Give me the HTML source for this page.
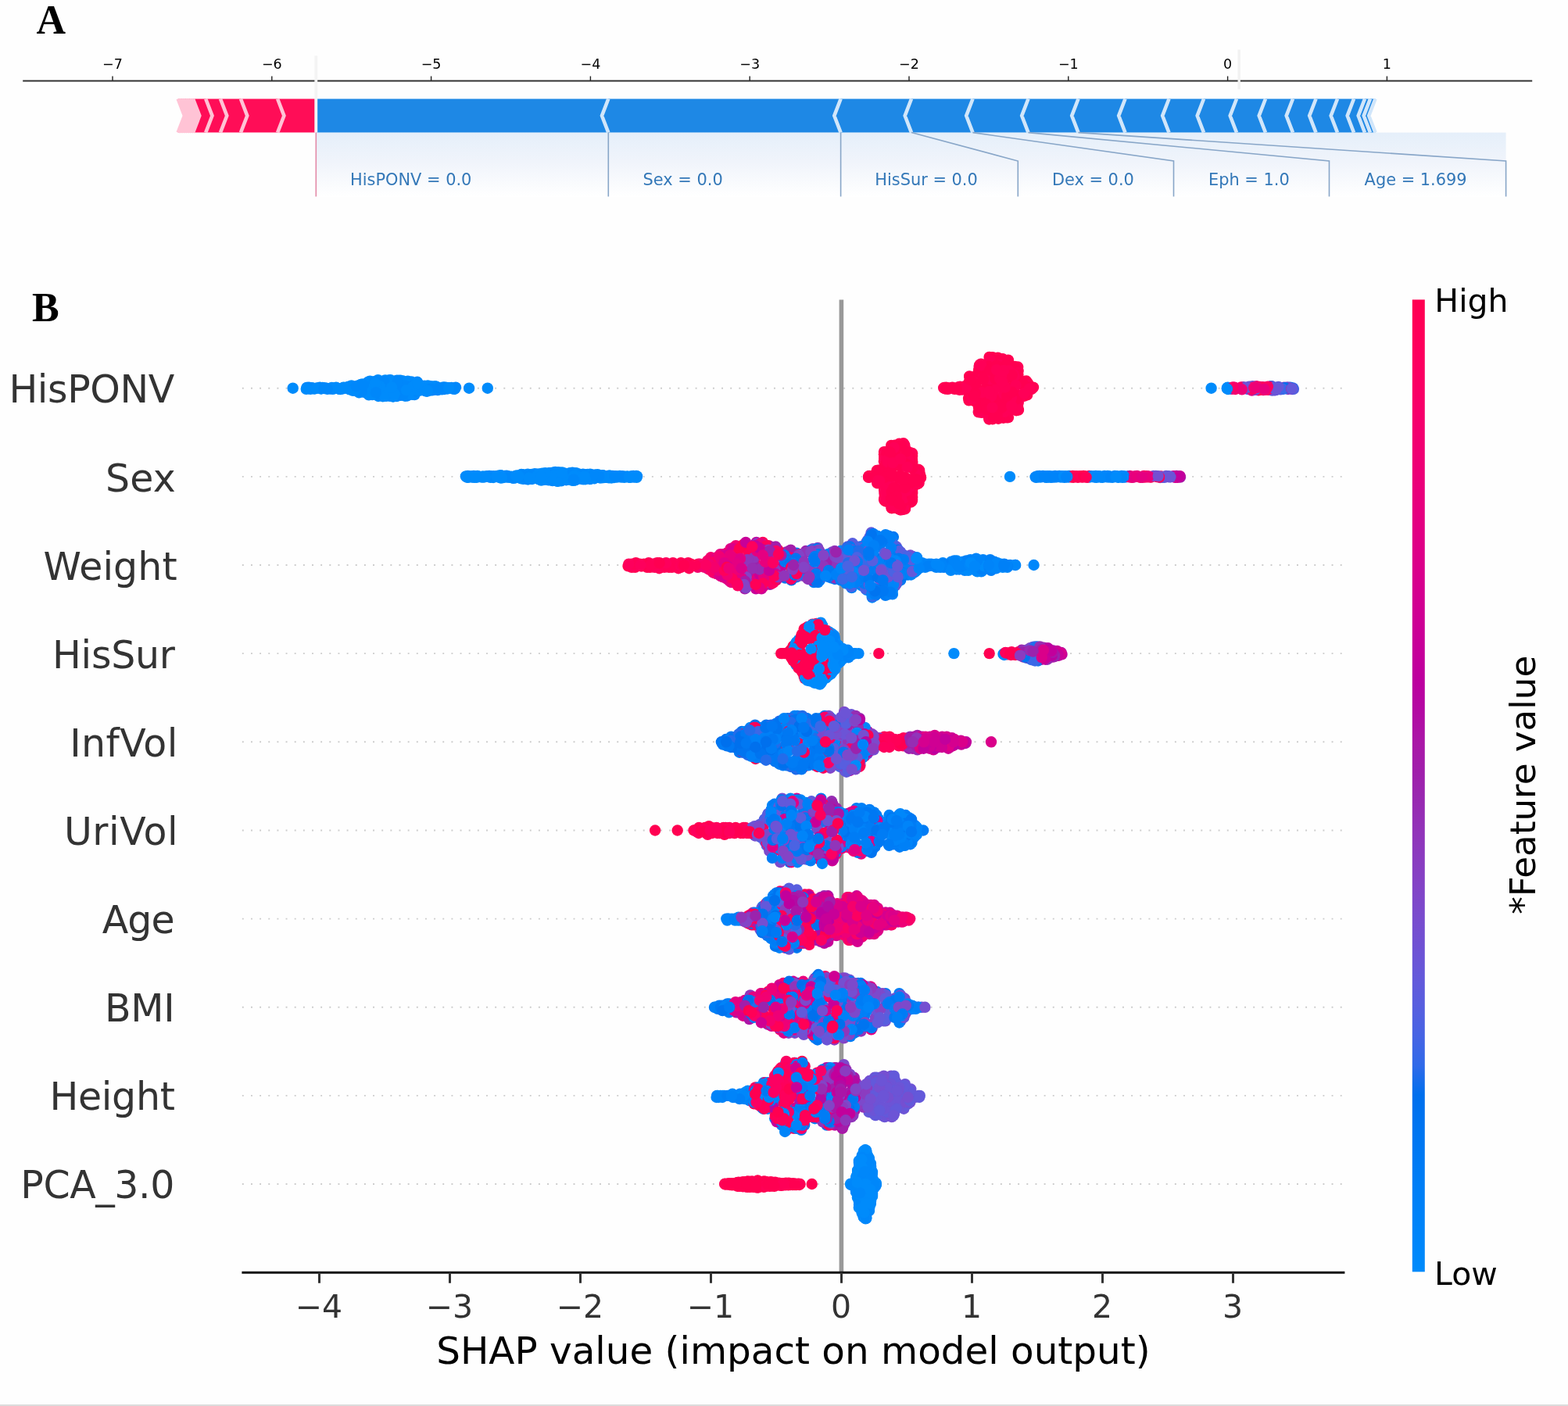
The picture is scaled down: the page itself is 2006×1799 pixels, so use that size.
<!DOCTYPE html><html><head><meta charset="utf-8"><title>SHAP</title><style>html,body{margin:0;padding:0;background:#fff}body{width:2006px;height:1799px;overflow:hidden}svg{display:block}.d path{fill:none;stroke-linecap:round;stroke-width:14.4}</style></head><body><svg width="2006" height="1799" viewBox="0 0 2006 1799"><rect width="2006" height="1799" fill="#fefefe"/><defs><linearGradient id="gshade" x1="0" y1="0" x2="0" y2="1"><stop offset="0" stop-color="#e5effa"/><stop offset="0.45" stop-color="#f0f4fb"/><stop offset="1" stop-color="#ffffff"/></linearGradient><linearGradient id="gcb" x1="0" y1="0" x2="0" y2="1"><stop offset="0.000" stop-color="#ff0051"/><stop offset="0.030" stop-color="#ff0058"/><stop offset="0.061" stop-color="#fd005f"/><stop offset="0.091" stop-color="#fa0065"/><stop offset="0.121" stop-color="#f6006c"/><stop offset="0.152" stop-color="#f10072"/><stop offset="0.182" stop-color="#ec0078"/><stop offset="0.212" stop-color="#e7007e"/><stop offset="0.242" stop-color="#e10084"/><stop offset="0.273" stop-color="#db008a"/><stop offset="0.303" stop-color="#d40090"/><stop offset="0.333" stop-color="#cd0095"/><stop offset="0.364" stop-color="#c5009a"/><stop offset="0.394" stop-color="#bc009f"/><stop offset="0.424" stop-color="#b30aa3"/><stop offset="0.455" stop-color="#aa17a7"/><stop offset="0.485" stop-color="#a01fab"/><stop offset="0.515" stop-color="#9829b1"/><stop offset="0.545" stop-color="#9233b9"/><stop offset="0.576" stop-color="#8a3cc0"/><stop offset="0.606" stop-color="#8244c7"/><stop offset="0.636" stop-color="#794cce"/><stop offset="0.667" stop-color="#6f52d4"/><stop offset="0.697" stop-color="#6459da"/><stop offset="0.727" stop-color="#575fdf"/><stop offset="0.758" stop-color="#4664e4"/><stop offset="0.788" stop-color="#306ae9"/><stop offset="0.818" stop-color="#006fed"/><stop offset="0.848" stop-color="#0074f0"/><stop offset="0.879" stop-color="#0079f3"/><stop offset="0.909" stop-color="#007ef6"/><stop offset="0.939" stop-color="#0082f8"/><stop offset="0.970" stop-color="#0086fa"/><stop offset="1.000" stop-color="#008bfb"/></linearGradient></defs><rect x="404.3" y="169.6" width="1522.3" height="82.4" fill="url(#gshade)"/><line x1="29.2" y1="103.6" x2="1960.2" y2="103.6" stroke="#333" stroke-width="2"/><path d="M144.0 97.6V103M347.8 97.6V103M551.6 97.6V103M755.4 97.6V103M959.2 97.6V103M1163.0 97.6V103M1366.8 97.6V103M1570.6 97.6V103M1774.4 97.6V103" stroke="#222" stroke-width="1.4" fill="none"/><g font-family="'DejaVu Sans','Liberation Sans',sans-serif" font-size="17.5" fill="#000"><text x="144.0" y="88" text-anchor="middle">−7</text><text x="347.8" y="88" text-anchor="middle">−6</text><text x="551.6" y="88" text-anchor="middle">−5</text><text x="755.4" y="88" text-anchor="middle">−4</text><text x="959.2" y="88" text-anchor="middle">−3</text><text x="1163.0" y="88" text-anchor="middle">−2</text><text x="1366.8" y="88" text-anchor="middle">−1</text><text x="1570.6" y="88" text-anchor="middle">0</text><text x="1774.4" y="88" text-anchor="middle">1</text></g><line x1="1585.2" y1="63.5" x2="1585.2" y2="114.3" stroke="#f2f2f2" stroke-width="3.3"/><path d="M778.3 169.6L404.3 169.6L404.3 126.5L778.3 126.5L770.0 148.1ZM778.3 169.6L1075.6 169.6L1068.1 148.1L1075.6 126.5L778.3 126.5L770.8 148.1ZM1075.6 169.6L1166.0 169.6L1158.5 148.1L1166.0 126.5L1075.6 126.5L1068.1 148.1ZM1166.0 169.6L1244.5 169.6L1237.0 148.1L1244.5 126.5L1166.0 126.5L1158.5 148.1ZM1244.5 169.6L1315.5 169.6L1308.0 148.1L1315.5 126.5L1244.5 126.5L1237.0 148.1ZM1315.5 169.6L1379.5 169.6L1372.0 148.1L1379.5 126.5L1315.5 126.5L1308.0 148.1ZM1379.5 169.6L1439.5 169.6L1432.0 148.1L1439.5 126.5L1379.5 126.5L1372.0 148.1ZM1439.5 169.6L1495.5 169.6L1488.0 148.1L1495.5 126.5L1439.5 126.5L1432.0 148.1ZM1495.5 169.6L1540.0 169.6L1532.5 148.1L1540.0 126.5L1495.5 126.5L1488.0 148.1ZM1540.0 169.6L1582.0 169.6L1574.5 148.1L1582.0 126.5L1540.0 126.5L1532.5 148.1ZM1582.0 169.6L1619.0 169.6L1611.5 148.1L1619.0 126.5L1582.0 126.5L1574.5 148.1ZM1619.0 169.6L1654.0 169.6L1646.5 148.1L1654.0 126.5L1619.0 126.5L1611.5 148.1ZM1654.0 169.6L1683.5 169.6L1676.0 148.1L1683.5 126.5L1654.0 126.5L1646.5 148.1ZM1683.5 169.6L1711.0 169.6L1703.5 148.1L1711.0 126.5L1683.5 126.5L1676.0 148.1ZM1711.0 169.6L1732.0 169.6L1724.5 148.1L1732.0 126.5L1711.0 126.5L1703.5 148.1ZM1732.0 169.6L1746.0 169.6L1738.5 148.1L1746.0 126.5L1732.0 126.5L1724.5 148.1ZM1746.0 169.6L1753.0 169.6L1745.5 148.1L1753.0 126.5L1746.0 126.5L1738.5 148.1ZM1753.0 169.6L1759.5 169.6L1752.0 148.1L1759.5 126.5L1753.0 126.5L1745.5 148.1Z" fill="#1e88e5"/><path d="M778.3 169.6L770.0 148.1L778.3 126.5M1075.6 169.6L1067.3 148.1L1075.6 126.5M1166.0 169.6L1157.7 148.1L1166.0 126.5M1244.5 169.6L1236.2 148.1L1244.5 126.5M1315.5 169.6L1307.2 148.1L1315.5 126.5M1379.5 169.6L1371.2 148.1L1379.5 126.5M1439.5 169.6L1431.2 148.1L1439.5 126.5M1495.5 169.6L1487.2 148.1L1495.5 126.5M1540.0 169.6L1531.7 148.1L1540.0 126.5M1582.0 169.6L1573.7 148.1L1582.0 126.5M1619.0 169.6L1610.7 148.1L1619.0 126.5M1654.0 169.6L1645.7 148.1L1654.0 126.5M1683.5 169.6L1675.2 148.1L1683.5 126.5M1711.0 169.6L1702.7 148.1L1711.0 126.5M1732.0 169.6L1723.7 148.1L1732.0 126.5M1746.0 169.6L1737.7 148.1L1746.0 126.5M1753.0 169.6L1744.7 148.1L1753.0 126.5M1759.5 169.6L1751.2 148.1L1759.5 126.5" fill="none" stroke="#d1e6fa" stroke-width="4.6"/><path d="M355.1 169.6L402.8 169.6L402.8 126.5L355.1 126.5L363.4 148.1ZM308.0 169.6L355.1 169.6L362.6 148.1L355.1 126.5L308.0 126.5L315.5 148.1ZM282.0 169.6L308.0 169.6L315.5 148.1L308.0 126.5L282.0 126.5L289.5 148.1ZM263.2 169.6L282.0 169.6L289.5 148.1L282.0 126.5L263.2 126.5L270.7 148.1ZM247.0 169.6L263.2 169.6L270.7 148.1L263.2 126.5L247.0 126.5L254.5 148.1ZM244.5 169.6L247.0 169.6L254.5 148.1L247.0 126.5L244.5 126.5L252.0 148.1ZM242.0 169.6L244.5 169.6L252.0 148.1L244.5 126.5L242.0 126.5L249.5 148.1ZM239.5 169.6L242.0 169.6L249.5 148.1L242.0 126.5L239.5 126.5L247.0 148.1ZM237.0 169.6L239.5 169.6L247.0 148.1L239.5 126.5L237.0 126.5L244.5 148.1ZM234.5 169.6L237.0 169.6L244.5 148.1L237.0 126.5L234.5 126.5L242.0 148.1ZM232.0 169.6L234.5 169.6L242.0 148.1L234.5 126.5L232.0 126.5L239.5 148.1ZM229.7 169.6L232.0 169.6L239.5 148.1L232.0 126.5L229.7 126.5L237.2 148.1ZM227.7 169.6L229.7 169.6L237.2 148.1L229.7 126.5L227.7 126.5L235.2 148.1Z" fill="#ff0d57"/><path d="M355.1 169.6L363.4 148.1L355.1 126.5M308.0 169.6L316.3 148.1L308.0 126.5M282.0 169.6L290.3 148.1L282.0 126.5M263.2 169.6L271.5 148.1L263.2 126.5M247.0 169.6L255.3 148.1L247.0 126.5M244.5 169.6L252.8 148.1L244.5 126.5M242.0 169.6L250.3 148.1L242.0 126.5M239.5 169.6L247.8 148.1L239.5 126.5M237.0 169.6L245.3 148.1L237.0 126.5M234.5 169.6L242.8 148.1L234.5 126.5M232.0 169.6L240.3 148.1L232.0 126.5M229.7 169.6L238.0 148.1L229.7 126.5M227.7 169.6L236.0 148.1L227.7 126.5" fill="none" stroke="#ffc3d5" stroke-width="4.6"/><line x1="404.3" y1="71.3" x2="404.3" y2="169.6" stroke="#f4f4f4" stroke-width="3.8"/><line x1="404.3" y1="169.6" x2="404.3" y2="251.5" stroke="#e38aa8" stroke-width="1.6"/><path d="M778.3 169.6V251.5M1075.6 169.6V251.5M1166.0 169.6L1302.3 206V251.5M1244.5 169.6L1501.5 206V251.5M1315.5 169.6L1700.5 206V251.5M1379.5 169.6L1926.6 206V251.5" fill="none" stroke="#88a6c8" stroke-width="1.6"/><g font-family="'DejaVu Sans','Liberation Sans',sans-serif" font-size="20.9" fill="#3478b8"><text x="448.0" y="236.8">HisPONV = 0.0</text><text x="822.6" y="236.8">Sex = 0.0</text><text x="1119.3" y="236.8">HisSur = 0.0</text><text x="1345.9" y="236.8">Dex = 0.0</text><text x="1546.0" y="236.8">Eph = 1.0</text><text x="1745.6" y="236.8">Age = 1.699</text></g><text x="46.6" y="42.6" font-family="'Liberation Serif','DejaVu Serif',serif" font-weight="bold" font-size="52" fill="#000">A</text><text x="41.1" y="410.6" font-family="'Liberation Serif','DejaVu Serif',serif" font-weight="bold" font-size="52" fill="#000">B</text><path d="M309.85 496.7H1720.4M309.85 609.9H1720.4M309.85 723.0H1720.4M309.85 836.1H1720.4M309.85 949.3H1720.4M309.85 1062.5H1720.4M309.85 1175.6H1720.4M309.85 1288.8H1720.4M309.85 1401.9H1720.4M309.85 1515.0H1720.4" stroke="#cccccc" stroke-width="1.9" stroke-dasharray="1.9 9.25" fill="none"/><line x1="1076.4" y1="383.4" x2="1076.4" y2="1628.2" stroke="#999999" stroke-width="5.6"/><g class="d"><path stroke="#0087fa" d="M1095.5 1505.0h0"/><path stroke="#ff0051" d="M956.9 1511.4h0M1009.1 1513.7h0"/><path stroke="#0087fa" d="M1098.9 1485.4h0"/><path stroke="#ff0051" d="M956.0 1518.7h0"/><path stroke="#0087fa" d="M1088.4 1516.0h0"/><path stroke="#ff0051" d="M999.6 1516.9h0M943.8 1517.8h0"/><path stroke="#ff0057" d="M986.4 1512.3h0"/><path stroke="#0087fa" d="M1116.0 1499.5h0"/><path stroke="#008bfb" d="M1095.0 1523.7h0M1108.2 1558.8h0M1098.8 1545.1h0M1115.9 1501.4h0"/><path stroke="#ff0051" d="M953.7 1518.2h0"/><path stroke="#0087fa" d="M1102.8 1478.6h0"/><path stroke="#ff0057" d="M932.5 1514.1h0"/><path stroke="#ff0051" d="M1008.7 1516.4h0"/><path stroke="#ff0057" d="M927.5 1514.6h0"/><path stroke="#008bfb" d="M1108.3 1473.1h0"/><path stroke="#ff0051" d="M1000.7 1514.1h0"/><path stroke="#ff0057" d="M1023.6 1515.0h0"/><path stroke="#0087fa" d="M1110.3 1479.0h0"/><path stroke="#ff0057" d="M1001.9 1516.4h0M997.6 1516.4h0"/><path stroke="#0087fa" d="M1088.7 1515.5h0"/><path stroke="#008bfb" d="M1098.9 1537.8h0"/><path stroke="#ff0057" d="M979.5 1511.9h0"/><path stroke="#008bfb" d="M1113.8 1540.6h0"/><path stroke="#ff0057" d="M969.4 1510.5h0M1011.5 1516.0h0M1003.2 1514.1h0"/><path stroke="#ff0051" d="M959.5 1518.7h0M956.6 1518.2h0M1013.9 1516.0h0"/><path stroke="#ff0057" d="M995.7 1516.4h0M940.0 1516.4h0"/><path stroke="#008bfb" d="M1102.7 1551.5h0"/><path stroke="#ff0051" d="M927.8 1515.5h0"/><path stroke="#008bfb" d="M1117.5 1521.0h0M1099.0 1541.5h0"/><path stroke="#0087fa" d="M1120.8 1516.0h0"/><path stroke="#008bfb" d="M1113.9 1488.6h0"/><path stroke="#ff0057" d="M935.9 1514.1h0"/><path stroke="#0087fa" d="M1106.9 1471.3h0"/><path stroke="#008bfb" d="M1098.9 1487.7h0"/><path stroke="#0087fa" d="M1104.7 1557.0h0M1112.0 1549.2h0M1108.2 1472.2h0"/><path stroke="#008bfb" d="M1099.3 1542.4h0"/><path stroke="#0087fa" d="M1113.9 1490.9h0"/><path stroke="#008bfb" d="M1103.2 1478.1h0M1095.5 1505.9h0"/><path stroke="#0087fa" d="M1115.4 1502.3h0"/><path stroke="#ff0051" d="M939.2 1514.1h0"/><path stroke="#008bfb" d="M1099.7 1544.7h0M1101.8 1547.0h0M1107.5 1471.7h0"/><path stroke="#ff0057" d="M1017.8 1514.6h0"/><path stroke="#0087fa" d="M1111.8 1547.0h0"/><path stroke="#ff0051" d="M968.7 1519.6h0"/><path stroke="#008bfb" d="M1113.7 1539.2h0"/><path stroke="#ff0051" d="M1022.7 1516.0h0M959.2 1518.2h0"/><path stroke="#ff0057" d="M927.2 1515.0h0"/><path stroke="#ff0051" d="M1022.4 1515.5h0M977.3 1518.7h0"/><path stroke="#ff0057" d="M1018.9 1516.0h0"/><path stroke="#0087fa" d="M1095.2 1525.5h0M1116.1 1530.1h0"/><path stroke="#ff0057" d="M1009.8 1514.6h0"/><path stroke="#0087fa" d="M1097.0 1532.4h0"/><path stroke="#ff0051" d="M984.8 1517.8h0"/><path stroke="#008bfb" d="M1105.0 1557.5h0"/><path stroke="#ff0057" d="M963.8 1518.7h0M930.2 1515.5h0"/><path stroke="#008bfb" d="M1112.2 1545.6h0"/><path stroke="#ff0057" d="M933.2 1514.6h0"/><path stroke="#ff0051" d="M991.6 1512.8h0"/><path stroke="#008bfb" d="M1114.1 1536.5h0"/><path stroke="#ff0057" d="M950.5 1518.2h0"/><path stroke="#0087fa" d="M1107.4 1559.3h0"/><path stroke="#ff0057" d="M964.1 1518.2h0"/><path stroke="#008bfb" d="M1097.3 1531.5h0"/><path stroke="#0087fa" d="M1108.8 1551.5h0"/><path stroke="#008bfb" d="M1102.9 1552.4h0"/><path stroke="#0087fa" d="M1099.9 1541.0h0M1099.4 1488.6h0"/><path stroke="#008bfb" d="M1116.1 1527.8h0"/><path stroke="#ff0051" d="M1021.8 1515.0h0M944.9 1512.8h0"/><path stroke="#0087fa" d="M1098.5 1532.8h0"/><path stroke="#ff0057" d="M990.1 1513.2h0"/><path stroke="#0087fa" d="M1115.2 1498.6h0M1108.3 1554.3h0"/><path stroke="#ff0051" d="M979.2 1517.8h0"/><path stroke="#0087fa" d="M1113.1 1489.1h0"/><path stroke="#ff0051" d="M1038.7 1515.0h0M955.4 1511.9h0M977.5 1511.4h0"/><path stroke="#0087fa" d="M1114.1 1495.4h0"/><path stroke="#008bfb" d="M1111.0 1546.1h0M1113.4 1490.4h0"/><path stroke="#ff0051" d="M946.5 1517.8h0M930.8 1514.6h0"/><path stroke="#008bfb" d="M1097.1 1497.3h0M1120.9 1515.0h0M1115.6 1525.5h0M1114.8 1502.7h0M1111.9 1481.8h0M1111.9 1486.8h0"/><path stroke="#ff0051" d="M962.0 1511.4h0M950.4 1512.3h0"/><path stroke="#ff0057" d="M996.6 1513.7h0"/><path stroke="#ff0051" d="M986.8 1513.2h0"/><path stroke="#008bfb" d="M1115.8 1531.0h0"/><path stroke="#ff0057" d="M996.9 1514.1h0M999.3 1516.4h0M980.0 1512.3h0"/><path stroke="#ff0051" d="M1005.4 1513.7h0M933.7 1516.0h0M1008.3 1515.5h0"/><path stroke="#0087fa" d="M1114.1 1492.7h0"/><path stroke="#ff0057" d="M955.9 1512.3h0"/><path stroke="#0087fa" d="M1105.1 1555.6h0M1115.3 1522.3h0"/><path stroke="#008bfb" d="M1115.7 1505.0h0"/><path stroke="#ff0057" d="M1006.4 1514.1h0"/><path stroke="#ff0051" d="M946.1 1513.2h0M974.5 1517.3h0"/><path stroke="#0087fa" d="M1097.4 1528.3h0"/><path stroke="#ff0051" d="M978.9 1512.8h0M954.0 1512.3h0"/><path stroke="#008bfb" d="M1112.8 1491.8h0"/><path stroke="#ff0051" d="M1001.5 1515.0h0"/><path stroke="#ff0057" d="M1021.2 1514.6h0M961.2 1517.8h0"/><path stroke="#ff0051" d="M981.7 1517.3h0"/><path stroke="#0087fa" d="M1113.0 1540.1h0"/><path stroke="#ff0051" d="M944.2 1516.9h0M995.2 1514.1h0M957.9 1513.2h0"/><path stroke="#008bfb" d="M1098.7 1534.7h0"/><path stroke="#ff0051" d="M970.5 1519.2h0M975.1 1514.6h0M987.9 1517.3h0M969.2 1510.9h0"/><path stroke="#008bfb" d="M1117.4 1510.0h0"/><path stroke="#ff0051" d="M956.6 1517.8h0M942.5 1515.5h0"/><path stroke="#ff0057" d="M1013.1 1515.5h0M961.4 1512.8h0"/><path stroke="#008bfb" d="M1107.1 1557.9h0"/><path stroke="#ff0051" d="M974.1 1516.9h0"/><path stroke="#008bfb" d="M1099.6 1485.0h0"/><path stroke="#ff0051" d="M970.8 1516.4h0M942.7 1515.0h0"/><path stroke="#0087fa" d="M1111.4 1490.4h0"/><path stroke="#ff0051" d="M966.6 1511.9h0"/><path stroke="#0087fa" d="M1097.1 1499.5h0M1112.9 1500.0h0"/><path stroke="#008bfb" d="M1100.5 1539.7h0M1105.8 1553.4h0M1107.8 1474.0h0"/><path stroke="#ff0051" d="M960.4 1513.2h0"/><path stroke="#ff0057" d="M993.7 1513.7h0"/><path stroke="#008bfb" d="M1113.5 1537.4h0M1109.1 1477.2h0"/><path stroke="#ff0057" d="M979.7 1516.9h0"/><path stroke="#008bfb" d="M1110.9 1492.7h0M1095.0 1508.2h0"/><path stroke="#ff0051" d="M936.2 1514.6h0"/><path stroke="#0087fa" d="M1105.8 1476.3h0"/><path stroke="#008bfb" d="M1098.9 1496.8h0M1105.1 1472.6h0"/><path stroke="#ff0051" d="M967.7 1515.0h0"/><path stroke="#ff0057" d="M982.5 1513.7h0"/><path stroke="#0087fa" d="M1117.7 1519.2h0M1099.9 1486.8h0"/><path stroke="#008bfb" d="M1113.9 1527.8h0"/><path stroke="#ff0057" d="M943.6 1513.2h0"/><path stroke="#008bfb" d="M1105.3 1477.2h0"/><path stroke="#ff0051" d="M942.3 1514.1h0"/><path stroke="#ff0057" d="M964.5 1512.3h0"/><path stroke="#ff0051" d="M957.4 1516.4h0M991.4 1514.1h0M982.0 1515.0h0"/><path stroke="#008bfb" d="M1112.2 1531.5h0"/><path stroke="#ff0051" d="M955.2 1513.7h0"/><path stroke="#0087fa" d="M1111.8 1487.7h0M1106.4 1480.9h0"/><path stroke="#008bfb" d="M1107.1 1481.3h0"/><path stroke="#ff0051" d="M936.5 1516.4h0"/><path stroke="#0087fa" d="M1113.9 1503.2h0"/><path stroke="#008bfb" d="M1110.0 1490.4h0"/><path stroke="#0087fa" d="M1108.3 1558.4h0"/><path stroke="#008bfb" d="M1115.0 1506.8h0"/><path stroke="#ff0051" d="M988.6 1514.1h0M959.7 1517.3h0M984.7 1512.8h0M987.4 1515.0h0"/><path stroke="#0087fa" d="M1120.0 1517.8h0"/><path stroke="#008bfb" d="M1113.4 1526.0h0"/><path stroke="#ff0051" d="M1014.4 1514.1h0"/><path stroke="#008bfb" d="M1096.5 1504.6h0"/><path stroke="#ff0057" d="M1001.2 1515.5h0"/><path stroke="#0087fa" d="M1114.5 1506.4h0"/><path stroke="#008bfb" d="M1101.0 1543.8h0"/><path stroke="#ff0051" d="M948.3 1515.5h0M983.8 1516.9h0"/><path stroke="#008bfb" d="M1098.5 1498.6h0"/><path stroke="#ff0057" d="M1004.8 1516.4h0"/><path stroke="#ff0051" d="M943.0 1513.2h0"/><path stroke="#0087fa" d="M1103.7 1506.4h0"/><path stroke="#008bfb" d="M1120.7 1513.7h0"/><path stroke="#0087fa" d="M1112.6 1525.5h0M1102.7 1480.9h0M1099.3 1536.0h0"/><path stroke="#008bfb" d="M1112.6 1509.6h0M1109.5 1498.2h0"/><path stroke="#0087fa" d="M1120.1 1516.4h0M1103.8 1495.0h0"/><path stroke="#008bfb" d="M1099.5 1527.8h0"/><path stroke="#0087fa" d="M1107.2 1506.8h0"/><path stroke="#008bfb" d="M1104.8 1530.1h0"/><path stroke="#0087fa" d="M1110.1 1546.5h0M1108.5 1492.7h0M1095.3 1525.1h0M1106.1 1489.1h0M1111.7 1483.1h0"/><path stroke="#ff0051" d="M957.2 1515.5h0"/><path stroke="#008bfb" d="M1088.2 1514.6h0M1112.9 1539.7h0"/><path stroke="#ff0051" d="M1016.9 1516.0h0"/><path stroke="#008bfb" d="M1102.2 1483.6h0M1100.2 1487.2h0"/><path stroke="#0087fa" d="M1090.6 1516.0h0"/><path stroke="#ff0051" d="M955.3 1514.1h0M990.6 1517.8h0"/><path stroke="#0087fa" d="M1114.2 1503.7h0"/><path stroke="#ff0051" d="M967.0 1516.0h0"/><path stroke="#0087fa" d="M1105.6 1552.4h0M1109.1 1501.4h0M1099.3 1490.9h0"/><path stroke="#008bfb" d="M1100.3 1489.5h0M1102.8 1493.6h0M1103.2 1521.4h0"/><path stroke="#0087fa" d="M1111.5 1504.1h0"/><path stroke="#008bfb" d="M1107.3 1515.0h0"/><path stroke="#0087fa" d="M1106.3 1499.1h0"/><path stroke="#008bfb" d="M1105.4 1551.5h0M1112.4 1529.6h0"/><path stroke="#0087fa" d="M1100.1 1526.4h0"/><path stroke="#ff0051" d="M966.8 1517.8h0"/><path stroke="#008bfb" d="M1096.6 1512.8h0M1113.5 1522.3h0M1102.4 1546.5h0M1108.0 1539.7h0"/><path stroke="#9b23ad" d="M1067.6 1366.3h0"/><path stroke="#b30aa3" d="M1057.2 1366.3h0"/><path stroke="#6c54d6" d="M1161.7 1412.4h0"/><path stroke="#6359da" d="M1120.1 1427.1h0"/><path stroke="#ab15a7" d="M1093.3 1420.8h0"/><path stroke="#f90067" d="M971.3 1414.5h0"/><path stroke="#ff0057" d="M1029.7 1364.2h0"/><path stroke="#0080f7" d="M1024.9 1445.9h0"/><path stroke="#0078f3" d="M1035.3 1374.7h0"/><path stroke="#0080f7" d="M958.8 1408.2h0"/><path stroke="#fe005c" d="M1015.6 1443.8h0"/><path stroke="#0080f7" d="M991.3 1431.2h0"/><path stroke="#6c54d6" d="M1118.9 1378.8h0"/><path stroke="#7d49cb" d="M1080.6 1437.5h0"/><path stroke="#007cf5" d="M1019.4 1443.8h0"/><path stroke="#0078f3" d="M1057.5 1439.6h0"/><path stroke="#8b3cc0" d="M1091.4 1427.1h0"/><path stroke="#0080f7" d="M917.1 1401.9h0"/><path stroke="#fc0062" d="M1006.4 1445.9h0"/><path stroke="#754fd1" d="M1125.8 1378.8h0"/><path stroke="#a31daa" d="M1092.8 1378.8h0"/><path stroke="#754fd1" d="M1140.0 1376.7h0"/><path stroke="#fc0062" d="M974.2 1416.6h0"/><path stroke="#6c54d6" d="M1131.8 1429.1h0"/><path stroke="#0084f9" d="M946.7 1399.8h0"/><path stroke="#007cf5" d="M1052.6 1368.4h0"/><path stroke="#0084f9" d="M1017.1 1441.7h0"/><path stroke="#6c54d6" d="M1175.0 1401.9h0"/><path stroke="#0084f9" d="M977.0 1385.1h0"/><path stroke="#6c54d6" d="M1146.7 1385.1h0"/><path stroke="#0084f9" d="M982.3 1418.7h0"/><path stroke="#6c54d6" d="M1170.8 1404.0h0"/><path stroke="#754fd1" d="M1112.4 1383.0h0"/><path stroke="#fe005c" d="M992.0 1429.1h0"/><path stroke="#0084f9" d="M948.3 1401.9h0M926.5 1401.9h0"/><path stroke="#0087fa" d="M937.0 1399.8h0"/><path stroke="#ff0057" d="M991.9 1427.1h0"/><path stroke="#0084f9" d="M921.9 1401.9h0"/><path stroke="#fe005c" d="M966.3 1391.4h0"/><path stroke="#fc0062" d="M1027.9 1366.3h0"/><path stroke="#a31daa" d="M1069.6 1366.3h0"/><path stroke="#0080f7" d="M1000.0 1439.6h0"/><path stroke="#6c54d6" d="M1116.2 1383.0h0"/><path stroke="#ff0051" d="M993.2 1425.0h0"/><path stroke="#bb00a0" d="M1081.1 1435.4h0"/><path stroke="#6c54d6" d="M1156.3 1418.7h0"/><path stroke="#6359da" d="M1112.9 1385.1h0"/><path stroke="#0084f9" d="M1016.9 1360.0h0"/><path stroke="#fc0062" d="M978.7 1385.1h0"/><path stroke="#6359da" d="M1121.3 1378.8h0"/><path stroke="#ab15a7" d="M1056.9 1437.5h0M1077.7 1443.8h0"/><path stroke="#007cf5" d="M1005.1 1360.0h0"/><path stroke="#754fd1" d="M1120.9 1383.0h0"/><path stroke="#007cf5" d="M1029.2 1439.6h0"/><path stroke="#0087fa" d="M918.4 1401.9h0"/><path stroke="#9135ba" d="M1090.3 1425.0h0"/><path stroke="#fe005c" d="M1015.8 1360.0h0"/><path stroke="#c2009c" d="M1093.5 1418.7h0"/><path stroke="#754fd1" d="M1123.5 1383.0h0"/><path stroke="#0084f9" d="M969.5 1391.4h0"/><path stroke="#6c54d6" d="M1157.9 1387.2h0"/><path stroke="#0080f7" d="M960.1 1408.2h0"/><path stroke="#6c54d6" d="M1144.5 1380.9h0"/><path stroke="#fe005c" d="M964.8 1412.4h0"/><path stroke="#6c54d6" d="M1128.1 1427.1h0"/><path stroke="#7d49cb" d="M1079.6 1362.1h0"/><path stroke="#ff0051" d="M1026.1 1357.9h0"/><path stroke="#0084f9" d="M952.5 1406.1h0M932.2 1401.9h0"/><path stroke="#c2009c" d="M1094.9 1385.1h0"/><path stroke="#0087fa" d="M953.4 1397.7h0M982.2 1385.1h0"/><path stroke="#0080f7" d="M1005.6 1443.8h0"/><path stroke="#6c54d6" d="M1130.2 1427.1h0"/><path stroke="#0084f9" d="M1019.0 1362.1h0"/><path stroke="#007cf5" d="M1042.6 1431.2h0"/><path stroke="#6359da" d="M1124.2 1425.0h0"/><path stroke="#0087fa" d="M924.6 1401.9h0"/><path stroke="#008bfb" d="M956.7 1395.6h0"/><path stroke="#f90067" d="M1027.8 1437.5h0"/><path stroke="#ff0057" d="M999.2 1366.3h0"/><path stroke="#007cf5" d="M976.3 1418.7h0"/><path stroke="#0087fa" d="M919.2 1404.0h0"/><path stroke="#6359da" d="M1111.6 1422.9h0"/><path stroke="#0087fa" d="M937.4 1404.0h0"/><path stroke="#6359da" d="M1158.3 1414.5h0"/><path stroke="#c2009c" d="M993.7 1435.4h0"/><path stroke="#962db3" d="M1091.6 1420.8h0"/><path stroke="#754fd1" d="M1113.9 1418.7h0"/><path stroke="#a31daa" d="M1059.9 1366.3h0"/><path stroke="#0080f7" d="M940.5 1401.9h0"/><path stroke="#c2009c" d="M1068.0 1439.6h0"/><path stroke="#fc0062" d="M1034.7 1429.1h0M986.3 1385.1h0"/><path stroke="#a31daa" d="M1049.1 1431.2h0"/><path stroke="#9135ba" d="M1052.4 1435.4h0"/><path stroke="#6c54d6" d="M1112.7 1387.2h0"/><path stroke="#a31daa" d="M1069.6 1437.5h0"/><path stroke="#007cf5" d="M1014.5 1441.7h0"/><path stroke="#fe005c" d="M1009.1 1416.6h0"/><path stroke="#fc0062" d="M1005.9 1357.9h0"/><path stroke="#d5008f" d="M1019.3 1364.2h0"/><path stroke="#0084f9" d="M916.6 1404.0h0"/><path stroke="#f90067" d="M1008.3 1366.3h0"/><path stroke="#0084f9" d="M941.6 1401.9h0"/><path stroke="#ff0057" d="M985.7 1416.6h0M967.1 1393.5h0"/><path stroke="#fc0062" d="M997.9 1368.4h0"/><path stroke="#6359da" d="M1144.9 1385.1h0"/><path stroke="#0084f9" d="M956.0 1399.8h0"/><path stroke="#6359da" d="M1143.8 1376.7h0"/><path stroke="#9135ba" d="M1104.5 1416.6h0"/><path stroke="#0078f3" d="M997.9 1370.5h0"/><path stroke="#0084f9" d="M976.4 1387.2h0"/><path stroke="#6359da" d="M1120.0 1425.0h0"/><path stroke="#f90067" d="M965.1 1393.5h0"/><path stroke="#008bfb" d="M945.2 1404.0h0"/><path stroke="#962db3" d="M1082.3 1368.4h0"/><path stroke="#fc0062" d="M1045.4 1372.6h0"/><path stroke="#f90067" d="M960.1 1401.9h0"/><path stroke="#fc0062" d="M1040.6 1429.1h0"/><path stroke="#ff0057" d="M1060.8 1439.6h0"/><path stroke="#0078f3" d="M966.4 1395.6h0"/><path stroke="#fe005c" d="M1043.6 1429.1h0"/><path stroke="#f90067" d="M1025.5 1443.8h0"/><path stroke="#0078f3" d="M1026.2 1439.6h0"/><path stroke="#6359da" d="M1140.9 1378.8h0"/><path stroke="#ff0057" d="M1005.5 1437.5h0"/><path stroke="#6359da" d="M1117.4 1425.0h0"/><path stroke="#0084f9" d="M939.2 1404.0h0"/><path stroke="#6359da" d="M1138.7 1385.1h0"/><path stroke="#6c54d6" d="M1165.3 1393.5h0"/><path stroke="#6359da" d="M1164.7 1397.7h0"/><path stroke="#008bfb" d="M949.9 1401.9h0"/><path stroke="#754fd1" d="M1140.9 1429.1h0"/><path stroke="#0084f9" d="M957.3 1404.0h0"/><path stroke="#6359da" d="M1163.1 1395.6h0"/><path stroke="#0080f7" d="M964.8 1410.3h0"/><path stroke="#0084f9" d="M1062.4 1366.3h0"/><path stroke="#a31daa" d="M1091.6 1380.9h0"/><path stroke="#8b3cc0" d="M1100.9 1412.4h0"/><path stroke="#754fd1" d="M1144.0 1425.0h0"/><path stroke="#6c54d6" d="M1129.3 1422.9h0"/><path stroke="#007cf5" d="M1017.2 1418.7h0"/><path stroke="#7d49cb" d="M1095.2 1410.3h0"/><path stroke="#6359da" d="M1156.0 1397.7h0M1149.2 1404.0h0"/><path stroke="#fc0062" d="M1036.6 1422.9h0"/><path stroke="#ff0051" d="M1008.3 1435.4h0"/><path stroke="#0084f9" d="M1043.6 1374.7h0"/><path stroke="#cf0093" d="M1019.4 1416.6h0"/><path stroke="#007cf5" d="M1013.5 1422.9h0"/><path stroke="#754fd1" d="M1130.7 1376.7h0"/><path stroke="#0078f3" d="M1049.2 1422.9h0"/><path stroke="#c2009c" d="M1081.3 1404.0h0"/><path stroke="#754fd1" d="M1164.4 1410.3h0"/><path stroke="#9135ba" d="M1063.9 1437.5h0"/><path stroke="#6359da" d="M1130.8 1420.8h0"/><path stroke="#6c54d6" d="M1127.3 1380.9h0"/><path stroke="#0080f7" d="M999.5 1435.4h0M954.9 1401.9h0"/><path stroke="#0084f9" d="M924.1 1404.0h0"/><path stroke="#0080f7" d="M1044.6 1376.7h0M1043.4 1422.9h0"/><path stroke="#ff0057" d="M1024.2 1414.5h0"/><path stroke="#ff0051" d="M1062.6 1420.8h0"/><path stroke="#ff0057" d="M1009.5 1429.1h0"/><path stroke="#6c54d6" d="M1152.0 1391.4h0"/><path stroke="#007cf5" d="M995.8 1408.2h0"/><path stroke="#6c54d6" d="M1149.8 1416.6h0"/><path stroke="#0084f9" d="M966.9 1408.2h0"/><path stroke="#b30aa3" d="M989.1 1416.6h0"/><path stroke="#ff0051" d="M1004.0 1418.7h0"/><path stroke="#0087fa" d="M951.5 1401.9h0"/><path stroke="#ff0057" d="M994.7 1431.2h0"/><path stroke="#6c54d6" d="M1148.4 1408.2h0"/><path stroke="#fc0062" d="M1028.6 1368.4h0"/><path stroke="#6c54d6" d="M1139.8 1387.2h0M1162.7 1410.3h0"/><path stroke="#a31daa" d="M1087.2 1397.7h0"/><path stroke="#6c54d6" d="M1142.3 1416.6h0"/><path stroke="#fe005c" d="M992.8 1374.7h0"/><path stroke="#c80098" d="M1068.6 1429.1h0"/><path stroke="#8b3cc0" d="M1109.3 1414.5h0"/><path stroke="#754fd1" d="M1159.2 1410.3h0"/><path stroke="#007cf5" d="M1026.7 1360.0h0"/><path stroke="#6359da" d="M1118.7 1387.2h0"/><path stroke="#bb00a0" d="M1077.3 1387.2h0"/><path stroke="#f90067" d="M991.1 1376.7h0"/><path stroke="#0080f7" d="M1015.6 1366.3h0"/><path stroke="#6359da" d="M1164.0 1408.2h0"/><path stroke="#0078f3" d="M986.0 1408.2h0"/><path stroke="#ab15a7" d="M1072.1 1437.5h0"/><path stroke="#6c54d6" d="M1121.0 1393.5h0"/><path stroke="#b30aa3" d="M1079.2 1368.4h0"/><path stroke="#0080f7" d="M1032.2 1387.2h0"/><path stroke="#0084f9" d="M1020.1 1427.1h0"/><path stroke="#7d49cb" d="M1104.7 1408.2h0"/><path stroke="#007cf5" d="M1023.8 1416.6h0"/><path stroke="#ff0057" d="M1032.1 1420.8h0"/><path stroke="#8b3cc0" d="M1096.0 1387.2h0"/><path stroke="#6c54d6" d="M1140.2 1420.8h0"/><path stroke="#007cf5" d="M1030.8 1418.7h0"/><path stroke="#962db3" d="M1057.8 1370.5h0"/><path stroke="#6359da" d="M1135.1 1422.9h0"/><path stroke="#fe005c" d="M977.7 1418.7h0"/><path stroke="#8443c6" d="M1087.4 1374.7h0"/><path stroke="#0084f9" d="M1004.2 1448.0h0"/><path stroke="#962db3" d="M1088.3 1410.3h0"/><path stroke="#007cf5" d="M1026.6 1433.3h0"/><path stroke="#754fd1" d="M1161.6 1404.0h0"/><path stroke="#b30aa3" d="M1075.4 1366.3h0"/><path stroke="#0080f7" d="M1052.6 1372.6h0M930.4 1401.9h0"/><path stroke="#c80098" d="M1094.1 1404.0h0"/><path stroke="#ff0057" d="M1009.8 1406.1h0"/><path stroke="#8443c6" d="M1063.3 1385.1h0"/><path stroke="#007cf5" d="M1044.9 1418.7h0"/><path stroke="#0080f7" d="M1023.2 1370.5h0"/><path stroke="#8b3cc0" d="M1109.0 1391.4h0"/><path stroke="#0078f3" d="M1061.4 1370.5h0"/><path stroke="#fc0062" d="M1004.8 1427.1h0"/><path stroke="#c80098" d="M1073.8 1410.3h0"/><path stroke="#754fd1" d="M1100.0 1391.4h0"/><path stroke="#b30aa3" d="M1092.6 1383.0h0"/><path stroke="#6359da" d="M1146.9 1418.7h0"/><path stroke="#0078f3" d="M1029.3 1406.1h0"/><path stroke="#fe005c" d="M1003.4 1389.3h0M1029.4 1433.3h0"/><path stroke="#0078f3" d="M1056.4 1404.0h0"/><path stroke="#6359da" d="M1176.1 1404.0h0"/><path stroke="#c2009c" d="M1033.2 1406.1h0"/><path stroke="#ff0057" d="M998.8 1399.8h0"/><path stroke="#9b23ad" d="M1050.6 1399.8h0"/><path stroke="#9135ba" d="M1089.3 1429.1h0"/><path stroke="#6359da" d="M1156.7 1389.3h0"/><path stroke="#6c54d6" d="M1115.6 1401.9h0"/><path stroke="#8443c6" d="M1063.6 1374.7h0"/><path stroke="#b30aa3" d="M1090.1 1399.8h0"/><path stroke="#007cf5" d="M1092.8 1416.6h0"/><path stroke="#0078f3" d="M1051.1 1416.6h0"/><path stroke="#9135ba" d="M1088.3 1425.0h0"/><path stroke="#8b3cc0" d="M1107.0 1399.8h0"/><path stroke="#ff0057" d="M993.9 1391.4h0"/><path stroke="#fe005c" d="M1000.9 1433.3h0"/><path stroke="#0084f9" d="M1044.0 1412.4h0"/><path stroke="#a31daa" d="M1065.2 1393.5h0"/><path stroke="#8b3cc0" d="M1093.7 1391.4h0"/><path stroke="#6c54d6" d="M1136.9 1389.3h0M1121.3 1399.8h0"/><path stroke="#6359da" d="M1176.8 1401.9h0"/><path stroke="#a31daa" d="M1090.0 1387.2h0"/><path stroke="#0074f0" d="M1086.2 1418.7h0"/><path stroke="#6359da" d="M1119.2 1401.9h0"/><path stroke="#0078f3" d="M1091.3 1406.1h0"/><path stroke="#6c54d6" d="M1150.3 1391.4h0"/><path stroke="#7d49cb" d="M1081.9 1414.5h0"/><path stroke="#0080f7" d="M978.0 1387.2h0"/><path stroke="#6c54d6" d="M1122.4 1410.3h0"/><path stroke="#0084f9" d="M991.0 1404.0h0"/><path stroke="#b30aa3" d="M1090.8 1387.2h0"/><path stroke="#fc0062" d="M1047.3 1383.0h0"/><path stroke="#754fd1" d="M1108.1 1387.2h0"/><path stroke="#0078f3" d="M1037.0 1416.6h0"/><path stroke="#ff0057" d="M1034.5 1374.7h0"/><path stroke="#0084f9" d="M1053.8 1410.3h0"/><path stroke="#c80098" d="M1031.8 1399.8h0"/><path stroke="#8b3cc0" d="M1059.6 1380.9h0"/><path stroke="#6c54d6" d="M1131.5 1418.7h0"/><path stroke="#0087fa" d="M973.0 1401.9h0"/><path stroke="#6359da" d="M1121.1 1385.1h0"/><path stroke="#754fd1" d="M1134.0 1389.3h0"/><path stroke="#6c54d6" d="M1127.8 1416.6h0"/><path stroke="#fc0062" d="M1005.8 1378.8h0"/><path stroke="#a31daa" d="M1078.4 1441.7h0"/><path stroke="#fe005c" d="M1046.8 1393.5h0"/><path stroke="#ff0057" d="M970.2 1393.5h0"/><path stroke="#fe005c" d="M1002.8 1412.4h0"/><path stroke="#f90067" d="M1008.8 1422.9h0"/><path stroke="#b30aa3" d="M1072.2 1435.4h0"/><path stroke="#6359da" d="M1145.0 1395.6h0"/><path stroke="#ff0057" d="M972.6 1414.5h0"/><path stroke="#0078f3" d="M1022.5 1401.9h0"/><path stroke="#fe005c" d="M1003.5 1401.9h0"/><path stroke="#0080f7" d="M1063.6 1435.4h0M1014.8 1397.7h0"/><path stroke="#fe005c" d="M995.2 1370.5h0M1005.2 1366.3h0"/><path stroke="#0080f7" d="M1057.8 1410.3h0"/><path stroke="#9135ba" d="M1095.0 1395.6h0"/><path stroke="#6c54d6" d="M1117.9 1420.8h0"/><path stroke="#a31daa" d="M1067.5 1374.7h0"/><path stroke="#fe005c" d="M1011.7 1397.7h0"/><path stroke="#f90067" d="M1009.9 1368.4h0"/><path stroke="#0080f7" d="M1021.3 1380.9h0"/><path stroke="#b30aa3" d="M1056.1 1391.4h0"/><path stroke="#8b3cc0" d="M1064.8 1416.6h0"/><path stroke="#f90067" d="M1050.3 1370.5h0"/><path stroke="#007cf5" d="M998.4 1422.9h0"/><path stroke="#fe005c" d="M1010.2 1383.0h0"/><path stroke="#fc0062" d="M967.6 1410.3h0"/><path stroke="#ab15a7" d="M1022.4 1406.1h0"/><path stroke="#f90067" d="M1014.3 1378.8h0"/><path stroke="#754fd1" d="M1148.8 1395.6h0M1110.5 1416.6h0"/><path stroke="#ff0057" d="M982.7 1408.2h0"/><path stroke="#8443c6" d="M1051.5 1389.3h0"/><path stroke="#ff0057" d="M1026.5 1406.1h0"/><path stroke="#0080f7" d="M946.2 1406.1h0"/><path stroke="#b30aa3" d="M1049.9 1406.1h0"/><path stroke="#9b23ad" d="M1085.1 1376.7h0"/><path stroke="#c80098" d="M1069.2 1433.3h0"/><path stroke="#9b23ad" d="M1070.0 1370.5h0"/><path stroke="#0084f9" d="M1019.0 1439.6h0"/><path stroke="#0080f7" d="M1036.6 1383.0h0"/><path stroke="#6c54d6" d="M1138.2 1408.2h0"/><path stroke="#962db3" d="M1051.1 1393.5h0"/><path stroke="#6c54d6" d="M1134.6 1391.4h0"/><path stroke="#fc0062" d="M987.4 1387.2h0"/><path stroke="#a31daa" d="M1069.8 1431.2h0"/><path stroke="#0084f9" d="M983.9 1404.0h0"/><path stroke="#754fd1" d="M1125.1 1391.4h0"/><path stroke="#cf0093" d="M1018.1 1366.3h0"/><path stroke="#c2009c" d="M1070.1 1376.7h0"/><path stroke="#6359da" d="M1125.3 1420.8h0"/><path stroke="#8b3cc0" d="M1074.1 1401.9h0"/><path stroke="#0084f9" d="M1003.0 1425.0h0"/><path stroke="#754fd1" d="M1113.5 1406.1h0"/><path stroke="#fe005c" d="M1012.0 1401.9h0"/><path stroke="#6c54d6" d="M1143.2 1427.1h0"/><path stroke="#c2009c" d="M1073.7 1368.4h0"/><path stroke="#8b3cc0" d="M1077.7 1416.6h0"/><path stroke="#ff0057" d="M1004.0 1374.7h0"/><path stroke="#6c54d6" d="M1147.7 1395.6h0"/><path stroke="#0078f3" d="M980.6 1395.6h0"/><path stroke="#ff0051" d="M966.2 1399.8h0"/><path stroke="#ab15a7" d="M1068.7 1416.6h0"/><path stroke="#ff0051" d="M1009.7 1393.5h0"/><path stroke="#0074f0" d="M1060.5 1435.4h0"/><path stroke="#0084f9" d="M935.9 1401.9h0"/><path stroke="#6c54d6" d="M1127.8 1383.0h0"/><path stroke="#c2009c" d="M1087.2 1425.0h0"/><path stroke="#c80098" d="M1084.4 1380.9h0"/><path stroke="#754fd1" d="M1136.2 1404.0h0"/><path stroke="#8b3cc0" d="M1081.3 1370.5h0"/><path stroke="#fc0062" d="M1045.6 1414.5h0"/><path stroke="#9b23ad" d="M1057.8 1431.2h0"/><path stroke="#0084f9" d="M1065.0 1404.0h0"/><path stroke="#ff0057" d="M1024.6 1372.6h0"/><path stroke="#c2009c" d="M1070.8 1397.7h0"/><path stroke="#fc0062" d="M993.1 1391.4h0"/><path stroke="#0078f3" d="M1055.2 1431.2h0"/><path stroke="#ff0057" d="M1030.0 1427.1h0"/><path stroke="#0080f7" d="M1039.6 1391.4h0"/><path stroke="#f90067" d="M1042.8 1380.9h0"/><path stroke="#fc0062" d="M989.7 1397.7h0"/><path stroke="#c2009c" d="M1076.8 1422.9h0"/><path stroke="#ff0057" d="M1002.7 1431.2h0"/><path stroke="#ff0051" d="M995.4 1422.9h0"/><path stroke="#0084f9" d="M995.9 1372.6h0"/><path stroke="#007cf5" d="M1055.1 1427.1h0"/><path stroke="#0080f7" d="M1037.9 1380.9h0"/><path stroke="#007cf5" d="M1036.4 1401.9h0"/><path stroke="#bb00a0" d="M1075.4 1383.0h0"/><path stroke="#ab15a7" d="M1071.8 1408.2h0"/><path stroke="#ff0057" d="M1027.4 1372.6h0"/><path stroke="#0080f7" d="M1018.9 1378.8h0"/><path stroke="#c2009c" d="M1073.7 1385.1h0"/><path stroke="#b30aa3" d="M1075.3 1389.3h0"/><path stroke="#6c54d6" d="M1130.0 1404.0h0"/><path stroke="#ff0057" d="M1041.4 1418.7h0"/><path stroke="#007cf5" d="M1026.4 1391.4h0"/><path stroke="#6c54d6" d="M1130.4 1401.9h0"/><path stroke="#9135ba" d="M1081.9 1433.3h0"/><path stroke="#a31daa" d="M1075.3 1393.5h0"/><path stroke="#fc0062" d="M994.6 1380.9h0"/><path stroke="#ab15a7" d="M1075.5 1397.7h0"/><path stroke="#8443c6" d="M1094.8 1393.5h0"/><path stroke="#c80098" d="M1019.0 1391.4h0"/><path stroke="#8443c6" d="M1060.7 1414.5h0"/><path stroke="#ff0057" d="M1033.2 1376.7h0"/><path stroke="#0078f3" d="M1133.0 1271.2h0"/><path stroke="#0074f0" d="M1093.0 1321.7h0"/><path stroke="#e00086" d="M941.7 1295.3h0"/><path stroke="#fc0062" d="M1055.7 1249.2h0"/><path stroke="#007cf5" d="M920.1 1286.6h0"/><path stroke="#8b3cc0" d="M1067.4 1330.5h0"/><path stroke="#0078f3" d="M930.4 1284.4h0"/><path stroke="#8443c6" d="M1016.9 1321.7h0"/><path stroke="#f20072" d="M974.5 1271.2h0"/><path stroke="#0070ed" d="M1021.0 1258.0h0"/><path stroke="#e00086" d="M1113.8 1262.4h0"/><path stroke="#0078f3" d="M918.2 1290.9h0"/><path stroke="#4b63e3" d="M1057.7 1251.4h0"/><path stroke="#0078f3" d="M1121.8 1269.0h0"/><path stroke="#754fd1" d="M1152.2 1306.3h0"/><path stroke="#0078f3" d="M923.1 1286.6h0"/><path stroke="#f5006c" d="M997.7 1317.3h0"/><path stroke="#0080f7" d="M1150.4 1271.2h0"/><path stroke="#007cf5" d="M1097.8 1258.0h0"/><path stroke="#6c54d6" d="M1086.9 1253.6h0"/><path stroke="#0078f3" d="M1015.9 1319.5h0"/><path stroke="#007cf5" d="M1043.0 1328.3h0"/><path stroke="#8443c6" d="M1079.6 1328.3h0"/><path stroke="#0080f7" d="M1150.5 1308.5h0"/><path stroke="#8443c6" d="M1019.1 1319.5h0"/><path stroke="#0074f0" d="M1046.9 1247.0h0"/><path stroke="#8443c6" d="M1157.5 1277.8h0"/><path stroke="#ff0057" d="M982.5 1269.0h0"/><path stroke="#0084f9" d="M920.2 1288.8h0"/><path stroke="#0078f3" d="M1041.0 1326.1h0"/><path stroke="#a31daa" d="M943.8 1295.3h0"/><path stroke="#8b3cc0" d="M1080.2 1326.1h0"/><path stroke="#962db3" d="M982.1 1310.7h0"/><path stroke="#ff0057" d="M981.4 1308.5h0"/><path stroke="#0080f7" d="M1167.1 1286.6h0"/><path stroke="#0084f9" d="M1119.1 1269.0h0"/><path stroke="#8b3cc0" d="M1042.8 1251.4h0"/><path stroke="#0070ed" d="M1045.3 1249.2h0"/><path stroke="#da008a" d="M952.7 1280.0h0"/><path stroke="#9135ba" d="M959.8 1273.4h0"/><path stroke="#6c54d6" d="M1081.2 1251.4h0"/><path stroke="#0080f7" d="M1171.0 1288.8h0M1161.1 1293.1h0"/><path stroke="#0070ed" d="M982.9 1271.2h0"/><path stroke="#0080f7" d="M926.6 1286.6h0"/><path stroke="#da008a" d="M947.9 1282.2h0"/><path stroke="#962db3" d="M996.4 1315.1h0"/><path stroke="#0078f3" d="M1101.2 1258.0h0M1116.8 1266.8h0"/><path stroke="#8443c6" d="M1078.6 1251.4h0"/><path stroke="#6359da" d="M1122.5 1271.2h0"/><path stroke="#0080f7" d="M932.8 1284.4h0"/><path stroke="#0078f3" d="M1087.7 1255.8h0"/><path stroke="#8443c6" d="M1009.0 1321.7h0"/><path stroke="#007cf5" d="M914.0 1288.8h0"/><path stroke="#cf0093" d="M1015.0 1255.8h0"/><path stroke="#e50081" d="M963.9 1275.6h0"/><path stroke="#6359da" d="M1070.5 1251.4h0"/><path stroke="#8b3cc0" d="M1016.2 1258.0h0M1079.1 1255.8h0"/><path stroke="#754fd1" d="M1089.3 1258.0h0"/><path stroke="#0080f7" d="M915.3 1288.8h0"/><path stroke="#0078f3" d="M1154.1 1301.9h0"/><path stroke="#da008a" d="M950.5 1299.7h0"/><path stroke="#6c54d6" d="M1174.5 1288.8h0"/><path stroke="#007cf5" d="M1071.7 1253.6h0"/><path stroke="#754fd1" d="M1132.8 1306.3h0"/><path stroke="#7d49cb" d="M1093.1 1258.0h0"/><path stroke="#6c54d6" d="M1156.3 1301.9h0"/><path stroke="#8b3cc0" d="M1115.8 1315.1h0"/><path stroke="#e50081" d="M1016.2 1317.3h0"/><path stroke="#6c54d6" d="M1154.1 1275.6h0"/><path stroke="#fe005c" d="M939.4 1284.4h0"/><path stroke="#007cf5" d="M1087.9 1326.1h0"/><path stroke="#d5008f" d="M985.9 1269.0h0M997.1 1260.2h0"/><path stroke="#0078f3" d="M921.9 1288.8h0"/><path stroke="#0084f9" d="M1167.1 1288.8h0"/><path stroke="#8443c6" d="M1128.7 1271.2h0"/><path stroke="#754fd1" d="M1109.0 1262.4h0M1028.3 1323.9h0"/><path stroke="#0080f7" d="M932.7 1295.3h0"/><path stroke="#e00086" d="M1002.8 1321.7h0"/><path stroke="#f20072" d="M1002.0 1258.0h0"/><path stroke="#e50081" d="M950.2 1288.8h0"/><path stroke="#0074f0" d="M1070.8 1258.0h0"/><path stroke="#ee0077" d="M946.5 1286.6h0"/><path stroke="#0078f3" d="M1045.9 1330.5h0"/><path stroke="#7d49cb" d="M1119.6 1282.2h0"/><path stroke="#e00086" d="M966.3 1280.0h0"/><path stroke="#6359da" d="M1133.4 1273.4h0"/><path stroke="#0078f3" d="M1097.8 1319.5h0"/><path stroke="#007cf5" d="M933.8 1293.1h0"/><path stroke="#d5008f" d="M1115.5 1264.6h0"/><path stroke="#cf0093" d="M950.1 1284.4h0"/><path stroke="#6c54d6" d="M1085.8 1258.0h0"/><path stroke="#0084f9" d="M1171.7 1290.9h0"/><path stroke="#6c54d6" d="M1082.5 1255.8h0"/><path stroke="#585edf" d="M1144.4 1277.8h0"/><path stroke="#9b23ad" d="M935.8 1290.9h0"/><path stroke="#007cf5" d="M1133.8 1284.4h0"/><path stroke="#da008a" d="M939.6 1293.1h0"/><path stroke="#0070ed" d="M1009.5 1255.8h0"/><path stroke="#e50081" d="M943.5 1284.4h0"/><path stroke="#fe005c" d="M1039.9 1323.9h0"/><path stroke="#6c54d6" d="M1001.8 1315.1h0"/><path stroke="#9135ba" d="M1084.5 1275.6h0"/><path stroke="#6c54d6" d="M1135.9 1280.0h0M1078.4 1273.4h0"/><path stroke="#0084f9" d="M926.7 1288.8h0"/><path stroke="#8443c6" d="M1058.9 1251.4h0"/><path stroke="#7d49cb" d="M1126.2 1273.4h0"/><path stroke="#ff0057" d="M1067.5 1328.3h0"/><path stroke="#7d49cb" d="M1145.7 1277.8h0"/><path stroke="#6c54d6" d="M1092.5 1286.6h0"/><path stroke="#f90067" d="M1066.9 1258.0h0"/><path stroke="#754fd1" d="M1100.7 1282.2h0"/><path stroke="#ab15a7" d="M958.7 1304.1h0"/><path stroke="#c2009c" d="M1036.3 1319.5h0"/><path stroke="#6c54d6" d="M1156.5 1280.0h0"/><path stroke="#7d49cb" d="M1086.8 1288.8h0"/><path stroke="#ff0057" d="M1023.8 1286.6h0"/><path stroke="#6c54d6" d="M1011.0 1284.4h0"/><path stroke="#f20072" d="M1016.5 1312.9h0"/><path stroke="#7d49cb" d="M1062.0 1255.8h0"/><path stroke="#6359da" d="M1056.4 1255.8h0"/><path stroke="#e00086" d="M972.8 1273.4h0"/><path stroke="#6c54d6" d="M1179.1 1288.8h0"/><path stroke="#0080f7" d="M1052.4 1286.6h0"/><path stroke="#6359da" d="M1051.6 1299.7h0"/><path stroke="#6c54d6" d="M1023.4 1306.3h0"/><path stroke="#c80098" d="M1103.7 1260.2h0"/><path stroke="#0078f3" d="M1076.7 1277.8h0"/><path stroke="#754fd1" d="M1030.6 1317.3h0"/><path stroke="#0080f7" d="M964.8 1301.9h0"/><path stroke="#0074f0" d="M959.3 1280.0h0"/><path stroke="#d5008f" d="M1063.6 1326.1h0"/><path stroke="#fc0062" d="M1061.9 1323.9h0"/><path stroke="#0078f3" d="M1100.7 1260.2h0"/><path stroke="#e50081" d="M973.2 1271.2h0"/><path stroke="#e9007c" d="M1010.9 1266.8h0"/><path stroke="#0074f0" d="M1055.7 1275.6h0"/><path stroke="#f20072" d="M1024.2 1295.3h0"/><path stroke="#8443c6" d="M1113.1 1310.7h0"/><path stroke="#ff0057" d="M1028.7 1308.5h0"/><path stroke="#8443c6" d="M1119.9 1301.9h0"/><path stroke="#8b3cc0" d="M1051.9 1251.4h0"/><path stroke="#754fd1" d="M1079.3 1258.0h0"/><path stroke="#e00086" d="M1003.5 1271.2h0"/><path stroke="#007cf5" d="M1046.9 1326.1h0"/><path stroke="#e9007c" d="M1027.6 1255.8h0"/><path stroke="#0070ed" d="M961.1 1297.5h0"/><path stroke="#754fd1" d="M1152.1 1273.4h0"/><path stroke="#007cf5" d="M1105.9 1299.7h0"/><path stroke="#e00086" d="M1024.9 1282.2h0"/><path stroke="#6c54d6" d="M1019.5 1260.2h0"/><path stroke="#0084f9" d="M1153.4 1299.7h0"/><path stroke="#007cf5" d="M1046.7 1308.5h0"/><path stroke="#0080f7" d="M1074.5 1282.2h0"/><path stroke="#7d49cb" d="M1091.1 1315.1h0M1158.1 1297.5h0"/><path stroke="#9135ba" d="M1101.6 1319.5h0"/><path stroke="#e9007c" d="M1027.7 1319.5h0"/><path stroke="#754fd1" d="M1026.2 1321.7h0"/><path stroke="#0080f7" d="M1014.6 1295.3h0"/><path stroke="#e00086" d="M1017.3 1299.7h0"/><path stroke="#ee0077" d="M943.0 1286.6h0"/><path stroke="#d5008f" d="M987.0 1312.9h0"/><path stroke="#6359da" d="M1130.3 1306.3h0"/><path stroke="#8443c6" d="M1086.5 1323.9h0"/><path stroke="#fe005c" d="M1068.7 1295.3h0"/><path stroke="#0084f9" d="M1167.6 1290.9h0"/><path stroke="#007cf5" d="M1027.9 1277.8h0M1109.0 1293.1h0"/><path stroke="#9135ba" d="M1017.1 1262.4h0"/><path stroke="#e50081" d="M1114.6 1317.3h0"/><path stroke="#7d49cb" d="M1076.7 1269.0h0"/><path stroke="#8443c6" d="M1041.2 1253.6h0"/><path stroke="#0080f7" d="M1047.7 1295.3h0"/><path stroke="#8443c6" d="M1098.5 1286.6h0"/><path stroke="#e50081" d="M941.0 1282.2h0"/><path stroke="#0080f7" d="M1102.1 1262.4h0M1046.7 1251.4h0"/><path stroke="#f5006c" d="M969.5 1293.1h0"/><path stroke="#e50081" d="M1034.7 1308.5h0"/><path stroke="#6c54d6" d="M1058.0 1330.5h0"/><path stroke="#0084f9" d="M1047.8 1249.2h0"/><path stroke="#0078f3" d="M1097.1 1304.1h0"/><path stroke="#6359da" d="M1137.5 1295.3h0"/><path stroke="#0070ed" d="M1034.3 1260.2h0"/><path stroke="#0080f7" d="M1057.3 1295.3h0"/><path stroke="#0074f0" d="M1094.0 1266.8h0"/><path stroke="#0070ed" d="M1006.2 1275.6h0"/><path stroke="#e50081" d="M1021.4 1312.9h0"/><path stroke="#ff0057" d="M1027.9 1269.0h0"/><path stroke="#0080f7" d="M1091.4 1266.8h0"/><path stroke="#6c54d6" d="M1010.9 1293.1h0"/><path stroke="#e50081" d="M1023.3 1297.5h0"/><path stroke="#4b63e3" d="M1059.3 1258.0h0"/><path stroke="#e9007c" d="M1016.3 1273.4h0"/><path stroke="#6359da" d="M1132.4 1277.8h0"/><path stroke="#7d49cb" d="M1087.5 1306.3h0"/><path stroke="#0080f7" d="M929.2 1290.9h0"/><path stroke="#0070ed" d="M1010.2 1299.7h0"/><path stroke="#007cf5" d="M1008.4 1319.5h0"/><path stroke="#6c54d6" d="M1153.7 1282.2h0"/><path stroke="#585edf" d="M1041.1 1258.0h0"/><path stroke="#0080f7" d="M1090.5 1273.4h0"/><path stroke="#0070ed" d="M1026.2 1260.2h0"/><path stroke="#ff0057" d="M980.1 1273.4h0"/><path stroke="#c2009c" d="M1039.6 1277.8h0"/><path stroke="#fe005c" d="M976.5 1297.5h0"/><path stroke="#0080f7" d="M1049.4 1277.8h0"/><path stroke="#e9007c" d="M993.2 1271.2h0"/><path stroke="#754fd1" d="M1102.7 1312.9h0"/><path stroke="#9135ba" d="M1094.7 1271.2h0"/><path stroke="#0080f7" d="M1175.2 1288.8h0"/><path stroke="#ff0051" d="M989.5 1290.9h0"/><path stroke="#8b3cc0" d="M1053.8 1308.5h0"/><path stroke="#0084f9" d="M1161.6 1284.4h0"/><path stroke="#754fd1" d="M1078.5 1326.1h0"/><path stroke="#8b3cc0" d="M1087.3 1260.2h0"/><path stroke="#0080f7" d="M1138.1 1282.2h0"/><path stroke="#6359da" d="M1135.7 1286.6h0"/><path stroke="#236cea" d="M965.3 1282.2h0"/><path stroke="#cf0093" d="M1067.4 1249.2h0"/><path stroke="#fe005c" d="M990.6 1297.5h0"/><path stroke="#6359da" d="M1053.9 1269.0h0"/><path stroke="#da008a" d="M1039.2 1284.4h0"/><path stroke="#8443c6" d="M1055.9 1266.8h0"/><path stroke="#0078f3" d="M1014.0 1275.6h0"/><path stroke="#f5006c" d="M1029.0 1282.2h0"/><path stroke="#fc0062" d="M1061.1 1275.6h0"/><path stroke="#fe005c" d="M1007.2 1306.3h0"/><path stroke="#cf0093" d="M1067.6 1306.3h0"/><path stroke="#e9007c" d="M1003.7 1306.3h0"/><path stroke="#d5008f" d="M998.5 1299.7h0"/><path stroke="#007cf5" d="M1036.1 1293.1h0"/><path stroke="#8b3cc0" d="M1034.5 1304.1h0"/><path stroke="#0078f3" d="M1161.9 1286.6h0"/><path stroke="#0080f7" d="M1103.3 1295.3h0"/><path stroke="#7d49cb" d="M1079.4 1321.7h0"/><path stroke="#754fd1" d="M1183.4 1288.8h0M1085.0 1308.5h0"/><path stroke="#bb00a0" d="M1031.8 1310.7h0"/><path stroke="#d5008f" d="M997.0 1301.9h0"/><path stroke="#8443c6" d="M1082.7 1293.1h0"/><path stroke="#0074f0" d="M1098.1 1317.3h0"/><path stroke="#585edf" d="M1070.6 1323.9h0"/><path stroke="#6359da" d="M1044.5 1315.1h0"/><path stroke="#0074f0" d="M1042.5 1299.7h0"/><path stroke="#585edf" d="M1133.3 1304.1h0M1069.4 1266.8h0"/><path stroke="#0078f3" d="M1144.4 1280.0h0"/><path stroke="#6c54d6" d="M1027.0 1315.1h0"/><path stroke="#0084f9" d="M1089.5 1317.3h0"/><path stroke="#0070ed" d="M985.8 1280.0h0"/><path stroke="#0074f0" d="M1050.0 1255.8h0"/><path stroke="#0070ed" d="M1045.8 1293.1h0"/><path stroke="#ff0057" d="M1062.4 1290.9h0"/><path stroke="#6c54d6" d="M1121.8 1293.1h0"/><path stroke="#0074f0" d="M1060.1 1306.3h0"/><path stroke="#0078f3" d="M1107.1 1271.2h0"/><path stroke="#0080f7" d="M1091.4 1299.7h0"/><path stroke="#754fd1" d="M1118.5 1273.4h0"/><path stroke="#da008a" d="M967.2 1297.5h0"/><path stroke="#007cf5" d="M1150.6 1275.6h0M1016.1 1315.1h0"/><path stroke="#ee0077" d="M997.6 1266.8h0"/><path stroke="#cf0093" d="M1029.2 1284.4h0"/><path stroke="#0074f0" d="M924.4 1293.1h0"/><path stroke="#8443c6" d="M1106.7 1308.5h0"/><path stroke="#ff0057" d="M1072.7 1297.5h0"/><path stroke="#0078f3" d="M1046.2 1260.2h0M1115.0 1315.1h0"/><path stroke="#ee0077" d="M992.7 1297.5h0"/><path stroke="#6359da" d="M1061.5 1319.5h0"/><path stroke="#585edf" d="M1058.6 1290.9h0"/><path stroke="#7d49cb" d="M1119.6 1271.2h0"/><path stroke="#e50081" d="M999.0 1273.4h0"/><path stroke="#754fd1" d="M1063.9 1269.0h0"/><path stroke="#8443c6" d="M1126.1 1290.9h0"/><path stroke="#0074f0" d="M1080.1 1288.8h0"/><path stroke="#8b3cc0" d="M1114.4 1264.6h0"/><path stroke="#754fd1" d="M1089.8 1269.0h0"/><path stroke="#0074f0" d="M1031.0 1266.8h0"/><path stroke="#f20072" d="M980.2 1275.6h0"/><path stroke="#da008a" d="M998.5 1282.2h0"/><path stroke="#6359da" d="M1025.8 1295.3h0"/><path stroke="#6c54d6" d="M1095.1 1288.8h0"/><path stroke="#ee0077" d="M1003.6 1312.9h0"/><path stroke="#ff0057" d="M985.7 1301.9h0"/><path stroke="#f20072" d="M972.0 1280.0h0"/><path stroke="#007cf5" d="M933.2 1288.8h0"/><path stroke="#0078f3" d="M1048.5 1282.2h0"/><path stroke="#9b23ad" d="M977.0 1288.8h0"/><path stroke="#0078f3" d="M1045.6 1286.6h0"/><path stroke="#0080f7" d="M1078.9 1299.7h0"/><path stroke="#8443c6" d="M986.6 1310.7h0"/><path stroke="#6359da" d="M1122.7 1308.5h0M1125.3 1301.9h0"/><path stroke="#f90067" d="M965.5 1299.7h0"/><path stroke="#cf0093" d="M998.3 1262.4h0"/><path stroke="#9135ba" d="M1079.9 1319.5h0"/><path stroke="#0070ed" d="M957.0 1280.0h0"/><path stroke="#c2009c" d="M1037.7 1262.4h0"/><path stroke="#0078f3" d="M1144.5 1301.9h0"/><path stroke="#a31daa" d="M953.0 1286.6h0"/><path stroke="#7d49cb" d="M1109.1 1269.0h0"/><path stroke="#ff0051" d="M957.7 1293.1h0"/><path stroke="#0080f7" d="M1118.5 1284.4h0"/><path stroke="#0078f3" d="M1009.3 1297.5h0"/><path stroke="#ff0057" d="M1028.5 1310.7h0"/><path stroke="#6359da" d="M1050.6 1321.7h0"/><path stroke="#0070ed" d="M1040.2 1299.7h0"/><path stroke="#d5008f" d="M1056.4 1293.1h0"/><path stroke="#007cf5" d="M997.4 1284.4h0"/><path stroke="#ff0057" d="M992.0 1312.9h0"/><path stroke="#007cf5" d="M1135.9 1284.4h0"/><path stroke="#ff0057" d="M995.5 1312.9h0M1002.6 1264.6h0"/><path stroke="#7d49cb" d="M1093.3 1295.3h0"/><path stroke="#0080f7" d="M1144.9 1290.9h0"/><path stroke="#8443c6" d="M1008.2 1286.6h0"/><path stroke="#0080f7" d="M1101.3 1284.4h0"/><path stroke="#7d49cb" d="M1149.7 1288.8h0"/><path stroke="#6c54d6" d="M1059.7 1269.0h0"/><path stroke="#007cf5" d="M1117.1 1284.4h0"/><path stroke="#0080f7" d="M1049.3 1262.4h0"/><path stroke="#007cf5" d="M1105.9 1266.8h0M1102.5 1280.0h0"/><path stroke="#8b3cc0" d="M1088.2 1288.8h0"/><path stroke="#ee0077" d="M1000.9 1290.9h0M1036.0 1269.0h0"/><path stroke="#fe005c" d="M1008.9 1280.0h0"/><path stroke="#da008a" d="M992.4 1288.8h0"/><path stroke="#4b63e3" d="M1061.1 1264.6h0"/><path stroke="#0070ed" d="M1074.1 1310.7h0"/><path stroke="#754fd1" d="M1071.5 1282.2h0"/><path stroke="#c80098" d="M1066.5 1284.4h0"/><path stroke="#ff0057" d="M961.5 1295.3h0"/><path stroke="#0078f3" d="M1051.5 1315.1h0"/><path stroke="#7d49cb" d="M1158.9 1286.6h0"/><path stroke="#007cf5" d="M1107.6 1312.9h0"/><path stroke="#754fd1" d="M1052.1 1293.1h0"/><path stroke="#7d49cb" d="M1090.6 1260.2h0M1030.5 1280.0h0"/><path stroke="#ee0077" d="M995.9 1299.7h0"/><path stroke="#0080f7" d="M1073.0 1323.9h0M1110.6 1280.0h0"/><path stroke="#0084f9" d="M1045.5 1271.2h0"/><path stroke="#0074f0" d="M1105.1 1310.7h0"/><path stroke="#ff0057" d="M1064.7 1315.1h0"/><path stroke="#007cf5" d="M1154.5 1297.5h0M1076.4 1275.6h0"/><path stroke="#0080f7" d="M1147.9 1301.9h0"/><path stroke="#0084f9" d="M1111.3 1288.8h0"/><path stroke="#ff0051" d="M1065.4 1312.9h0"/><path stroke="#7d49cb" d="M1047.7 1319.5h0"/><path stroke="#f5006c" d="M984.8 1306.3h0"/><path stroke="#0080f7" d="M1077.7 1271.2h0"/><path stroke="#fe005c" d="M1070.7 1293.1h0"/><path stroke="#cf0093" d="M973.9 1308.5h0"/><path stroke="#ee0077" d="M987.4 1264.6h0"/><path stroke="#e00086" d="M1031.8 1273.4h0"/><path stroke="#0084f9" d="M1068.9 1273.4h0"/><path stroke="#8b3cc0" d="M1012.2 1282.2h0"/><path stroke="#e50081" d="M1134.3 1183.4h0"/><path stroke="#d5008f" d="M1070.0 1197.1h0"/><path stroke="#da008a" d="M1061.2 1199.0h0"/><path stroke="#007cf5" d="M975.4 1160.0h0"/><path stroke="#ee0077" d="M1158.3 1173.6h0"/><path stroke="#c80098" d="M1138.4 1167.8h0"/><path stroke="#e50081" d="M1132.3 1183.4h0"/><path stroke="#c80098" d="M1059.2 1204.9h0"/><path stroke="#cf0093" d="M1122.7 1191.2h0M1068.5 1195.1h0"/><path stroke="#e00086" d="M1122.9 1161.9h0"/><path stroke="#8443c6" d="M948.2 1177.6h0"/><path stroke="#0084f9" d="M929.3 1175.6h0"/><path stroke="#fc0062" d="M979.9 1156.1h0"/><path stroke="#0084f9" d="M981.7 1154.1h0"/><path stroke="#f5006c" d="M1160.2 1173.6h0"/><path stroke="#6359da" d="M974.4 1161.9h0"/><path stroke="#0080f7" d="M989.1 1146.3h0"/><path stroke="#fc0062" d="M1034.8 1144.4h0"/><path stroke="#e50081" d="M1102.6 1199.0h0"/><path stroke="#fc0062" d="M1081.4 1197.1h0"/><path stroke="#b30aa3" d="M1059.3 1146.3h0"/><path stroke="#0080f7" d="M931.1 1175.6h0"/><path stroke="#f5006c" d="M1152.9 1179.5h0"/><path stroke="#cf0093" d="M1149.1 1179.5h0"/><path stroke="#ff0057" d="M1029.7 1144.4h0"/><path stroke="#007cf5" d="M1019.3 1212.7h0"/><path stroke="#0078f3" d="M981.6 1197.1h0"/><path stroke="#e9007c" d="M1164.2 1175.6h0"/><path stroke="#fc0062" d="M1085.7 1202.9h0"/><path stroke="#cf0093" d="M1140.6 1169.7h0"/><path stroke="#f20072" d="M1083.8 1148.3h0"/><path stroke="#ee0077" d="M1084.8 1201.0h0"/><path stroke="#fc0062" d="M997.9 1140.5h0"/><path stroke="#cf0093" d="M1139.5 1183.4h0"/><path stroke="#0084f9" d="M944.8 1173.6h0"/><path stroke="#fe005c" d="M1035.3 1208.8h0"/><path stroke="#ab15a7" d="M1004.1 1212.7h0"/><path stroke="#6c54d6" d="M974.2 1163.9h0"/><path stroke="#e50081" d="M1145.7 1179.5h0"/><path stroke="#e9007c" d="M1102.6 1152.2h0"/><path stroke="#e00086" d="M1123.5 1189.3h0"/><path stroke="#a31daa" d="M1044.0 1202.9h0"/><path stroke="#0084f9" d="M940.4 1177.6h0"/><path stroke="#da008a" d="M1147.6 1171.7h0"/><path stroke="#f5006c" d="M1155.2 1173.6h0"/><path stroke="#c80098" d="M1128.8 1183.4h0"/><path stroke="#ff0057" d="M1027.2 1206.8h0"/><path stroke="#9135ba" d="M963.3 1167.8h0"/><path stroke="#6359da" d="M980.5 1195.1h0M1009.5 1214.6h0"/><path stroke="#9b23ad" d="M1054.3 1146.3h0"/><path stroke="#0078f3" d="M993.4 1142.4h0"/><path stroke="#754fd1" d="M972.4 1189.3h0"/><path stroke="#ff0057" d="M957.0 1181.5h0"/><path stroke="#0080f7" d="M932.5 1175.6h0"/><path stroke="#cf0093" d="M1096.0 1146.3h0"/><path stroke="#0070ed" d="M1006.4 1212.7h0"/><path stroke="#ee0077" d="M1151.2 1173.6h0"/><path stroke="#ff0051" d="M964.2 1183.4h0"/><path stroke="#9b23ad" d="M1060.7 1197.1h0"/><path stroke="#f20072" d="M1162.6 1177.6h0"/><path stroke="#0070ed" d="M1019.2 1210.7h0"/><path stroke="#d5008f" d="M1078.1 1156.1h0"/><path stroke="#e00086" d="M1075.1 1158.0h0"/><path stroke="#fe005c" d="M1023.2 1206.8h0"/><path stroke="#f20072" d="M1084.7 1199.0h0"/><path stroke="#bb00a0" d="M1035.0 1146.3h0"/><path stroke="#f20072" d="M1071.1 1156.1h0"/><path stroke="#ff0057" d="M1026.8 1146.3h0"/><path stroke="#ee0077" d="M1111.6 1158.0h0"/><path stroke="#0084f9" d="M997.2 1212.7h0"/><path stroke="#fe005c" d="M957.5 1171.7h0"/><path stroke="#f90067" d="M1086.3 1148.3h0"/><path stroke="#6c54d6" d="M974.6 1163.9h0"/><path stroke="#8443c6" d="M999.1 1208.8h0"/><path stroke="#a31daa" d="M1056.9 1201.0h0"/><path stroke="#0084f9" d="M971.0 1167.8h0"/><path stroke="#c2009c" d="M1061.5 1152.2h0"/><path stroke="#0087fa" d="M944.5 1177.6h0"/><path stroke="#4b63e3" d="M1008.4 1212.7h0"/><path stroke="#f90067" d="M1140.9 1183.4h0"/><path stroke="#e00086" d="M1121.8 1163.9h0"/><path stroke="#f90067" d="M961.5 1183.4h0"/><path stroke="#fc0062" d="M1083.2 1156.1h0"/><path stroke="#c2009c" d="M1054.5 1206.8h0"/><path stroke="#0074f0" d="M961.2 1181.5h0"/><path stroke="#e00086" d="M1086.3 1150.2h0"/><path stroke="#f5006c" d="M1084.7 1152.2h0"/><path stroke="#da008a" d="M1118.5 1158.0h0"/><path stroke="#0080f7" d="M965.5 1167.8h0"/><path stroke="#0074f0" d="M991.9 1210.7h0"/><path stroke="#ff0057" d="M959.9 1179.5h0"/><path stroke="#fe005c" d="M1040.5 1150.2h0"/><path stroke="#0070ed" d="M974.9 1193.2h0"/><path stroke="#e00086" d="M1076.5 1195.1h0"/><path stroke="#007cf5" d="M991.2 1144.4h0"/><path stroke="#e00086" d="M1112.4 1195.1h0"/><path stroke="#007cf5" d="M986.4 1201.0h0"/><path stroke="#f90067" d="M1075.6 1195.1h0M1161.2 1175.6h0"/><path stroke="#d5008f" d="M1058.5 1148.3h0"/><path stroke="#0070ed" d="M976.8 1161.9h0"/><path stroke="#e9007c" d="M1070.9 1195.1h0"/><path stroke="#a31daa" d="M1046.2 1201.0h0"/><path stroke="#0078f3" d="M981.8 1195.1h0"/><path stroke="#e9007c" d="M1079.1 1193.2h0"/><path stroke="#0074f0" d="M976.8 1167.8h0"/><path stroke="#e00086" d="M1114.2 1158.0h0"/><path stroke="#0080f7" d="M991.9 1206.8h0"/><path stroke="#b30aa3" d="M1003.7 1140.5h0"/><path stroke="#236cea" d="M981.6 1193.2h0"/><path stroke="#585edf" d="M1019.4 1138.5h0"/><path stroke="#0074f0" d="M1027.5 1148.3h0"/><path stroke="#e50081" d="M1115.8 1160.0h0"/><path stroke="#fc0062" d="M1138.0 1169.7h0"/><path stroke="#da008a" d="M1143.9 1179.5h0"/><path stroke="#f90067" d="M1087.3 1202.9h0"/><path stroke="#e00086" d="M1104.5 1154.1h0"/><path stroke="#d5008f" d="M1139.4 1179.5h0"/><path stroke="#da008a" d="M1133.9 1181.5h0"/><path stroke="#e50081" d="M1097.5 1148.3h0"/><path stroke="#cf0093" d="M1146.1 1177.6h0"/><path stroke="#da008a" d="M1109.3 1158.0h0"/><path stroke="#b30aa3" d="M1044.7 1152.2h0"/><path stroke="#e9007c" d="M1092.5 1158.0h0"/><path stroke="#f90067" d="M1085.2 1154.1h0"/><path stroke="#0080f7" d="M1017.9 1146.3h0"/><path stroke="#fe005c" d="M957.7 1179.5h0"/><path stroke="#b30aa3" d="M1054.2 1204.9h0"/><path stroke="#f20072" d="M1104.0 1197.1h0M1086.8 1156.1h0"/><path stroke="#236cea" d="M989.8 1195.1h0"/><path stroke="#c80098" d="M1132.3 1167.8h0"/><path stroke="#ff0057" d="M1002.0 1208.8h0"/><path stroke="#f20072" d="M1131.6 1177.6h0"/><path stroke="#da008a" d="M1058.1 1150.2h0"/><path stroke="#0080f7" d="M989.4 1148.3h0"/><path stroke="#0074f0" d="M982.6 1167.8h0"/><path stroke="#cf0093" d="M1077.4 1191.2h0"/><path stroke="#e00086" d="M1148.0 1173.6h0M1090.4 1201.0h0"/><path stroke="#da008a" d="M1122.8 1187.3h0"/><path stroke="#9b23ad" d="M1022.2 1146.3h0"/><path stroke="#3b68e7" d="M1021.1 1173.6h0"/><path stroke="#4b63e3" d="M1008.3 1208.8h0"/><path stroke="#e50081" d="M1118.3 1195.1h0"/><path stroke="#d5008f" d="M1133.6 1167.8h0"/><path stroke="#e50081" d="M1127.9 1181.5h0"/><path stroke="#0087fa" d="M936.1 1175.6h0"/><path stroke="#e50081" d="M1103.9 1165.8h0"/><path stroke="#da008a" d="M1092.0 1195.1h0"/><path stroke="#fe005c" d="M961.2 1169.7h0"/><path stroke="#f90067" d="M1116.1 1161.9h0"/><path stroke="#bb00a0" d="M1040.4 1199.0h0"/><path stroke="#d5008f" d="M1097.0 1204.9h0"/><path stroke="#c80098" d="M1150.8 1177.6h0"/><path stroke="#f5006c" d="M1088.9 1156.1h0"/><path stroke="#ee0077" d="M1082.2 1193.2h0"/><path stroke="#f90067" d="M1096.0 1195.1h0"/><path stroke="#0087fa" d="M998.1 1167.8h0"/><path stroke="#ab15a7" d="M1049.7 1148.3h0"/><path stroke="#0080f7" d="M988.3 1161.9h0"/><path stroke="#0084f9" d="M930.4 1177.6h0"/><path stroke="#007cf5" d="M992.1 1202.9h0"/><path stroke="#f90067" d="M1001.0 1158.0h0"/><path stroke="#6359da" d="M1026.4 1204.9h0"/><path stroke="#b30aa3" d="M960.6 1171.7h0"/><path stroke="#cf0093" d="M1054.2 1148.3h0"/><path stroke="#585edf" d="M998.6 1154.1h0"/><path stroke="#e00086" d="M1090.0 1150.2h0"/><path stroke="#fc0062" d="M1078.4 1179.5h0"/><path stroke="#ab15a7" d="M1019.1 1206.8h0"/><path stroke="#ff0051" d="M996.7 1197.1h0"/><path stroke="#b30aa3" d="M1032.3 1165.8h0"/><path stroke="#585edf" d="M1009.4 1136.6h0"/><path stroke="#0074f0" d="M989.3 1150.2h0"/><path stroke="#f20072" d="M1071.5 1191.2h0"/><path stroke="#e00086" d="M1128.9 1173.6h0"/><path stroke="#c80098" d="M1046.1 1175.6h0"/><path stroke="#d5008f" d="M1072.7 1169.7h0"/><path stroke="#e50081" d="M1136.7 1175.6h0"/><path stroke="#ff0057" d="M1032.3 1197.1h0"/><path stroke="#b30aa3" d="M1047.9 1195.1h0"/><path stroke="#ff0057" d="M965.2 1169.7h0"/><path stroke="#f5006c" d="M1078.9 1187.3h0"/><path stroke="#a31daa" d="M1031.0 1206.8h0"/><path stroke="#6359da" d="M1011.5 1171.7h0"/><path stroke="#8b3cc0" d="M1004.5 1163.9h0"/><path stroke="#ab15a7" d="M1049.9 1204.9h0"/><path stroke="#c80098" d="M1140.9 1177.6h0"/><path stroke="#fc0062" d="M997.3 1193.2h0"/><path stroke="#ee0077" d="M1155.2 1179.5h0"/><path stroke="#f90067" d="M1072.5 1189.3h0"/><path stroke="#cf0093" d="M1118.9 1187.3h0M1056.8 1150.2h0"/><path stroke="#f90067" d="M1082.1 1161.9h0"/><path stroke="#cf0093" d="M1100.9 1193.2h0"/><path stroke="#ff0051" d="M1003.0 1183.4h0"/><path stroke="#7d49cb" d="M992.3 1189.3h0"/><path stroke="#cf0093" d="M1087.7 1161.9h0"/><path stroke="#0074f0" d="M985.3 1183.4h0"/><path stroke="#fc0062" d="M966.8 1181.5h0"/><path stroke="#ff0057" d="M1034.6 1206.8h0"/><path stroke="#d5008f" d="M1057.2 1154.1h0"/><path stroke="#c80098" d="M1041.3 1167.8h0"/><path stroke="#0074f0" d="M984.8 1191.2h0"/><path stroke="#d5008f" d="M1102.7 1179.5h0"/><path stroke="#a31daa" d="M1026.0 1160.0h0"/><path stroke="#0074f0" d="M996.5 1142.4h0"/><path stroke="#0078f3" d="M985.0 1158.0h0"/><path stroke="#ff0051" d="M1038.4 1197.1h0"/><path stroke="#0078f3" d="M993.2 1193.2h0"/><path stroke="#ff0057" d="M999.9 1171.7h0"/><path stroke="#0070ed" d="M973.3 1185.4h0"/><path stroke="#a31daa" d="M1042.9 1154.1h0"/><path stroke="#f90067" d="M1129.1 1169.7h0"/><path stroke="#ee0077" d="M1082.6 1185.4h0"/><path stroke="#a31daa" d="M1049.1 1165.8h0"/><path stroke="#e00086" d="M1126.8 1169.7h0"/><path stroke="#0070ed" d="M992.4 1171.7h0"/><path stroke="#0087fa" d="M999.4 1144.4h0"/><path stroke="#ee0077" d="M1094.8 1187.3h0"/><path stroke="#ab15a7" d="M1049.2 1160.0h0"/><path stroke="#a31daa" d="M967.5 1179.5h0"/><path stroke="#bb00a0" d="M1034.0 1161.9h0"/><path stroke="#ee0077" d="M1065.2 1179.5h0"/><path stroke="#ab15a7" d="M1057.2 1199.0h0"/><path stroke="#d5008f" d="M1077.8 1160.0h0"/><path stroke="#b30aa3" d="M1019.4 1156.1h0"/><path stroke="#a31daa" d="M1024.9 1148.3h0"/><path stroke="#7d49cb" d="M979.5 1158.0h0"/><path stroke="#fe005c" d="M1032.3 1183.4h0"/><path stroke="#585edf" d="M1009.5 1197.1h0"/><path stroke="#da008a" d="M1070.9 1158.0h0"/><path stroke="#f90067" d="M1085.0 1187.3h0"/><path stroke="#0074f0" d="M984.6 1179.5h0"/><path stroke="#d5008f" d="M1135.7 1171.7h0"/><path stroke="#fe005c" d="M1025.2 1202.9h0"/><path stroke="#0080f7" d="M988.5 1175.6h0"/><path stroke="#f90067" d="M1023.6 1193.2h0"/><path stroke="#ff0057" d="M1034.3 1191.2h0"/><path stroke="#e00086" d="M1139.4 1171.7h0"/><path stroke="#c2009c" d="M1059.9 1163.9h0"/><path stroke="#0084f9" d="M986.6 1152.2h0"/><path stroke="#bb00a0" d="M1059.9 1179.5h0"/><path stroke="#0070ed" d="M1044.8 1183.4h0"/><path stroke="#f90067" d="M1163.7 1175.6h0"/><path stroke="#da008a" d="M1143.0 1171.7h0"/><path stroke="#8b3cc0" d="M1009.4 1189.3h0"/><path stroke="#ee0077" d="M1077.0 1173.6h0"/><path stroke="#0080f7" d="M984.5 1154.1h0"/><path stroke="#ab15a7" d="M1015.1 1148.3h0"/><path stroke="#9b23ad" d="M1022.1 1189.3h0"/><path stroke="#da008a" d="M1099.7 1160.0h0"/><path stroke="#f5006c" d="M1063.7 1193.2h0"/><path stroke="#236cea" d="M979.5 1163.9h0"/><path stroke="#ff0057" d="M1033.3 1173.6h0"/><path stroke="#c80098" d="M1120.8 1169.7h0"/><path stroke="#0080f7" d="M1015.9 1206.8h0"/><path stroke="#4b63e3" d="M1018.7 1191.2h0"/><path stroke="#6359da" d="M980.1 1160.0h0"/><path stroke="#f20072" d="M1154.2 1173.6h0"/><path stroke="#236cea" d="M973.9 1183.4h0"/><path stroke="#e50081" d="M1144.1 1177.6h0"/><path stroke="#ff0057" d="M1038.5 1160.0h0"/><path stroke="#fe005c" d="M968.9 1175.6h0"/><path stroke="#f5006c" d="M1117.2 1181.5h0"/><path stroke="#cf0093" d="M1083.5 1173.6h0"/><path stroke="#ff0051" d="M1056.1 1195.1h0"/><path stroke="#a31daa" d="M1061.6 1154.1h0"/><path stroke="#f90067" d="M958.0 1177.6h0"/><path stroke="#ee0077" d="M1096.1 1185.4h0"/><path stroke="#585edf" d="M1015.9 1173.6h0"/><path stroke="#c80098" d="M1101.1 1171.7h0"/><path stroke="#0074f0" d="M992.4 1175.6h0"/><path stroke="#b30aa3" d="M1014.7 1152.2h0"/><path stroke="#ff0057" d="M1037.7 1154.1h0"/><path stroke="#0070ed" d="M991.0 1152.2h0"/><path stroke="#e50081" d="M1106.2 1169.7h0"/><path stroke="#0084f9" d="M1006.6 1177.6h0"/><path stroke="#f90067" d="M970.0 1171.7h0"/><path stroke="#fc0062" d="M999.6 1177.6h0"/><path stroke="#236cea" d="M1017.3 1183.4h0"/><path stroke="#bb00a0" d="M1009.7 1156.1h0M1050.7 1167.8h0"/><path stroke="#c2009c" d="M1054.9 1185.4h0"/><path stroke="#0074f0" d="M975.6 1169.7h0"/><path stroke="#c80098" d="M1057.1 1181.5h0"/><path stroke="#fc0062" d="M1013.0 1175.6h0"/><path stroke="#cf0093" d="M1107.4 1189.3h0"/><path stroke="#f20072" d="M1122.2 1165.8h0"/><path stroke="#ff0057" d="M1037.8 1160.0h0"/><path stroke="#c2009c" d="M1054.6 1181.5h0"/><path stroke="#e50081" d="M1117.6 1161.9h0"/><path stroke="#da008a" d="M1090.8 1179.5h0"/><path stroke="#b30aa3" d="M1059.5 1160.0h0"/><path stroke="#ab15a7" d="M1018.5 1165.8h0"/><path stroke="#c80098" d="M1111.7 1193.2h0M1066.9 1169.7h0"/><path stroke="#ee0077" d="M1070.5 1187.3h0"/><path stroke="#c80098" d="M1057.1 1175.6h0"/><path stroke="#8b3cc0" d="M959.1 1173.6h0"/><path stroke="#e50081" d="M1124.5 1183.4h0"/><path stroke="#ff0051" d="M1036.8 1175.6h0"/><path stroke="#754fd1" d="M975.4 1181.5h0"/><path stroke="#0080f7" d="M1006.3 1183.4h0"/><path stroke="#f90067" d="M1005.1 1142.4h0"/><path stroke="#0070ed" d="M1020.0 1177.6h0"/><path stroke="#fc0062" d="M1050.8 1202.9h0"/><path stroke="#0084f9" d="M991.3 1173.6h0"/><path stroke="#fc0062" d="M1096.5 1171.7h0"/><path stroke="#0080f7" d="M939.7 1175.6h0"/><path stroke="#8b3cc0" d="M953.0 1179.5h0"/><path stroke="#e9007c" d="M1092.5 1189.3h0"/><path stroke="#da008a" d="M1083.4 1169.7h0"/><path stroke="#e9007c" d="M1110.3 1177.6h0"/><path stroke="#8443c6" d="M955.0 1179.5h0"/><path stroke="#c80098" d="M1004.1 1177.6h0"/><path stroke="#c2009c" d="M1031.2 1173.6h0"/><path stroke="#fe005c" d="M1004.5 1210.7h0"/><path stroke="#9135ba" d="M948.5 1173.6h0"/><path stroke="#0074f0" d="M1000.3 1204.9h0"/><path stroke="#9135ba" d="M1027.1 1154.1h0"/><path stroke="#c2009c" d="M1005.2 1146.3h0"/><path stroke="#9b23ad" d="M966.5 1171.7h0"/><path stroke="#d5008f" d="M1061.2 1189.3h0"/><path stroke="#e00086" d="M1108.5 1171.7h0"/><path stroke="#d5008f" d="M1044.2 1154.1h0M1013.8 1199.0h0"/><path stroke="#f5006c" d="M1091.1 1160.0h0"/><path stroke="#0080f7" d="M975.3 1191.2h0"/><path stroke="#da008a" d="M1101.4 1160.0h0"/><path stroke="#0074f0" d="M1010.2 1103.2h0"/><path stroke="#754fd1" d="M966.1 1069.5h0"/><path stroke="#ff0051" d="M1048.3 1099.6h0"/><path stroke="#585edf" d="M1038.1 1025.3h0"/><path stroke="#e50081" d="M1101.8 1092.6h0"/><path stroke="#0084f9" d="M1163.4 1046.5h0"/><path stroke="#0078f3" d="M1143.2 1080.2h0"/><path stroke="#fe005c" d="M933.6 1066.0h0"/><path stroke="#0080f7" d="M1118.2 1039.4h0"/><path stroke="#ff0057" d="M894.2 1058.9h0"/><path stroke="#6359da" d="M1031.6 1099.6h0"/><path stroke="#ff0057" d="M910.3 1058.9h0"/><path stroke="#0087fa" d="M988.1 1030.6h0"/><path stroke="#cf0093" d="M1064.7 1101.4h0"/><path stroke="#007cf5" d="M1109.2 1089.0h0"/><path stroke="#585edf" d="M980.9 1081.9h0"/><path stroke="#0080f7" d="M1158.6 1043.0h0"/><path stroke="#e50081" d="M1102.1 1090.8h0"/><path stroke="#0078f3" d="M1083.6 1041.2h0"/><path stroke="#6c54d6" d="M964.4 1067.8h0"/><path stroke="#0080f7" d="M1121.4 1043.0h0"/><path stroke="#fc0062" d="M1069.9 1092.6h0"/><path stroke="#9b23ad" d="M1070.1 1034.1h0"/><path stroke="#0078f3" d="M1095.7 1034.1h0"/><path stroke="#ff0051" d="M887.5 1062.5h0"/><path stroke="#ff0057" d="M984.0 1083.7h0"/><path stroke="#d5008f" d="M1088.4 1039.4h0"/><path stroke="#754fd1" d="M1000.7 1021.7h0"/><path stroke="#ff0057" d="M893.8 1066.0h0"/><path stroke="#e9007c" d="M1088.2 1085.5h0"/><path stroke="#fe005c" d="M928.1 1058.9h0"/><path stroke="#962db3" d="M1064.0 1025.3h0"/><path stroke="#007cf5" d="M1112.4 1035.9h0"/><path stroke="#0078f3" d="M1169.6 1055.4h0M1120.8 1044.7h0"/><path stroke="#ff0051" d="M926.9 1067.8h0"/><path stroke="#0080f7" d="M1171.5 1057.1h0"/><path stroke="#ff0057" d="M951.2 1058.9h0"/><path stroke="#0080f7" d="M1112.3 1037.7h0"/><path stroke="#0078f3" d="M1050.4 1021.7h0"/><path stroke="#ff0051" d="M941.1 1058.9h0"/><path stroke="#007cf5" d="M1164.6 1080.2h0"/><path stroke="#0080f7" d="M1124.3 1048.3h0"/><path stroke="#e9007c" d="M1102.5 1089.0h0"/><path stroke="#ff0057" d="M911.1 1066.0h0"/><path stroke="#ff0051" d="M894.8 1060.7h0M1053.0 1101.4h0"/><path stroke="#007cf5" d="M999.8 1023.5h0"/><path stroke="#0080f7" d="M1031.1 1027.0h0"/><path stroke="#007cf5" d="M1069.1 1090.8h0"/><path stroke="#b30aa3" d="M1063.8 1097.9h0"/><path stroke="#ff0057" d="M953.4 1058.9h0"/><path stroke="#0080f7" d="M987.8 1034.1h0"/><path stroke="#4b63e3" d="M978.0 1048.3h0"/><path stroke="#0080f7" d="M1080.6 1043.0h0"/><path stroke="#ff0057" d="M937.2 1060.7h0"/><path stroke="#6359da" d="M971.2 1055.4h0"/><path stroke="#c2009c" d="M1066.1 1094.3h0"/><path stroke="#0084f9" d="M986.7 1035.9h0"/><path stroke="#007cf5" d="M1149.7 1043.0h0"/><path stroke="#ff0051" d="M906.9 1057.1h0M1053.0 1028.8h0"/><path stroke="#ff0057" d="M955.6 1066.0h0"/><path stroke="#d5008f" d="M1019.4 1021.7h0"/><path stroke="#0070ed" d="M1068.1 1037.7h0"/><path stroke="#0087fa" d="M1151.7 1041.2h0"/><path stroke="#9b23ad" d="M1065.3 1028.8h0"/><path stroke="#ff0057" d="M911.6 1060.7h0"/><path stroke="#fe005c" d="M920.6 1066.0h0"/><path stroke="#ff0057" d="M907.1 1060.7h0"/><path stroke="#f20072" d="M1012.7 1103.2h0"/><path stroke="#0084f9" d="M1137.5 1043.0h0"/><path stroke="#0074f0" d="M1114.8 1090.8h0"/><path stroke="#c2009c" d="M1066.0 1099.6h0"/><path stroke="#007cf5" d="M1037.0 1101.4h0"/><path stroke="#fe005c" d="M951.4 1060.7h0"/><path stroke="#007cf5" d="M1150.9 1083.7h0"/><path stroke="#6359da" d="M978.3 1076.6h0"/><path stroke="#a31daa" d="M1063.7 1032.3h0M1052.5 1094.3h0"/><path stroke="#c2009c" d="M1047.2 1094.3h0"/><path stroke="#ff0057" d="M931.7 1066.0h0"/><path stroke="#0084f9" d="M1166.4 1078.4h0"/><path stroke="#ee0077" d="M1082.0 1083.7h0"/><path stroke="#bb00a0" d="M1064.8 1035.9h0"/><path stroke="#9135ba" d="M1049.5 1090.8h0"/><path stroke="#585edf" d="M982.5 1041.2h0"/><path stroke="#007cf5" d="M1169.3 1071.3h0M1029.3 1097.9h0"/><path stroke="#585edf" d="M974.5 1053.6h0"/><path stroke="#0084f9" d="M999.0 1027.0h0"/><path stroke="#0080f7" d="M1011.3 1021.7h0"/><path stroke="#007cf5" d="M1181.2 1062.5h0"/><path stroke="#fe005c" d="M939.4 1066.0h0"/><path stroke="#0084f9" d="M1075.3 1039.4h0"/><path stroke="#fe005c" d="M956.5 1060.7h0M916.7 1058.9h0"/><path stroke="#0078f3" d="M1111.6 1087.2h0"/><path stroke="#0080f7" d="M1143.6 1078.4h0M1123.0 1078.4h0M1153.7 1080.2h0"/><path stroke="#ff0051" d="M958.3 1066.0h0"/><path stroke="#0078f3" d="M1078.8 1043.0h0"/><path stroke="#ff0051" d="M888.9 1062.5h0"/><path stroke="#ff0057" d="M940.2 1066.0h0"/><path stroke="#0078f3" d="M1078.0 1044.7h0"/><path stroke="#ff0057" d="M928.3 1066.0h0"/><path stroke="#0080f7" d="M1138.2 1044.7h0"/><path stroke="#fe005c" d="M950.7 1066.0h0M891.1 1064.2h0"/><path stroke="#d5008f" d="M1051.7 1103.2h0"/><path stroke="#ff0057" d="M933.0 1058.9h0M905.4 1067.8h0"/><path stroke="#007cf5" d="M990.8 1028.8h0"/><path stroke="#6359da" d="M962.2 1058.9h0"/><path stroke="#fe005c" d="M952.7 1062.5h0"/><path stroke="#007cf5" d="M1118.1 1041.2h0"/><path stroke="#ff0051" d="M901.9 1058.9h0"/><path stroke="#fe005c" d="M903.9 1066.0h0"/><path stroke="#ff0057" d="M911.2 1064.2h0"/><path stroke="#0084f9" d="M1036.1 1096.1h0"/><path stroke="#ff0051" d="M838.1 1062.5h0"/><path stroke="#6c54d6" d="M981.8 1051.8h0"/><path stroke="#007cf5" d="M1165.8 1076.6h0"/><path stroke="#7d49cb" d="M998.2 1103.2h0"/><path stroke="#ff0057" d="M946.8 1060.7h0"/><path stroke="#b30aa3" d="M1059.1 1089.0h0"/><path stroke="#ff0051" d="M947.5 1066.0h0"/><path stroke="#007cf5" d="M1137.5 1081.9h0"/><path stroke="#ff0051" d="M896.7 1062.5h0"/><path stroke="#962db3" d="M1052.0 1030.6h0"/><path stroke="#0080f7" d="M1102.2 1034.1h0"/><path stroke="#0084f9" d="M1110.8 1037.7h0"/><path stroke="#0087fa" d="M1024.4 1023.5h0"/><path stroke="#ff0057" d="M925.6 1058.9h0M947.1 1064.2h0"/><path stroke="#0087fa" d="M987.5 1037.7h0"/><path stroke="#585edf" d="M981.7 1043.0h0"/><path stroke="#fe005c" d="M900.3 1060.7h0"/><path stroke="#007cf5" d="M1020.3 1023.5h0"/><path stroke="#0078f3" d="M1088.5 1083.7h0"/><path stroke="#007cf5" d="M1158.4 1044.7h0"/><path stroke="#9b23ad" d="M1066.6 1037.7h0"/><path stroke="#fe005c" d="M924.9 1060.7h0"/><path stroke="#0078f3" d="M1097.5 1090.8h0"/><path stroke="#b30aa3" d="M1051.2 1087.2h0"/><path stroke="#007cf5" d="M1038.9 1090.8h0"/><path stroke="#0074f0" d="M1070.5 1039.4h0"/><path stroke="#6c54d6" d="M965.4 1057.1h0"/><path stroke="#754fd1" d="M964.4 1060.7h0"/><path stroke="#0078f3" d="M1114.3 1071.3h0"/><path stroke="#585edf" d="M973.2 1071.3h0"/><path stroke="#ee0077" d="M1077.2 1085.5h0"/><path stroke="#0074f0" d="M1007.9 1087.2h0"/><path stroke="#cf0093" d="M1062.9 1094.3h0"/><path stroke="#0078f3" d="M1078.4 1081.9h0"/><path stroke="#585edf" d="M1000.8 1099.6h0"/><path stroke="#0080f7" d="M1077.0 1046.5h0"/><path stroke="#0078f3" d="M1119.3 1083.7h0"/><path stroke="#754fd1" d="M963.9 1064.2h0"/><path stroke="#0078f3" d="M1116.7 1043.0h0"/><path stroke="#0080f7" d="M1134.2 1051.8h0M992.3 1034.1h0"/><path stroke="#0084f9" d="M1012.7 1023.5h0"/><path stroke="#7d49cb" d="M1057.6 1085.5h0"/><path stroke="#ff0057" d="M1052.1 1032.3h0"/><path stroke="#0084f9" d="M1072.2 1046.5h0"/><path stroke="#0080f7" d="M1086.3 1043.0h0"/><path stroke="#0078f3" d="M1108.9 1039.4h0"/><path stroke="#6359da" d="M1037.5 1027.0h0"/><path stroke="#0084f9" d="M1095.2 1035.9h0"/><path stroke="#fc0062" d="M980.7 1078.4h0"/><path stroke="#0080f7" d="M1086.2 1053.6h0"/><path stroke="#0084f9" d="M1020.3 1103.2h0"/><path stroke="#ff0057" d="M920.9 1060.7h0"/><path stroke="#0087fa" d="M1152.8 1044.7h0"/><path stroke="#007cf5" d="M1002.0 1039.4h0"/><path stroke="#0074f0" d="M1005.9 1046.5h0"/><path stroke="#0084f9" d="M985.7 1046.5h0"/><path stroke="#ee0077" d="M1092.0 1089.0h0"/><path stroke="#0087fa" d="M1159.6 1048.3h0"/><path stroke="#0078f3" d="M1030.8 1096.1h0"/><path stroke="#ff0057" d="M906.3 1066.0h0"/><path stroke="#6c54d6" d="M973.9 1069.5h0"/><path stroke="#0087fa" d="M1156.1 1081.9h0"/><path stroke="#0084f9" d="M1138.3 1046.5h0"/><path stroke="#6359da" d="M996.4 1032.3h0"/><path stroke="#0078f3" d="M1089.0 1048.3h0M1118.7 1081.9h0"/><path stroke="#007cf5" d="M1076.4 1083.7h0"/><path stroke="#0078f3" d="M1115.7 1044.7h0"/><path stroke="#0087fa" d="M1010.3 1044.7h0"/><path stroke="#0084f9" d="M1173.1 1058.9h0"/><path stroke="#007cf5" d="M1121.2 1048.3h0"/><path stroke="#0080f7" d="M1149.5 1078.4h0"/><path stroke="#7d49cb" d="M964.3 1066.0h0"/><path stroke="#0078f3" d="M1107.0 1051.8h0"/><path stroke="#9135ba" d="M1049.0 1030.6h0"/><path stroke="#7d49cb" d="M1074.0 1053.6h0"/><path stroke="#585edf" d="M1011.7 1101.4h0"/><path stroke="#0080f7" d="M998.9 1028.8h0"/><path stroke="#0084f9" d="M1116.2 1074.8h0"/><path stroke="#0074f0" d="M1075.1 1055.4h0"/><path stroke="#6c54d6" d="M982.0 1078.4h0"/><path stroke="#e00086" d="M1080.7 1076.6h0"/><path stroke="#fe005c" d="M948.3 1062.5h0"/><path stroke="#0078f3" d="M1025.8 1030.6h0"/><path stroke="#ee0077" d="M1090.9 1083.7h0"/><path stroke="#0074f0" d="M1120.6 1066.0h0"/><path stroke="#0080f7" d="M1001.2 1097.9h0"/><path stroke="#585edf" d="M1008.0 1032.3h0"/><path stroke="#0078f3" d="M1008.7 1027.0h0"/><path stroke="#ff0057" d="M941.8 1064.2h0"/><path stroke="#0078f3" d="M1140.4 1046.5h0"/><path stroke="#fe005c" d="M925.6 1066.0h0"/><path stroke="#ff0057" d="M945.3 1062.5h0"/><path stroke="#0080f7" d="M1106.1 1060.7h0"/><path stroke="#0084f9" d="M1084.2 1064.2h0"/><path stroke="#7d49cb" d="M980.6 1069.5h0"/><path stroke="#ff0057" d="M960.9 1066.0h0"/><path stroke="#0078f3" d="M1157.8 1053.6h0"/><path stroke="#0080f7" d="M1118.4 1051.8h0"/><path stroke="#0074f0" d="M1116.1 1087.2h0"/><path stroke="#0084f9" d="M1136.9 1062.5h0"/><path stroke="#0078f3" d="M1083.1 1069.5h0"/><path stroke="#7d49cb" d="M984.3 1089.0h0"/><path stroke="#ff0051" d="M959.3 1064.2h0"/><path stroke="#0080f7" d="M1170.9 1069.5h0"/><path stroke="#007cf5" d="M1090.1 1073.1h0"/><path stroke="#585edf" d="M1036.6 1048.3h0"/><path stroke="#e00086" d="M1092.3 1037.7h0"/><path stroke="#007cf5" d="M1145.8 1076.6h0"/><path stroke="#0078f3" d="M1166.0 1048.3h0"/><path stroke="#007cf5" d="M1091.4 1043.0h0"/><path stroke="#0074f0" d="M1026.4 1041.2h0"/><path stroke="#c2009c" d="M1060.3 1062.5h0"/><path stroke="#4b63e3" d="M984.5 1051.8h0"/><path stroke="#0084f9" d="M1160.7 1078.4h0M1149.9 1051.8h0M1172.8 1067.8h0"/><path stroke="#007cf5" d="M990.9 1039.4h0"/><path stroke="#fe005c" d="M976.1 1060.7h0"/><path stroke="#0074f0" d="M1081.9 1064.2h0"/><path stroke="#ff0051" d="M1047.0 1037.7h0"/><path stroke="#7d49cb" d="M1033.2 1094.3h0"/><path stroke="#007cf5" d="M1118.1 1080.2h0"/><path stroke="#0084f9" d="M1019.5 1099.6h0"/><path stroke="#cf0093" d="M1050.1 1023.5h0"/><path stroke="#0084f9" d="M1106.6 1044.7h0"/><path stroke="#754fd1" d="M1072.4 1083.7h0"/><path stroke="#f90067" d="M1014.1 1025.3h0"/><path stroke="#754fd1" d="M1006.1 1094.3h0"/><path stroke="#ab15a7" d="M1072.8 1041.2h0"/><path stroke="#0084f9" d="M1132.5 1066.0h0"/><path stroke="#0074f0" d="M1000.2 1030.6h0"/><path stroke="#0087fa" d="M1141.5 1073.1h0"/><path stroke="#bb00a0" d="M1047.4 1087.2h0"/><path stroke="#007cf5" d="M1148.3 1058.9h0M1158.4 1057.1h0"/><path stroke="#0080f7" d="M1153.4 1066.0h0"/><path stroke="#007cf5" d="M1092.0 1074.8h0"/><path stroke="#7d49cb" d="M1062.5 1064.2h0"/><path stroke="#0078f3" d="M1159.3 1069.5h0"/><path stroke="#6c54d6" d="M984.8 1081.9h0"/><path stroke="#0080f7" d="M1093.0 1048.3h0"/><path stroke="#0078f3" d="M1090.5 1046.5h0"/><path stroke="#fe005c" d="M1062.8 1050.1h0"/><path stroke="#6359da" d="M1017.4 1027.0h0"/><path stroke="#6c54d6" d="M1059.0 1076.6h0"/><path stroke="#0080f7" d="M1121.6 1074.8h0"/><path stroke="#f5006c" d="M995.0 1087.2h0"/><path stroke="#0080f7" d="M1156.9 1080.2h0"/><path stroke="#e50081" d="M1114.6 1076.6h0"/><path stroke="#0080f7" d="M1104.2 1067.8h0M1157.8 1081.9h0"/><path stroke="#0078f3" d="M1139.6 1051.8h0"/><path stroke="#007cf5" d="M1030.3 1039.4h0"/><path stroke="#0084f9" d="M1145.5 1074.8h0"/><path stroke="#0080f7" d="M1003.1 1067.8h0"/><path stroke="#6359da" d="M1021.9 1028.8h0"/><path stroke="#0087fa" d="M1015.2 1041.2h0"/><path stroke="#6c54d6" d="M974.8 1069.5h0"/><path stroke="#0074f0" d="M1056.7 1081.9h0"/><path stroke="#8443c6" d="M1029.9 1044.7h0"/><path stroke="#9b23ad" d="M1060.3 1037.7h0"/><path stroke="#f20072" d="M1100.6 1089.0h0"/><path stroke="#ff0051" d="M899.5 1064.2h0"/><path stroke="#0080f7" d="M1109.2 1087.2h0"/><path stroke="#6359da" d="M992.6 1043.0h0"/><path stroke="#ff0051" d="M944.2 1064.2h0"/><path stroke="#0074f0" d="M1032.5 1087.2h0"/><path stroke="#ff0057" d="M929.6 1064.2h0"/><path stroke="#6359da" d="M1025.0 1099.6h0"/><path stroke="#007cf5" d="M1099.3 1039.4h0"/><path stroke="#0084f9" d="M1152.7 1071.3h0"/><path stroke="#0078f3" d="M1030.3 1046.5h0"/><path stroke="#ff0051" d="M926.5 1064.2h0"/><path stroke="#0084f9" d="M1008.8 1050.1h0M1051.9 1105.0h0"/><path stroke="#236cea" d="M1051.8 1051.8h0"/><path stroke="#0078f3" d="M987.1 1050.1h0"/><path stroke="#0080f7" d="M1018.3 1064.2h0"/><path stroke="#007cf5" d="M1094.8 1078.4h0"/><path stroke="#9135ba" d="M1040.8 1039.4h0"/><path stroke="#0080f7" d="M1093.0 1060.7h0"/><path stroke="#8443c6" d="M1041.2 1037.7h0"/><path stroke="#fe005c" d="M908.5 1062.5h0"/><path stroke="#6359da" d="M1021.7 1094.3h0"/><path stroke="#007cf5" d="M1129.4 1064.2h0"/><path stroke="#d5008f" d="M1040.4 1087.2h0"/><path stroke="#cf0093" d="M1069.5 1087.2h0"/><path stroke="#fe005c" d="M1048.0 1078.4h0"/><path stroke="#da008a" d="M1122.2 1050.1h0"/><path stroke="#007cf5" d="M1034.7 1053.6h0"/><path stroke="#7d49cb" d="M1045.1 1060.7h0"/><path stroke="#007cf5" d="M1009.9 1066.0h0"/><path stroke="#c80098" d="M1046.6 1028.8h0"/><path stroke="#962db3" d="M1046.9 1092.6h0"/><path stroke="#0074f0" d="M1023.3 1057.1h0"/><path stroke="#da008a" d="M1003.7 1048.3h0"/><path stroke="#007cf5" d="M1165.4 1057.1h0"/><path stroke="#6359da" d="M1001.3 1025.3h0"/><path stroke="#0084f9" d="M1003.0 1087.2h0"/><path stroke="#0078f3" d="M1030.1 1050.1h0"/><path stroke="#0084f9" d="M1106.4 1064.2h0"/><path stroke="#754fd1" d="M972.7 1067.8h0M1013.2 1032.3h0"/><path stroke="#0078f3" d="M1012.0 1080.2h0"/><path stroke="#0084f9" d="M993.4 1050.1h0"/><path stroke="#585edf" d="M991.0 1064.2h0"/><path stroke="#0074f0" d="M1020.7 1053.6h0"/><path stroke="#007cf5" d="M1113.5 1058.9h0"/><path stroke="#6c54d6" d="M1059.2 1050.1h0"/><path stroke="#754fd1" d="M1070.0 1050.1h0"/><path stroke="#7d49cb" d="M1002.8 1074.8h0M981.9 1067.8h0"/><path stroke="#0084f9" d="M986.5 1039.4h0M997.0 1085.5h0"/><path stroke="#0080f7" d="M1150.1 1067.8h0"/><path stroke="#0078f3" d="M1025.7 1078.4h0"/><path stroke="#585edf" d="M1003.4 1057.1h0"/><path stroke="#0084f9" d="M1125.0 1058.9h0M1161.8 1057.1h0"/><path stroke="#ff0057" d="M1070.7 1074.8h0"/><path stroke="#e00086" d="M988.5 1083.7h0"/><path stroke="#0084f9" d="M1088.6 1080.2h0M1038.4 1076.6h0"/><path stroke="#c80098" d="M1043.4 1051.8h0"/><path stroke="#007cf5" d="M990.5 1060.7h0"/><path stroke="#754fd1" d="M968.9 1067.8h0"/><path stroke="#0078f3" d="M1010.1 1057.1h0"/><path stroke="#0080f7" d="M1145.3 1069.5h0"/><path stroke="#585edf" d="M1024.3 1046.5h0"/><path stroke="#7d49cb" d="M971.5 1057.1h0"/><path stroke="#ff0057" d="M971.0 1066.0h0"/><path stroke="#0084f9" d="M999.9 1057.1h0"/><path stroke="#ff0057" d="M1054.4 1066.0h0"/><path stroke="#0084f9" d="M1125.9 1066.0h0M1031.6 1057.1h0M1141.9 1048.3h0"/><path stroke="#0078f3" d="M1033.9 1067.8h0"/><path stroke="#007cf5" d="M1110.7 1083.7h0"/><path stroke="#6c54d6" d="M1011.6 1067.8h0"/><path stroke="#8443c6" d="M1001.8 1089.0h0"/><path stroke="#e00086" d="M1015.0 1027.0h0"/><path stroke="#fe005c" d="M1049.6 1043.0h0"/><path stroke="#007cf5" d="M1136.6 1080.2h0"/><path stroke="#fe005c" d="M933.2 1064.2h0"/><path stroke="#6c54d6" d="M1018.6 1071.3h0"/><path stroke="#0078f3" d="M990.4 1048.3h0"/><path stroke="#0084f9" d="M1164.5 1066.0h0"/><path stroke="#007cf5" d="M988.0 1097.9h0M1077.5 1062.5h0"/><path stroke="#0084f9" d="M1016.6 1083.7h0"/><path stroke="#fc0062" d="M1066.1 1062.5h0"/><path stroke="#0080f7" d="M1144.2 1067.8h0"/><path stroke="#0074f0" d="M988.8 1074.8h0"/><path stroke="#0078f3" d="M1166.0 1064.2h0"/><path stroke="#9b23ad" d="M1060.9 1034.1h0"/><path stroke="#6359da" d="M1011.2 1028.8h0"/><path stroke="#0080f7" d="M1033.5 1028.8h0"/><path stroke="#ff0057" d="M1045.5 1030.6h0"/><path stroke="#0084f9" d="M1103.2 1064.2h0"/><path stroke="#0074f0" d="M1121.4 1062.5h0"/><path stroke="#754fd1" d="M992.5 1057.1h0"/><path stroke="#a31daa" d="M1064.1 1064.2h0"/><path stroke="#7d49cb" d="M1026.2 1083.7h0"/><path stroke="#0074f0" d="M1027.8 1085.5h0"/><path stroke="#0078f3" d="M1019.6 1089.0h0"/><path stroke="#cf0093" d="M1047.6 1071.3h0"/><path stroke="#ff0051" d="M1072.0 1053.6h0"/><path stroke="#0078f3" d="M1131.2 1058.9h0"/><path stroke="#0080f7" d="M1006.3 1053.6h0"/><path stroke="#0084f9" d="M1026.6 1069.5h0"/><path stroke="#8443c6" d="M1008.1 1096.1h0"/><path stroke="#0078f3" d="M1124.8 1076.6h0"/><path stroke="#e00086" d="M1093.4 1087.2h0"/><path stroke="#007cf5" d="M1105.2 1066.0h0"/><path stroke="#0078f3" d="M1012.0 1037.7h0"/><path stroke="#007cf5" d="M1146.9 1050.1h0"/><path stroke="#0080f7" d="M1107.8 1078.4h0"/><path stroke="#585edf" d="M993.8 1073.1h0"/><path stroke="#0080f7" d="M1001.3 1073.1h0"/><path stroke="#fc0062" d="M1064.0 1092.6h0"/><path stroke="#ff0051" d="M866.7 1062.5h0"/><path stroke="#6c54d6" d="M994.0 1058.9h0"/><path stroke="#007cf5" d="M1092.6 1071.3h0M1128.8 1067.8h0"/><path stroke="#ff0057" d="M917.7 1066.0h0"/><path stroke="#4b63e3" d="M1016.4 1081.9h0"/><path stroke="#0078f3" d="M1046.7 1073.1h0"/><path stroke="#0084f9" d="M1012.5 1043.0h0"/><path stroke="#0087fa" d="M1035.0 1083.7h0"/><path stroke="#0078f3" d="M1117.9 1046.5h0"/><path stroke="#9135ba" d="M1068.5 1081.9h0"/><path stroke="#fe005c" d="M916.5 1060.7h0"/><path stroke="#0078f3" d="M1097.4 1051.8h0"/><path stroke="#e00086" d="M1221.2 946.0h0"/><path stroke="#8443c6" d="M1062.2 982.7h0"/><path stroke="#fe005c" d="M1151.4 946.0h0"/><path stroke="#ff0057" d="M1106.0 967.7h0"/><path stroke="#0084f9" d="M959.9 930.9h0"/><path stroke="#236cea" d="M1018.6 984.4h0"/><path stroke="#6c54d6" d="M1109.8 964.3h0"/><path stroke="#0078f3" d="M935.4 942.6h0"/><path stroke="#9b23ad" d="M1099.9 919.2h0"/><path stroke="#0070ed" d="M928.7 946.0h0"/><path stroke="#a31daa" d="M1173.7 940.9h0"/><path stroke="#0080f7" d="M932.3 946.0h0"/><path stroke="#ff0051" d="M1138.1 942.6h0"/><path stroke="#0070ed" d="M949.1 935.9h0"/><path stroke="#ff0057" d="M1100.4 979.4h0"/><path stroke="#cf0093" d="M1217.9 944.3h0"/><path stroke="#0070ed" d="M1007.5 919.2h0"/><path stroke="#0080f7" d="M1055.0 915.9h0"/><path stroke="#007cf5" d="M1006.1 979.4h0"/><path stroke="#4b63e3" d="M1074.4 981.0h0"/><path stroke="#e00086" d="M1218.9 954.3h0"/><path stroke="#6c54d6" d="M1080.8 986.1h0"/><path stroke="#8443c6" d="M1072.4 977.7h0"/><path stroke="#e00086" d="M1223.4 947.6h0"/><path stroke="#0078f3" d="M946.0 962.7h0"/><path stroke="#236cea" d="M950.0 962.7h0"/><path stroke="#7d49cb" d="M1080.0 910.9h0"/><path stroke="#d5008f" d="M1205.3 942.6h0"/><path stroke="#fe005c" d="M1138.2 944.3h0"/><path stroke="#0084f9" d="M1020.4 915.9h0"/><path stroke="#c80098" d="M1217.6 946.0h0"/><path stroke="#0070ed" d="M1017.2 982.7h0"/><path stroke="#ff0057" d="M948.2 961.0h0"/><path stroke="#6359da" d="M1082.9 987.7h0"/><path stroke="#cf0093" d="M1229.3 947.6h0"/><path stroke="#c2009c" d="M1215.3 956.0h0"/><path stroke="#9135ba" d="M1112.9 961.0h0"/><path stroke="#0084f9" d="M953.1 935.9h0"/><path stroke="#6c54d6" d="M1081.4 982.7h0"/><path stroke="#962db3" d="M1172.9 942.6h0"/><path stroke="#d5008f" d="M1194.2 959.3h0"/><path stroke="#ff0051" d="M966.5 971.0h0"/><path stroke="#0074f0" d="M980.2 927.6h0"/><path stroke="#236cea" d="M997.1 922.6h0"/><path stroke="#9135ba" d="M1164.4 942.6h0"/><path stroke="#0070ed" d="M1001.6 920.9h0"/><path stroke="#0074f0" d="M1032.4 919.2h0"/><path stroke="#6c54d6" d="M1089.1 914.2h0"/><path stroke="#bb00a0" d="M1200.3 956.0h0"/><path stroke="#cf0093" d="M1189.2 957.7h0"/><path stroke="#ab15a7" d="M1110.2 962.7h0"/><path stroke="#b30aa3" d="M1105.7 966.0h0"/><path stroke="#0080f7" d="M945.2 959.3h0"/><path stroke="#ab15a7" d="M1169.4 942.6h0"/><path stroke="#e00086" d="M1177.4 942.6h0"/><path stroke="#0074f0" d="M946.1 959.3h0"/><path stroke="#ab15a7" d="M1167.5 957.7h0"/><path stroke="#ff0057" d="M951.1 939.3h0"/><path stroke="#c2009c" d="M1205.5 944.3h0"/><path stroke="#0084f9" d="M1049.4 919.2h0"/><path stroke="#cf0093" d="M1213.2 957.7h0"/><path stroke="#754fd1" d="M1100.2 976.0h0"/><path stroke="#9b23ad" d="M1162.1 944.3h0"/><path stroke="#fe005c" d="M1155.9 944.3h0"/><path stroke="#0080f7" d="M992.4 925.9h0"/><path stroke="#236cea" d="M989.9 927.6h0"/><path stroke="#fc0062" d="M1144.8 946.0h0"/><path stroke="#c2009c" d="M1189.6 942.6h0"/><path stroke="#c80098" d="M1223.9 949.3h0"/><path stroke="#7d49cb" d="M1066.1 920.9h0"/><path stroke="#0078f3" d="M927.1 949.3h0"/><path stroke="#ff0057" d="M1026.8 982.7h0"/><path stroke="#e00086" d="M1218.5 947.6h0"/><path stroke="#0080f7" d="M960.9 967.7h0"/><path stroke="#236cea" d="M1018.5 982.7h0"/><path stroke="#8443c6" d="M1117.5 940.9h0"/><path stroke="#4b63e3" d="M1108.5 961.0h0"/><path stroke="#c80098" d="M1229.8 952.6h0"/><path stroke="#7d49cb" d="M1083.3 984.4h0"/><path stroke="#007cf5" d="M974.6 969.4h0"/><path stroke="#ff0051" d="M1152.7 946.0h0"/><path stroke="#0074f0" d="M938.0 944.3h0"/><path stroke="#d5008f" d="M1211.2 942.6h0"/><path stroke="#962db3" d="M1173.6 959.3h0"/><path stroke="#008bfb" d="M1103.7 969.4h0"/><path stroke="#236cea" d="M956.6 966.0h0"/><path stroke="#0080f7" d="M1016.5 915.9h0"/><path stroke="#c2009c" d="M1180.6 942.6h0"/><path stroke="#0080f7" d="M963.1 967.7h0"/><path stroke="#962db3" d="M1168.1 956.0h0"/><path stroke="#fc0062" d="M1141.6 946.0h0"/><path stroke="#fe005c" d="M1131.3 942.6h0"/><path stroke="#236cea" d="M945.1 939.3h0"/><path stroke="#007cf5" d="M924.8 952.6h0"/><path stroke="#b30aa3" d="M1110.2 935.9h0"/><path stroke="#0078f3" d="M997.2 977.7h0"/><path stroke="#007cf5" d="M968.1 969.4h0"/><path stroke="#0084f9" d="M1042.4 979.4h0"/><path stroke="#007cf5" d="M1001.8 979.4h0"/><path stroke="#0070ed" d="M938.7 956.0h0"/><path stroke="#8b3cc0" d="M1124.5 944.3h0"/><path stroke="#fc0062" d="M1155.5 954.3h0"/><path stroke="#0080f7" d="M1034.2 979.4h0"/><path stroke="#9b23ad" d="M1162.9 957.7h0"/><path stroke="#8b3cc0" d="M1078.1 979.4h0"/><path stroke="#0074f0" d="M1031.4 919.2h0M991.6 974.4h0"/><path stroke="#bb00a0" d="M1235.2 951.0h0"/><path stroke="#c80098" d="M1201.5 944.3h0"/><path stroke="#da008a" d="M1195.8 940.9h0"/><path stroke="#e50081" d="M1184.2 942.6h0"/><path stroke="#fc0062" d="M1158.5 946.0h0"/><path stroke="#0087fa" d="M1106.7 930.9h0"/><path stroke="#c2009c" d="M1216.0 947.6h0"/><path stroke="#962db3" d="M1094.7 915.9h0"/><path stroke="#0078f3" d="M1035.0 969.4h0"/><path stroke="#007cf5" d="M994.0 974.4h0"/><path stroke="#0078f3" d="M1059.0 929.2h0"/><path stroke="#cf0093" d="M1199.6 947.6h0"/><path stroke="#0087fa" d="M1109.5 959.3h0"/><path stroke="#d5008f" d="M1194.4 942.6h0"/><path stroke="#007cf5" d="M1029.6 920.9h0"/><path stroke="#fc0062" d="M1072.5 954.3h0"/><path stroke="#c2009c" d="M1235.9 949.3h0"/><path stroke="#bb00a0" d="M1196.1 957.7h0"/><path stroke="#8443c6" d="M1115.7 939.3h0"/><path stroke="#236cea" d="M945.8 944.3h0"/><path stroke="#b30aa3" d="M1086.8 986.1h0"/><path stroke="#0084f9" d="M1075.5 959.3h0"/><path stroke="#962db3" d="M1164.6 956.0h0"/><path stroke="#585edf" d="M1085.9 919.2h0"/><path stroke="#ff0057" d="M1045.7 981.0h0"/><path stroke="#fe005c" d="M1099.4 974.4h0"/><path stroke="#ff0057" d="M1150.1 947.6h0"/><path stroke="#007cf5" d="M1004.4 954.3h0"/><path stroke="#0080f7" d="M942.5 947.6h0"/><path stroke="#fe005c" d="M1139.5 947.6h0"/><path stroke="#0080f7" d="M955.4 937.6h0"/><path stroke="#0078f3" d="M1025.4 984.4h0"/><path stroke="#0087fa" d="M1099.9 925.9h0"/><path stroke="#0070ed" d="M999.1 961.0h0"/><path stroke="#d5008f" d="M1198.1 954.3h0"/><path stroke="#4b63e3" d="M1082.4 952.6h0"/><path stroke="#0074f0" d="M991.4 952.6h0"/><path stroke="#0078f3" d="M973.6 930.9h0"/><path stroke="#6359da" d="M1086.4 924.2h0"/><path stroke="#0070ed" d="M947.4 942.6h0"/><path stroke="#cf0093" d="M1195.4 944.3h0"/><path stroke="#7d49cb" d="M1084.8 935.9h0"/><path stroke="#0074f0" d="M1037.4 977.7h0"/><path stroke="#9b23ad" d="M1161.0 951.0h0"/><path stroke="#0084f9" d="M1067.7 949.3h0"/><path stroke="#0074f0" d="M1004.5 940.9h0M1061.9 917.6h0"/><path stroke="#ff0051" d="M1098.4 971.0h0"/><path stroke="#fe005c" d="M1126.6 946.0h0"/><path stroke="#da008a" d="M1268.0 949.3h0"/><path stroke="#236cea" d="M1011.5 981.0h0"/><path stroke="#3b68e7" d="M1009.4 954.3h0"/><path stroke="#0074f0" d="M1022.6 930.9h0"/><path stroke="#0070ed" d="M966.0 927.6h0"/><path stroke="#0074f0" d="M1055.5 962.7h0"/><path stroke="#bb00a0" d="M1221.8 952.6h0"/><path stroke="#007cf5" d="M1016.4 942.6h0M993.6 939.3h0"/><path stroke="#0070ed" d="M1038.4 976.0h0"/><path stroke="#236cea" d="M1019.5 971.0h0"/><path stroke="#ff0057" d="M964.6 930.9h0"/><path stroke="#007cf5" d="M973.0 966.0h0"/><path stroke="#ff0057" d="M1157.5 949.3h0"/><path stroke="#7d49cb" d="M1117.6 942.6h0"/><path stroke="#fe005c" d="M1053.2 982.7h0"/><path stroke="#007cf5" d="M998.0 976.0h0"/><path stroke="#0074f0" d="M929.9 954.3h0"/><path stroke="#007cf5" d="M987.2 961.0h0"/><path stroke="#cf0093" d="M1202.2 949.3h0"/><path stroke="#ff0057" d="M1149.9 954.3h0"/><path stroke="#236cea" d="M986.2 927.6h0"/><path stroke="#0080f7" d="M985.8 966.0h0"/><path stroke="#6359da" d="M1065.6 932.6h0"/><path stroke="#585edf" d="M1066.4 957.7h0"/><path stroke="#0074f0" d="M1027.3 917.6h0"/><path stroke="#cf0093" d="M1213.2 956.0h0"/><path stroke="#962db3" d="M1097.9 930.9h0"/><path stroke="#a31daa" d="M1085.0 927.6h0"/><path stroke="#754fd1" d="M1082.6 947.6h0"/><path stroke="#0070ed" d="M1002.4 977.7h0"/><path stroke="#236cea" d="M1011.0 919.2h0"/><path stroke="#0074f0" d="M1014.2 935.9h0"/><path stroke="#0078f3" d="M1018.3 930.9h0"/><path stroke="#9135ba" d="M1085.4 949.3h0"/><path stroke="#007cf5" d="M1064.3 966.0h0"/><path stroke="#0070ed" d="M922.9 949.3h0"/><path stroke="#0078f3" d="M1042.3 977.7h0"/><path stroke="#fe005c" d="M1147.9 952.6h0"/><path stroke="#e50081" d="M1214.4 949.3h0"/><path stroke="#0070ed" d="M1013.4 922.6h0"/><path stroke="#236cea" d="M1026.5 915.9h0"/><path stroke="#0078f3" d="M998.2 966.0h0M923.9 951.0h0"/><path stroke="#007cf5" d="M958.3 934.3h0"/><path stroke="#ff0057" d="M1154.4 952.6h0"/><path stroke="#236cea" d="M1044.1 942.6h0"/><path stroke="#ff0057" d="M1099.6 981.0h0"/><path stroke="#9b23ad" d="M1164.1 944.3h0"/><path stroke="#7d49cb" d="M1094.4 984.4h0"/><path stroke="#007cf5" d="M1049.7 966.0h0M928.1 952.6h0"/><path stroke="#0078f3" d="M1060.3 957.7h0"/><path stroke="#ff0057" d="M1023.9 951.0h0"/><path stroke="#bb00a0" d="M1106.0 939.3h0"/><path stroke="#7d49cb" d="M1076.9 930.9h0"/><path stroke="#754fd1" d="M1060.2 915.9h0"/><path stroke="#0074f0" d="M1017.9 920.9h0"/><path stroke="#0070ed" d="M1069.4 927.6h0"/><path stroke="#962db3" d="M1165.8 946.0h0"/><path stroke="#585edf" d="M1082.3 925.9h0"/><path stroke="#c2009c" d="M1178.4 946.0h0"/><path stroke="#0078f3" d="M1052.7 935.9h0"/><path stroke="#007cf5" d="M1061.6 937.6h0"/><path stroke="#ff0057" d="M1006.6 956.0h0"/><path stroke="#0078f3" d="M989.9 972.7h0"/><path stroke="#c2009c" d="M1191.0 956.0h0"/><path stroke="#3b68e7" d="M1027.7 957.7h0"/><path stroke="#0074f0" d="M995.1 925.9h0"/><path stroke="#0078f3" d="M1006.0 952.6h0"/><path stroke="#a31daa" d="M1166.2 944.3h0"/><path stroke="#6359da" d="M1074.7 940.9h0"/><path stroke="#c80098" d="M1190.1 956.0h0"/><path stroke="#da008a" d="M1231.2 949.3h0"/><path stroke="#0084f9" d="M1049.6 981.0h0"/><path stroke="#cf0093" d="M1189.6 954.3h0"/><path stroke="#6c54d6" d="M1090.2 951.0h0"/><path stroke="#a31daa" d="M1172.4 954.3h0"/><path stroke="#8443c6" d="M1091.4 951.0h0"/><path stroke="#8b3cc0" d="M1076.2 939.3h0"/><path stroke="#4b63e3" d="M1075.1 977.7h0"/><path stroke="#0078f3" d="M1016.8 947.6h0"/><path stroke="#0087fa" d="M1096.5 937.6h0"/><path stroke="#0080f7" d="M1044.5 930.9h0"/><path stroke="#f90067" d="M1055.0 917.6h0"/><path stroke="#e00086" d="M1214.0 954.3h0M1177.2 957.7h0"/><path stroke="#f90067" d="M1088.3 957.7h0"/><path stroke="#ff0051" d="M1151.4 951.0h0"/><path stroke="#6c54d6" d="M1082.6 962.7h0"/><path stroke="#0074f0" d="M949.3 961.0h0"/><path stroke="#0080f7" d="M1104.2 964.3h0"/><path stroke="#ff0051" d="M1004.8 920.9h0"/><path stroke="#6c54d6" d="M1076.2 917.6h0"/><path stroke="#0074f0" d="M955.1 962.7h0"/><path stroke="#236cea" d="M934.6 947.6h0"/><path stroke="#0084f9" d="M1034.0 949.3h0"/><path stroke="#236cea" d="M991.7 951.0h0"/><path stroke="#585edf" d="M1084.6 986.1h0M1067.4 967.7h0"/><path stroke="#0080f7" d="M1002.4 964.3h0"/><path stroke="#0078f3" d="M954.4 939.3h0"/><path stroke="#0070ed" d="M947.7 949.3h0"/><path stroke="#8443c6" d="M1079.6 959.3h0"/><path stroke="#ff0057" d="M1146.5 947.6h0"/><path stroke="#0078f3" d="M961.6 940.9h0"/><path stroke="#9135ba" d="M1115.6 956.0h0"/><path stroke="#e50081" d="M1175.2 952.6h0"/><path stroke="#6c54d6" d="M1081.7 912.5h0"/><path stroke="#0070ed" d="M935.0 956.0h0"/><path stroke="#cf0093" d="M1205.0 956.0h0"/><path stroke="#0074f0" d="M974.6 962.7h0"/><path stroke="#0070ed" d="M975.8 954.3h0"/><path stroke="#fc0062" d="M1058.6 961.0h0"/><path stroke="#0080f7" d="M982.3 934.3h0"/><path stroke="#a31daa" d="M1096.7 947.6h0"/><path stroke="#754fd1" d="M1117.8 959.3h0"/><path stroke="#8b3cc0" d="M1062.1 919.2h0"/><path stroke="#236cea" d="M1011.7 924.2h0"/><path stroke="#007cf5" d="M962.7 937.6h0M1020.6 972.7h0"/><path stroke="#ff0057" d="M966.2 930.9h0"/><path stroke="#ff0051" d="M1110.4 940.9h0"/><path stroke="#0078f3" d="M1022.2 976.0h0"/><path stroke="#d5008f" d="M1219.8 949.3h0"/><path stroke="#7d49cb" d="M1052.2 942.6h0M1093.3 922.6h0"/><path stroke="#bb00a0" d="M1099.9 920.9h0"/><path stroke="#007cf5" d="M1016.1 974.4h0"/><path stroke="#0080f7" d="M1002.8 932.6h0"/><path stroke="#fe005c" d="M1133.1 944.3h0"/><path stroke="#9135ba" d="M1172.8 944.3h0"/><path stroke="#c2009c" d="M1181.5 957.7h0"/><path stroke="#6359da" d="M1066.2 940.9h0"/><path stroke="#0070ed" d="M986.0 959.3h0"/><path stroke="#007cf5" d="M1029.7 971.0h0"/><path stroke="#0080f7" d="M967.3 954.3h0"/><path stroke="#0078f3" d="M1041.8 959.3h0"/><path stroke="#6c54d6" d="M1086.8 971.0h0"/><path stroke="#754fd1" d="M1050.5 930.9h0"/><path stroke="#6359da" d="M1096.5 969.4h0"/><path stroke="#0078f3" d="M1055.8 952.6h0"/><path stroke="#fe005c" d="M1137.9 956.0h0"/><path stroke="#754fd1" d="M1104.7 940.9h0"/><path stroke="#ff0051" d="M972.0 934.3h0"/><path stroke="#0084f9" d="M1035.4 934.3h0"/><path stroke="#0074f0" d="M951.2 959.3h0"/><path stroke="#c80098" d="M1189.8 949.3h0"/><path stroke="#f90067" d="M1061.9 944.3h0"/><path stroke="#236cea" d="M1042.5 947.6h0"/><path stroke="#0070ed" d="M1060.1 961.0h0"/><path stroke="#236cea" d="M1032.3 925.9h0"/><path stroke="#008bfb" d="M1094.7 979.4h0"/><path stroke="#ff0051" d="M1008.8 935.9h0"/><path stroke="#007cf5" d="M975.7 946.0h0"/><path stroke="#0080f7" d="M1029.1 939.3h0"/><path stroke="#0078f3" d="M932.5 954.3h0"/><path stroke="#3b68e7" d="M970.2 935.9h0"/><path stroke="#0080f7" d="M961.4 966.0h0"/><path stroke="#ff0051" d="M1129.2 954.3h0"/><path stroke="#6c54d6" d="M1080.6 939.3h0"/><path stroke="#0074f0" d="M994.3 932.6h0"/><path stroke="#0078f3" d="M1015.1 979.4h0"/><path stroke="#0080f7" d="M977.8 944.3h0"/><path stroke="#0074f0" d="M979.3 930.9h0"/><path stroke="#754fd1" d="M1062.3 981.0h0"/><path stroke="#0078f3" d="M1027.9 977.7h0"/><path stroke="#ff0057" d="M1028.7 962.7h0"/><path stroke="#0080f7" d="M1011.5 974.4h0"/><path stroke="#3b68e7" d="M1043.1 927.6h0"/><path stroke="#0070ed" d="M929.2 949.3h0"/><path stroke="#007cf5" d="M1013.8 976.0h0"/><path stroke="#0078f3" d="M1040.1 971.0h0"/><path stroke="#0074f0" d="M1045.6 952.6h0"/><path stroke="#7d49cb" d="M1118.7 951.0h0"/><path stroke="#0074f0" d="M972.9 964.3h0"/><path stroke="#d5008f" d="M1185.5 944.3h0"/><path stroke="#0070ed" d="M1022.5 929.2h0"/><path stroke="#0074f0" d="M955.3 954.3h0"/><path stroke="#b30aa3" d="M1107.7 949.3h0"/><path stroke="#007cf5" d="M1048.4 969.4h0"/><path stroke="#0084f9" d="M1003.0 919.2h0"/><path stroke="#236cea" d="M980.0 972.7h0"/><path stroke="#0080f7" d="M992.6 946.0h0"/><path stroke="#7d49cb" d="M1090.5 966.0h0"/><path stroke="#0080f7" d="M966.2 946.0h0"/><path stroke="#c2009c" d="M1209.2 946.0h0"/><path stroke="#236cea" d="M1025.2 959.3h0"/><path stroke="#754fd1" d="M1069.5 939.3h0"/><path stroke="#0078f3" d="M988.6 946.0h0M1016.1 946.0h0"/><path stroke="#0080f7" d="M1039.6 947.6h0"/><path stroke="#ff0057" d="M1061.0 922.6h0"/><path stroke="#8443c6" d="M1095.0 920.9h0"/><path stroke="#0070ed" d="M1032.0 935.9h0"/><path stroke="#585edf" d="M1080.6 977.7h0"/><path stroke="#0080f7" d="M1012.5 934.3h0"/><path stroke="#0078f3" d="M1008.0 937.6h0"/><path stroke="#0074f0" d="M1044.3 924.2h0"/><path stroke="#9b23ad" d="M1165.3 949.3h0"/><path stroke="#6359da" d="M1080.3 966.0h0"/><path stroke="#0084f9" d="M1009.2 961.0h0"/><path stroke="#fe005c" d="M1131.0 956.0h0"/><path stroke="#0070ed" d="M946.9 951.0h0"/><path stroke="#0078f3" d="M1049.6 974.4h0"/><path stroke="#236cea" d="M1019.9 961.0h0"/><path stroke="#8b3cc0" d="M1116.9 957.7h0"/><path stroke="#cf0093" d="M1195.1 949.3h0"/><path stroke="#0074f0" d="M1044.0 919.2h0"/><path stroke="#3b68e7" d="M1049.6 929.2h0"/><path stroke="#0078f3" d="M1079.2 962.7h0"/><path stroke="#9b23ad" d="M1095.2 957.7h0"/><path stroke="#fc0062" d="M1060.0 976.0h0"/><path stroke="#962db3" d="M1167.8 949.3h0"/><path stroke="#0078f3" d="M1049.2 957.7h0"/><path stroke="#0080f7" d="M1047.6 979.4h0"/><path stroke="#0078f3" d="M1006.1 947.6h0"/><path stroke="#754fd1" d="M1089.2 944.3h0"/><path stroke="#0078f3" d="M954.7 951.0h0"/><path stroke="#007cf5" d="M986.8 957.7h0"/><path stroke="#754fd1" d="M1089.8 984.4h0"/><path stroke="#7d49cb" d="M1068.7 930.9h0"/><path stroke="#007cf5" d="M979.6 947.6h0"/><path stroke="#0084f9" d="M1025.7 919.2h0"/><path stroke="#6c54d6" d="M1060.7 940.9h0"/><path stroke="#6359da" d="M1066.9 929.2h0"/><path stroke="#0070ed" d="M966.4 956.0h0"/><path stroke="#ff0057" d="M1056.0 949.3h0"/><path stroke="#0078f3" d="M1028.1 930.9h0"/><path stroke="#0084f9" d="M1104.0 952.6h0"/><path stroke="#6c54d6" d="M1069.9 971.0h0"/><path stroke="#236cea" d="M959.1 934.3h0"/><path stroke="#d5008f" d="M1181.8 949.3h0"/><path stroke="#7d49cb" d="M1084.2 966.0h0"/><path stroke="#0078f3" d="M987.8 929.2h0"/><path stroke="#0070ed" d="M980.1 949.3h0"/><path stroke="#236cea" d="M1001.5 971.0h0"/><path stroke="#6c54d6" d="M1321.2 828.0h0"/><path stroke="#0087fa" d="M1068.0 818.0h0"/><path stroke="#ff0051" d="M1012.2 841.2h0"/><path stroke="#0087fa" d="M1098.5 836.1h0"/><path stroke="#cf0093" d="M1332.7 843.7h0"/><path stroke="#008bfb" d="M1051.4 872.5h0"/><path stroke="#bb00a0" d="M1347.3 832.4h0"/><path stroke="#c2009c" d="M1335.3 828.6h0"/><path stroke="#0087fa" d="M1067.0 813.0h0"/><path stroke="#a31daa" d="M1307.0 831.8h0"/><path stroke="#236cea" d="M1313.5 841.8h0"/><path stroke="#008bfb" d="M1041.7 873.7h0"/><path stroke="#c80098" d="M1352.5 833.0h0"/><path stroke="#3b68e7" d="M1318.5 843.7h0"/><path stroke="#ff0051" d="M1000.9 836.1h0"/><path stroke="#0087fa" d="M1068.3 856.2h0"/><path stroke="#008bfb" d="M1021.8 818.6h0"/><path stroke="#0087fa" d="M1078.0 829.9h0"/><path stroke="#8443c6" d="M1317.7 829.3h0"/><path stroke="#ff0051" d="M1265.7 836.1h0"/><path stroke="#008bfb" d="M1056.9 867.5h0"/><path stroke="#ff0051" d="M1058.4 807.3h0"/><path stroke="#0084f9" d="M1067.0 813.6h0"/><path stroke="#8443c6" d="M1318.3 829.9h0"/><path stroke="#008bfb" d="M1052.1 800.4h0"/><path stroke="#bb00a0" d="M1354.6 838.7h0"/><path stroke="#008bfb" d="M1050.0 796.7h0"/><path stroke="#962db3" d="M1347.1 833.0h0"/><path stroke="#0084f9" d="M1072.3 825.5h0"/><path stroke="#ff0051" d="M999.2 836.1h0"/><path stroke="#008bfb" d="M1055.6 866.8h0"/><path stroke="#ff0057" d="M1293.4 838.0h0"/><path stroke="#ff0051" d="M1029.6 868.1h0"/><path stroke="#0087fa" d="M1074.7 846.8h0"/><path stroke="#008bfb" d="M1045.5 874.4h0"/><path stroke="#8b3cc0" d="M1313.5 831.8h0"/><path stroke="#c2009c" d="M1337.7 843.7h0"/><path stroke="#9135ba" d="M1308.0 832.4h0"/><path stroke="#ff0057" d="M1288.9 837.4h0"/><path stroke="#ff0051" d="M1039.5 798.6h0"/><path stroke="#a31daa" d="M1313.9 841.2h0"/><path stroke="#0074f0" d="M1318.6 843.0h0"/><path stroke="#962db3" d="M1336.4 829.3h0"/><path stroke="#008bfb" d="M1032.9 870.6h0M1065.4 859.3h0"/><path stroke="#ff0051" d="M1032.8 802.3h0"/><path stroke="#008bfb" d="M1041.0 872.5h0"/><path stroke="#b30aa3" d="M1357.6 834.9h0"/><path stroke="#8b3cc0" d="M1310.7 833.0h0"/><path stroke="#3b68e7" d="M1324.1 845.5h0"/><path stroke="#0087fa" d="M1071.6 849.3h0"/><path stroke="#008bfb" d="M1064.6 811.1h0"/><path stroke="#da008a" d="M1351.2 839.3h0"/><path stroke="#ff0051" d="M1044.9 797.9h0M1026.0 859.3h0"/><path stroke="#008bfb" d="M1039.8 799.2h0M1049.9 874.4h0"/><path stroke="#ff0051" d="M1003.8 836.1h0"/><path stroke="#b30aa3" d="M1347.9 840.5h0"/><path stroke="#0084f9" d="M1075.6 829.3h0"/><path stroke="#008bfb" d="M1065.1 858.7h0"/><path stroke="#0078f3" d="M1326.8 827.4h0"/><path stroke="#008bfb" d="M1063.3 810.5h0"/><path stroke="#6c54d6" d="M1320.3 828.6h0"/><path stroke="#ff0051" d="M1043.2 798.6h0"/><path stroke="#008bfb" d="M1063.1 862.5h0"/><path stroke="#ff0051" d="M1028.7 865.6h0M1124.3 836.1h0"/><path stroke="#ff0057" d="M1294.2 834.3h0"/><path stroke="#008bfb" d="M1019.0 821.7h0"/><path stroke="#ff0051" d="M1014.6 826.8h0"/><path stroke="#008bfb" d="M1047.5 797.9h0M1018.8 822.4h0M1018.1 823.0h0M1060.8 808.6h0"/><path stroke="#ff0051" d="M1027.1 860.6h0"/><path stroke="#0087fa" d="M1283.5 836.8h0"/><path stroke="#008bfb" d="M1032.3 870.0h0"/><path stroke="#754fd1" d="M1316.5 831.1h0"/><path stroke="#ff0051" d="M1014.7 845.5h0"/><path stroke="#008bfb" d="M1284.7 838.0h0M1018.4 850.6h0"/><path stroke="#9b23ad" d="M1308.7 840.5h0"/><path stroke="#008bfb" d="M1059.8 864.3h0"/><path stroke="#9b23ad" d="M1349.0 833.6h0"/><path stroke="#ff0051" d="M1008.1 834.9h0"/><path stroke="#c2009c" d="M1358.5 837.4h0"/><path stroke="#cf0093" d="M1351.3 833.6h0"/><path stroke="#a31daa" d="M1352.2 838.7h0"/><path stroke="#008bfb" d="M1220.4 836.1h0"/><path stroke="#ff0051" d="M1009.0 836.8h0"/><path stroke="#ff0057" d="M1302.9 834.3h0"/><path stroke="#c2009c" d="M1353.8 834.3h0"/><path stroke="#ff0051" d="M1016.4 846.2h0"/><path stroke="#0087fa" d="M1078.6 843.0h0"/><path stroke="#3b68e7" d="M1323.9 827.4h0"/><path stroke="#ff0057" d="M1290.9 835.5h0"/><path stroke="#ff0051" d="M1026.7 858.7h0"/><path stroke="#007cf5" d="M1328.1 845.5h0"/><path stroke="#3b68e7" d="M1320.6 844.3h0"/><path stroke="#ff0051" d="M1014.4 828.6h0M1299.0 838.0h0"/><path stroke="#0084f9" d="M1092.8 836.1h0"/><path stroke="#ff0051" d="M1028.7 804.8h0"/><path stroke="#962db3" d="M1306.9 833.6h0"/><path stroke="#008bfb" d="M1048.8 875.6h0"/><path stroke="#0087fa" d="M1075.3 845.5h0"/><path stroke="#ff0051" d="M1011.4 831.8h0"/><path stroke="#d5008f" d="M1357.2 835.5h0"/><path stroke="#0087fa" d="M1284.7 837.4h0"/><path stroke="#ff0051" d="M1021.7 854.9h0"/><path stroke="#008bfb" d="M1050.2 797.3h0M1052.2 801.1h0"/><path stroke="#a31daa" d="M1305.8 834.9h0"/><path stroke="#ff0051" d="M1297.4 837.4h0"/><path stroke="#da008a" d="M1354.2 836.1h0"/><path stroke="#008bfb" d="M1062.1 861.8h0"/><path stroke="#ff0057" d="M1286.7 835.5h0"/><path stroke="#ff0051" d="M1010.0 836.1h0"/><path stroke="#b30aa3" d="M1343.5 841.2h0"/><path stroke="#c80098" d="M1353.9 837.4h0"/><path stroke="#008bfb" d="M1049.4 875.0h0"/><path stroke="#6c54d6" d="M1328.2 844.3h0"/><path stroke="#b30aa3" d="M1350.5 838.0h0"/><path stroke="#008bfb" d="M1048.6 873.7h0M1017.8 824.2h0"/><path stroke="#ff0051" d="M1011.7 833.0h0"/><path stroke="#008bfb" d="M1018.5 824.9h0M1072.1 826.1h0"/><path stroke="#962db3" d="M1340.0 843.7h0"/><path stroke="#ff0051" d="M1018.2 848.7h0M1029.4 860.6h0"/><path stroke="#0080f7" d="M1323.5 829.3h0"/><path stroke="#008bfb" d="M1064.0 860.6h0"/><path stroke="#da008a" d="M1340.8 839.9h0"/><path stroke="#ff0051" d="M1025.6 854.3h0"/><path stroke="#cf0093" d="M1333.3 843.0h0"/><path stroke="#9135ba" d="M1304.9 835.5h0"/><path stroke="#008bfb" d="M1035.7 871.2h0M1035.4 867.5h0"/><path stroke="#0084f9" d="M1066.2 855.6h0"/><path stroke="#ff0051" d="M1024.9 849.3h0"/><path stroke="#236cea" d="M1322.4 829.9h0"/><path stroke="#008bfb" d="M1078.0 831.1h0M1038.8 867.5h0"/><path stroke="#c80098" d="M1351.6 836.8h0"/><path stroke="#ff0051" d="M1017.8 844.3h0"/><path stroke="#008bfb" d="M1074.8 843.7h0"/><path stroke="#ff0051" d="M1029.1 808.6h0"/><path stroke="#008bfb" d="M1061.4 861.2h0"/><path stroke="#a31daa" d="M1349.2 838.7h0"/><path stroke="#585edf" d="M1317.8 839.3h0"/><path stroke="#008bfb" d="M1042.7 870.0h0"/><path stroke="#0087fa" d="M1075.0 839.3h0"/><path stroke="#9b23ad" d="M1307.8 834.9h0"/><path stroke="#fe005c" d="M1300.2 835.5h0"/><path stroke="#ff0051" d="M1024.1 818.0h0"/><path stroke="#0084f9" d="M1076.0 838.7h0"/><path stroke="#008bfb" d="M1039.9 799.8h0"/><path stroke="#ff0051" d="M1042.7 865.0h0"/><path stroke="#008bfb" d="M1075.5 838.0h0"/><path stroke="#ff0057" d="M1298.0 836.8h0"/><path stroke="#0087fa" d="M1067.6 815.5h0"/><path stroke="#ff0051" d="M1021.4 826.1h0"/><path stroke="#0084f9" d="M1085.6 841.2h0"/><path stroke="#ff0051" d="M1040.2 857.5h0"/><path stroke="#008bfb" d="M1058.1 865.0h0"/><path stroke="#ff0051" d="M1056.0 863.1h0"/><path stroke="#a31daa" d="M1314.4 833.6h0"/><path stroke="#0087fa" d="M1089.4 838.0h0"/><path stroke="#008bfb" d="M1035.3 856.8h0"/><path stroke="#007cf5" d="M1328.5 843.7h0"/><path stroke="#008bfb" d="M1030.1 867.5h0M1044.1 799.2h0"/><path stroke="#9b23ad" d="M1348.5 839.9h0"/><path stroke="#ff0051" d="M1030.3 848.1h0"/><path stroke="#0087fa" d="M1068.7 848.7h0"/><path stroke="#008bfb" d="M1034.7 806.7h0"/><path stroke="#ff0051" d="M1027.0 856.8h0"/><path stroke="#ff0057" d="M1300.9 836.1h0"/><path stroke="#0087fa" d="M1084.6 831.8h0"/><path stroke="#008bfb" d="M1048.9 860.6h0"/><path stroke="#bb00a0" d="M1340.7 829.3h0"/><path stroke="#ff0051" d="M1026.5 843.0h0"/><path stroke="#008bfb" d="M1036.6 811.1h0"/><path stroke="#0087fa" d="M1093.9 836.1h0"/><path stroke="#962db3" d="M1330.5 827.4h0"/><path stroke="#008bfb" d="M1016.0 829.9h0"/><path stroke="#ff0051" d="M1024.0 819.9h0"/><path stroke="#008bfb" d="M1017.4 842.4h0"/><path stroke="#3b68e7" d="M1324.4 844.9h0"/><path stroke="#008bfb" d="M1066.5 819.2h0"/><path stroke="#bb00a0" d="M1345.7 838.7h0"/><path stroke="#0074f0" d="M1310.9 840.5h0"/><path stroke="#ff0051" d="M1025.3 813.6h0"/><path stroke="#0084f9" d="M1079.9 833.6h0"/><path stroke="#a31daa" d="M1332.4 831.1h0"/><path stroke="#ff0057" d="M1295.0 836.1h0"/><path stroke="#ab15a7" d="M1346.8 834.9h0"/><path stroke="#ff0051" d="M1030.6 843.0h0M1023.9 833.6h0"/><path stroke="#008bfb" d="M1063.4 838.0h0M1052.0 835.5h0M1049.8 866.2h0M1062.6 856.8h0M1046.6 825.5h0"/><path stroke="#ff0051" d="M1048.3 848.1h0"/><path stroke="#fe005c" d="M1286.3 834.9h0"/><path stroke="#ff0051" d="M1043.8 832.4h0"/><path stroke="#008bfb" d="M1046.1 811.1h0M1018.9 831.8h0"/><path stroke="#ff0051" d="M1035.1 839.9h0M1013.0 835.5h0"/><path stroke="#0087fa" d="M1071.8 839.9h0M1084.3 833.6h0"/><path stroke="#ff0051" d="M1039.7 849.3h0"/><path stroke="#008bfb" d="M1043.4 873.1h0"/><path stroke="#ff0051" d="M1062.0 854.3h0M1061.7 849.3h0M1059.9 810.5h0"/><path stroke="#0084f9" d="M1085.2 834.9h0"/><path stroke="#008bfb" d="M1065.9 821.1h0"/><path stroke="#ff0051" d="M1030.1 814.8h0"/><path stroke="#c2009c" d="M1345.0 833.0h0"/><path stroke="#0084f9" d="M1069.0 825.5h0"/><path stroke="#c80098" d="M1336.8 843.0h0"/><path stroke="#008bfb" d="M1078.5 831.8h0"/><path stroke="#ff0051" d="M1034.0 852.4h0"/><path stroke="#962db3" d="M1317.6 832.4h0"/><path stroke="#008bfb" d="M1051.9 870.6h0"/><path stroke="#da008a" d="M1334.9 831.8h0"/><path stroke="#ff0051" d="M1036.0 817.4h0"/><path stroke="#008bfb" d="M1060.3 811.7h0"/><path stroke="#ff0051" d="M1022.8 838.0h0"/><path stroke="#008bfb" d="M1053.7 805.5h0"/><path stroke="#9b23ad" d="M1321.6 833.6h0"/><path stroke="#da008a" d="M1332.8 841.2h0"/><path stroke="#ff0051" d="M1026.2 823.0h0M1043.0 813.0h0M1013.4 838.0h0M1046.7 799.2h0M1056.0 855.6h0M1043.4 839.9h0"/><path stroke="#008bfb" d="M1066.7 843.0h0"/><path stroke="#ff0051" d="M1014.6 843.7h0"/><path stroke="#0084f9" d="M1066.1 814.2h0"/><path stroke="#008bfb" d="M1048.0 855.6h0M1051.5 816.1h0"/><path stroke="#ff0051" d="M1033.8 862.5h0M1292.0 836.8h0"/><path stroke="#008bfb" d="M1037.6 830.5h0M1061.3 819.9h0"/><path stroke="#8b3cc0" d="M1305.0 838.7h0"/><path stroke="#ff0051" d="M1025.9 811.7h0"/><path stroke="#008bfb" d="M1065.6 850.6h0"/><path stroke="#ff0051" d="M1055.2 806.1h0"/><path stroke="#008bfb" d="M1047.6 841.8h0"/><path stroke="#0087fa" d="M1071.9 837.4h0"/><path stroke="#008bfb" d="M1067.6 854.3h0M1051.9 834.3h0M1052.1 826.8h0M1061.1 827.4h0"/><path stroke="#ff0051" d="M1025.8 817.4h0"/><path stroke="#008bfb" d="M1035.3 801.7h0M1050.9 871.9h0"/><path stroke="#ff0051" d="M1041.9 843.0h0"/><path stroke="#008bfb" d="M1066.9 828.0h0M1051.4 839.9h0"/><path stroke="#0078f3" d="M1019.2 707.8h0"/><path stroke="#0084f9" d="M1102.5 749.3h0"/><path stroke="#0078f3" d="M1142.9 687.0h0M1152.2 742.4h0"/><path stroke="#ff0057" d="M840.6 720.2h0"/><path stroke="#0084f9" d="M1257.0 729.9h0"/><path stroke="#f20072" d="M906.5 728.5h0"/><path stroke="#ff0051" d="M871.1 720.2h0"/><path stroke="#ee0077" d="M912.4 732.7h0"/><path stroke="#ff0057" d="M884.0 721.6h0"/><path stroke="#6359da" d="M1152.1 706.4h0"/><path stroke="#fe005c" d="M983.3 698.1h0"/><path stroke="#9b23ad" d="M1005.9 706.4h0"/><path stroke="#ff0051" d="M855.8 725.8h0"/><path stroke="#0084f9" d="M1248.8 714.7h0"/><path stroke="#ee0077" d="M916.4 734.1h0"/><path stroke="#e9007c" d="M929.6 707.8h0"/><path stroke="#0078f3" d="M1120.0 761.8h0"/><path stroke="#ee0077" d="M930.2 741.0h0"/><path stroke="#fc0062" d="M976.2 750.7h0"/><path stroke="#ff0057" d="M859.7 725.8h0"/><path stroke="#9b23ad" d="M1030.9 705.0h0"/><path stroke="#ff0051" d="M870.3 721.6h0"/><path stroke="#a31daa" d="M985.1 747.9h0"/><path stroke="#754fd1" d="M1040.0 702.2h0"/><path stroke="#0080f7" d="M1227.2 728.5h0"/><path stroke="#0074f0" d="M1075.5 705.0h0"/><path stroke="#ff0057" d="M808.1 725.8h0"/><path stroke="#0078f3" d="M1147.3 746.5h0"/><path stroke="#c2009c" d="M967.7 693.9h0"/><path stroke="#0070ed" d="M1004.5 739.6h0"/><path stroke="#f5006c" d="M912.4 731.3h0"/><path stroke="#008bfb" d="M1216.4 729.9h0"/><path stroke="#f20072" d="M901.3 725.8h0"/><path stroke="#0087fa" d="M1115.8 764.5h0"/><path stroke="#3b68e7" d="M1116.0 763.1h0"/><path stroke="#ff0057" d="M829.9 720.2h0"/><path stroke="#f20072" d="M895.4 721.6h0"/><path stroke="#fe005c" d="M850.0 725.8h0M867.9 727.2h0"/><path stroke="#0084f9" d="M1223.7 728.5h0"/><path stroke="#0087fa" d="M1194.5 724.4h0"/><path stroke="#6c54d6" d="M1145.4 749.3h0"/><path stroke="#ff0051" d="M831.6 725.8h0"/><path stroke="#cf0093" d="M974.2 753.4h0"/><path stroke="#8443c6" d="M1046.2 700.9h0"/><path stroke="#f20072" d="M925.6 709.2h0"/><path stroke="#0087fa" d="M1274.7 727.2h0"/><path stroke="#585edf" d="M1167.6 711.9h0"/><path stroke="#da008a" d="M933.8 743.8h0"/><path stroke="#ff0057" d="M818.7 721.6h0"/><path stroke="#c2009c" d="M986.8 746.5h0"/><path stroke="#0084f9" d="M1257.6 716.1h0"/><path stroke="#0087fa" d="M1232.1 718.8h0"/><path stroke="#0084f9" d="M1292.3 723.0h0"/><path stroke="#0080f7" d="M1267.9 729.9h0M1172.7 729.9h0"/><path stroke="#ff0057" d="M975.9 693.9h0"/><path stroke="#0084f9" d="M1141.9 754.8h0"/><path stroke="#f5006c" d="M909.3 713.3h0"/><path stroke="#ff0051" d="M812.5 725.8h0"/><path stroke="#f20072" d="M898.2 724.4h0"/><path stroke="#0084f9" d="M1255.4 731.3h0"/><path stroke="#6c54d6" d="M1100.2 699.5h0"/><path stroke="#ff0057" d="M828.7 721.6h0"/><path stroke="#0084f9" d="M1234.3 729.9h0"/><path stroke="#fc0062" d="M1023.2 709.2h0"/><path stroke="#ff0057" d="M821.2 724.4h0"/><path stroke="#ff0051" d="M803.6 724.4h0"/><path stroke="#0084f9" d="M1141.8 760.4h0"/><path stroke="#6359da" d="M1108.3 693.9h0"/><path stroke="#0080f7" d="M1108.7 754.8h0"/><path stroke="#da008a" d="M928.8 739.6h0"/><path stroke="#007cf5" d="M1140.8 759.0h0"/><path stroke="#0080f7" d="M1048.9 742.4h0"/><path stroke="#ff0051" d="M813.5 720.2h0"/><path stroke="#ff0057" d="M866.3 725.8h0"/><path stroke="#4b63e3" d="M1107.2 753.4h0"/><path stroke="#e50081" d="M929.1 738.2h0"/><path stroke="#0080f7" d="M1229.9 727.2h0"/><path stroke="#0087fa" d="M1322.6 723.0h0"/><path stroke="#007cf5" d="M1041.2 745.1h0M1132.8 761.8h0"/><path stroke="#0078f3" d="M1158.2 735.5h0"/><path stroke="#236cea" d="M1037.5 703.6h0"/><path stroke="#ff0057" d="M808.1 721.6h0"/><path stroke="#007cf5" d="M1137.0 685.6h0M1064.0 739.6h0"/><path stroke="#ff0057" d="M850.3 724.4h0"/><path stroke="#0084f9" d="M1268.4 727.2h0"/><path stroke="#0087fa" d="M1216.9 718.8h0"/><path stroke="#0078f3" d="M1068.0 741.0h0"/><path stroke="#0080f7" d="M1207.6 725.8h0"/><path stroke="#a31daa" d="M952.9 753.4h0"/><path stroke="#e00086" d="M924.3 738.2h0"/><path stroke="#0078f3" d="M1161.6 735.5h0"/><path stroke="#585edf" d="M1169.4 732.7h0"/><path stroke="#fe005c" d="M865.4 724.4h0"/><path stroke="#6359da" d="M1146.9 699.5h0"/><path stroke="#962db3" d="M1068.4 739.6h0"/><path stroke="#008bfb" d="M1275.9 720.2h0"/><path stroke="#0078f3" d="M1045.2 702.2h0"/><path stroke="#585edf" d="M1156.6 710.5h0"/><path stroke="#f90067" d="M900.7 721.6h0"/><path stroke="#a31daa" d="M1009.6 705.0h0"/><path stroke="#0084f9" d="M1241.4 716.1h0"/><path stroke="#007cf5" d="M1102.4 699.5h0"/><path stroke="#ff0051" d="M871.1 725.8h0"/><path stroke="#6359da" d="M1144.5 698.1h0"/><path stroke="#0080f7" d="M1082.1 746.5h0"/><path stroke="#6359da" d="M1112.5 687.0h0"/><path stroke="#0080f7" d="M1256.5 717.5h0"/><path stroke="#008bfb" d="M1280.5 721.6h0"/><path stroke="#0087fa" d="M1214.8 725.8h0"/><path stroke="#0084f9" d="M1260.7 727.2h0"/><path stroke="#008bfb" d="M1184.2 721.6h0"/><path stroke="#0074f0" d="M1019.3 738.2h0"/><path stroke="#0087fa" d="M1206.2 720.2h0"/><path stroke="#0084f9" d="M1165.5 735.5h0"/><path stroke="#0070ed" d="M1012.5 742.4h0"/><path stroke="#0078f3" d="M1122.9 759.0h0"/><path stroke="#0080f7" d="M1207.1 721.6h0"/><path stroke="#e50081" d="M921.6 736.8h0"/><path stroke="#0080f7" d="M1215.5 721.6h0"/><path stroke="#007cf5" d="M1096.5 746.5h0"/><path stroke="#4b63e3" d="M1142.2 696.7h0"/><path stroke="#ff0057" d="M880.4 720.2h0"/><path stroke="#754fd1" d="M1164.6 710.5h0"/><path stroke="#ee0077" d="M905.8 727.2h0"/><path stroke="#0080f7" d="M1137.2 760.4h0M1240.3 718.8h0"/><path stroke="#962db3" d="M1027.9 736.8h0"/><path stroke="#0084f9" d="M1218.8 724.4h0"/><path stroke="#ff0057" d="M993.0 742.4h0"/><path stroke="#0080f7" d="M1089.6 752.1h0"/><path stroke="#6c54d6" d="M1103.1 700.9h0"/><path stroke="#8b3cc0" d="M1048.3 705.0h0"/><path stroke="#3b68e7" d="M1094.8 699.5h0"/><path stroke="#585edf" d="M1090.7 695.3h0"/><path stroke="#ff0057" d="M863.5 721.6h0"/><path stroke="#236cea" d="M1093.4 700.9h0"/><path stroke="#0084f9" d="M1299.2 723.0h0"/><path stroke="#0080f7" d="M1202.9 725.8h0"/><path stroke="#0084f9" d="M1197.8 725.8h0"/><path stroke="#ff0057" d="M843.3 727.2h0"/><path stroke="#4b63e3" d="M1098.5 700.9h0"/><path stroke="#008bfb" d="M1282.9 725.8h0"/><path stroke="#0087fa" d="M1250.5 716.1h0"/><path stroke="#e50081" d="M921.4 709.2h0"/><path stroke="#4b63e3" d="M1110.1 691.2h0"/><path stroke="#007cf5" d="M1075.5 742.4h0"/><path stroke="#754fd1" d="M1064.5 706.4h0"/><path stroke="#a31daa" d="M995.3 739.6h0"/><path stroke="#0084f9" d="M1179.5 720.2h0"/><path stroke="#ee0077" d="M910.7 714.7h0"/><path stroke="#0084f9" d="M1181.0 724.4h0"/><path stroke="#da008a" d="M934.9 742.4h0"/><path stroke="#0074f0" d="M1137.2 687.0h0"/><path stroke="#0084f9" d="M1204.9 723.0h0"/><path stroke="#0087fa" d="M1275.9 725.8h0"/><path stroke="#f20072" d="M909.8 716.1h0"/><path stroke="#fe005c" d="M843.8 725.8h0"/><path stroke="#ff0057" d="M819.9 724.4h0"/><path stroke="#8b3cc0" d="M1007.6 707.8h0"/><path stroke="#e00086" d="M934.5 702.2h0M979.9 746.5h0"/><path stroke="#e9007c" d="M935.7 745.1h0"/><path stroke="#8b3cc0" d="M982.7 745.1h0"/><path stroke="#6359da" d="M1114.6 681.5h0"/><path stroke="#3b68e7" d="M1098.4 745.1h0"/><path stroke="#8443c6" d="M1047.3 703.6h0"/><path stroke="#ff0051" d="M882.1 721.6h0"/><path stroke="#0074f0" d="M1123.7 757.6h0"/><path stroke="#8b3cc0" d="M975.3 696.7h0"/><path stroke="#ee0077" d="M933.7 705.0h0"/><path stroke="#a31daa" d="M1011.6 703.6h0"/><path stroke="#007cf5" d="M1105.8 746.5h0"/><path stroke="#6359da" d="M1144.3 747.9h0"/><path stroke="#007cf5" d="M1058.9 709.2h0"/><path stroke="#8b3cc0" d="M968.5 695.3h0"/><path stroke="#d5008f" d="M920.7 735.5h0"/><path stroke="#0084f9" d="M1115.4 760.4h0"/><path stroke="#0080f7" d="M1081.6 742.4h0"/><path stroke="#ff0057" d="M989.6 745.1h0"/><path stroke="#0087fa" d="M1271.3 725.8h0"/><path stroke="#ff0057" d="M863.0 723.0h0"/><path stroke="#f5006c" d="M905.1 717.5h0"/><path stroke="#7d49cb" d="M1021.2 736.8h0"/><path stroke="#ab15a7" d="M985.7 699.5h0"/><path stroke="#8443c6" d="M1039.2 705.0h0"/><path stroke="#c80098" d="M967.1 753.4h0"/><path stroke="#0080f7" d="M1106.0 702.2h0"/><path stroke="#008bfb" d="M1238.8 729.9h0"/><path stroke="#6c54d6" d="M1165.2 713.3h0"/><path stroke="#0087fa" d="M1269.4 724.4h0"/><path stroke="#7d49cb" d="M1051.4 738.2h0"/><path stroke="#f5006c" d="M892.7 725.8h0"/><path stroke="#ff0051" d="M827.9 725.8h0"/><path stroke="#e9007c" d="M972.9 695.3h0"/><path stroke="#ee0077" d="M937.0 743.8h0"/><path stroke="#ff0051" d="M835.7 721.6h0"/><path stroke="#fc0062" d="M1012.0 741.0h0"/><path stroke="#fe005c" d="M980.8 698.1h0"/><path stroke="#3b68e7" d="M1093.3 702.2h0"/><path stroke="#0084f9" d="M1076.2 705.0h0"/><path stroke="#3b68e7" d="M1078.0 709.2h0"/><path stroke="#0074f0" d="M1153.9 736.8h0"/><path stroke="#0087fa" d="M1288.7 725.8h0"/><path stroke="#fe005c" d="M837.3 725.8h0"/><path stroke="#a31daa" d="M993.5 741.0h0"/><path stroke="#0084f9" d="M1176.3 724.4h0"/><path stroke="#0087fa" d="M1298.7 723.0h0"/><path stroke="#962db3" d="M1043.2 706.4h0"/><path stroke="#e50081" d="M916.9 713.3h0"/><path stroke="#c2009c" d="M977.0 703.6h0"/><path stroke="#0087fa" d="M1217.6 728.5h0"/><path stroke="#008bfb" d="M1226.0 727.2h0"/><path stroke="#8b3cc0" d="M1043.4 732.7h0"/><path stroke="#585edf" d="M1084.2 699.5h0"/><path stroke="#ff0057" d="M837.5 721.6h0"/><path stroke="#9135ba" d="M983.1 703.6h0"/><path stroke="#008bfb" d="M1250.3 731.3h0"/><path stroke="#0074f0" d="M1149.1 703.6h0"/><path stroke="#9b23ad" d="M1050.7 731.3h0"/><path stroke="#ff0057" d="M995.3 703.6h0"/><path stroke="#0084f9" d="M1173.0 713.3h0"/><path stroke="#4b63e3" d="M1104.0 732.7h0"/><path stroke="#0084f9" d="M1098.5 742.4h0"/><path stroke="#3b68e7" d="M1084.3 729.9h0"/><path stroke="#007cf5" d="M1059.9 714.7h0"/><path stroke="#ff0057" d="M829.1 723.0h0"/><path stroke="#585edf" d="M1153.1 709.2h0"/><path stroke="#007cf5" d="M1116.0 753.4h0"/><path stroke="#da008a" d="M966.2 738.2h0"/><path stroke="#008bfb" d="M1231.8 727.2h0"/><path stroke="#585edf" d="M1150.7 705.0h0"/><path stroke="#8443c6" d="M1025.8 709.2h0"/><path stroke="#ff0057" d="M859.6 724.4h0"/><path stroke="#0087fa" d="M1201.7 724.4h0"/><path stroke="#007cf5" d="M1105.6 741.0h0"/><path stroke="#a31daa" d="M1007.4 711.9h0"/><path stroke="#da008a" d="M918.9 732.7h0"/><path stroke="#ff0057" d="M860.9 720.2h0"/><path stroke="#0078f3" d="M1117.2 682.9h0"/><path stroke="#d5008f" d="M926.0 710.5h0"/><path stroke="#585edf" d="M1148.9 707.8h0"/><path stroke="#0084f9" d="M1272.2 718.8h0"/><path stroke="#0087fa" d="M1248.2 729.9h0"/><path stroke="#f90067" d="M910.0 729.9h0"/><path stroke="#6c54d6" d="M1086.5 714.7h0"/><path stroke="#3b68e7" d="M1134.7 731.3h0"/><path stroke="#007cf5" d="M1139.4 710.5h0"/><path stroke="#0084f9" d="M1140.9 689.8h0"/><path stroke="#fe005c" d="M874.9 724.4h0"/><path stroke="#008bfb" d="M1224.1 717.5h0"/><path stroke="#6359da" d="M1088.4 698.1h0"/><path stroke="#0087fa" d="M1171.0 731.3h0"/><path stroke="#fc0062" d="M988.1 746.5h0"/><path stroke="#7d49cb" d="M1046.7 706.4h0"/><path stroke="#ff0051" d="M823.7 721.6h0"/><path stroke="#8b3cc0" d="M961.3 724.4h0"/><path stroke="#f90067" d="M893.3 721.6h0"/><path stroke="#0080f7" d="M1236.3 717.5h0"/><path stroke="#007cf5" d="M1128.0 750.7h0"/><path stroke="#ff0057" d="M854.0 724.4h0"/><path stroke="#0080f7" d="M1130.1 720.2h0M1068.9 731.3h0"/><path stroke="#a31daa" d="M992.4 699.5h0"/><path stroke="#0080f7" d="M1255.5 728.5h0"/><path stroke="#f90067" d="M992.8 705.0h0M1011.0 713.3h0"/><path stroke="#585edf" d="M1162.4 713.3h0"/><path stroke="#da008a" d="M937.8 700.9h0"/><path stroke="#0078f3" d="M1087.6 699.5h0"/><path stroke="#0084f9" d="M1183.6 725.8h0"/><path stroke="#a31daa" d="M955.8 734.1h0"/><path stroke="#0080f7" d="M1122.4 685.6h0"/><path stroke="#ff0057" d="M965.3 743.8h0"/><path stroke="#8b3cc0" d="M1035.9 728.5h0"/><path stroke="#0087fa" d="M1191.4 721.6h0"/><path stroke="#6359da" d="M1090.1 705.0h0M1090.2 703.6h0"/><path stroke="#9135ba" d="M1067.9 705.0h0"/><path stroke="#fe005c" d="M810.3 724.4h0"/><path stroke="#0087fa" d="M1172.0 725.8h0"/><path stroke="#ff0057" d="M846.6 721.6h0"/><path stroke="#0084f9" d="M1256.5 718.8h0"/><path stroke="#0087fa" d="M1173.6 716.1h0"/><path stroke="#ff0057" d="M832.4 723.0h0"/><path stroke="#8b3cc0" d="M1040.9 736.8h0"/><path stroke="#008bfb" d="M1259.1 724.4h0"/><path stroke="#ff0057" d="M881.6 727.2h0"/><path stroke="#0078f3" d="M1156.1 724.4h0"/><path stroke="#3b68e7" d="M1117.4 754.8h0"/><path stroke="#008bfb" d="M1226.1 720.2h0"/><path stroke="#0074f0" d="M1128.7 743.8h0"/><path stroke="#0080f7" d="M1156.3 734.1h0M1266.7 716.1h0"/><path stroke="#6c54d6" d="M1125.1 741.0h0"/><path stroke="#0078f3" d="M1059.9 738.2h0"/><path stroke="#fe005c" d="M965.1 717.5h0"/><path stroke="#6c54d6" d="M1111.8 703.6h0"/><path stroke="#3b68e7" d="M1106.2 711.9h0"/><path stroke="#e9007c" d="M987.0 710.5h0"/><path stroke="#fe005c" d="M852.1 720.2h0"/><path stroke="#4b63e3" d="M1159.9 711.9h0"/><path stroke="#f5006c" d="M913.7 718.8h0"/><path stroke="#0074f0" d="M1006.5 714.7h0"/><path stroke="#007cf5" d="M1119.6 760.4h0"/><path stroke="#9b23ad" d="M1038.9 742.4h0"/><path stroke="#0084f9" d="M1227.8 725.8h0"/><path stroke="#f20072" d="M941.4 698.1h0"/><path stroke="#9135ba" d="M1009.4 718.8h0"/><path stroke="#0080f7" d="M1265.8 727.2h0"/><path stroke="#da008a" d="M937.4 702.2h0"/><path stroke="#e00086" d="M968.7 742.4h0"/><path stroke="#e50081" d="M951.6 731.3h0"/><path stroke="#e00086" d="M977.7 723.0h0"/><path stroke="#585edf" d="M1077.8 716.1h0"/><path stroke="#007cf5" d="M1046.5 745.1h0"/><path stroke="#f20072" d="M915.1 727.2h0"/><path stroke="#8443c6" d="M954.7 738.2h0"/><path stroke="#0080f7" d="M1160.0 720.2h0"/><path stroke="#fe005c" d="M871.1 724.4h0"/><path stroke="#0080f7" d="M1289.1 724.4h0"/><path stroke="#0074f0" d="M1044.4 743.8h0M1125.9 714.7h0"/><path stroke="#9135ba" d="M1032.8 706.4h0"/><path stroke="#4b63e3" d="M1140.0 692.6h0"/><path stroke="#0080f7" d="M1138.9 688.4h0"/><path stroke="#ff0057" d="M957.9 706.4h0"/><path stroke="#0080f7" d="M1109.2 732.7h0"/><path stroke="#0078f3" d="M1092.6 705.0h0M1046.0 718.8h0"/><path stroke="#ee0077" d="M940.5 706.4h0"/><path stroke="#d5008f" d="M974.3 705.0h0"/><path stroke="#0084f9" d="M1220.8 717.5h0"/><path stroke="#585edf" d="M1166.3 716.1h0"/><path stroke="#236cea" d="M1083.8 700.9h0"/><path stroke="#0080f7" d="M1085.4 703.6h0"/><path stroke="#007cf5" d="M1134.9 754.8h0M1093.1 742.4h0"/><path stroke="#0084f9" d="M1233.7 723.0h0"/><path stroke="#0080f7" d="M1194.1 723.0h0"/><path stroke="#8b3cc0" d="M958.4 747.9h0"/><path stroke="#0078f3" d="M1047.0 709.2h0"/><path stroke="#6c54d6" d="M1111.8 747.9h0"/><path stroke="#fc0062" d="M911.6 720.2h0"/><path stroke="#4b63e3" d="M1088.9 750.7h0"/><path stroke="#c80098" d="M972.2 735.5h0"/><path stroke="#d5008f" d="M935.6 706.4h0"/><path stroke="#8443c6" d="M954.4 752.1h0"/><path stroke="#6359da" d="M1167.1 731.3h0"/><path stroke="#0080f7" d="M1094.2 745.1h0"/><path stroke="#7d49cb" d="M1045.6 713.3h0"/><path stroke="#8443c6" d="M1022.5 713.3h0"/><path stroke="#0087fa" d="M1267.5 725.8h0"/><path stroke="#ff0057" d="M889.6 723.0h0"/><path stroke="#8b3cc0" d="M1029.8 725.8h0"/><path stroke="#9b23ad" d="M984.8 705.0h0M963.7 720.2h0"/><path stroke="#0084f9" d="M1188.3 721.6h0"/><path stroke="#236cea" d="M1098.5 705.0h0"/><path stroke="#007cf5" d="M1124.8 699.5h0"/><path stroke="#0080f7" d="M1132.9 684.2h0"/><path stroke="#0078f3" d="M1128.6 693.9h0"/><path stroke="#ff0051" d="M843.7 720.2h0"/><path stroke="#f20072" d="M906.9 721.6h0"/><path stroke="#236cea" d="M1027.5 735.5h0"/><path stroke="#0078f3" d="M1003.7 710.5h0"/><path stroke="#9b23ad" d="M1058.1 718.8h0"/><path stroke="#0084f9" d="M1140.9 716.1h0"/><path stroke="#d5008f" d="M926.1 736.8h0"/><path stroke="#c2009c" d="M999.2 725.8h0"/><path stroke="#9135ba" d="M965.0 713.3h0"/><path stroke="#8443c6" d="M1021.7 710.5h0"/><path stroke="#d5008f" d="M926.3 713.3h0"/><path stroke="#ff0057" d="M872.8 723.0h0"/><path stroke="#007cf5" d="M1012.3 727.2h0"/><path stroke="#9b23ad" d="M1027.2 727.2h0"/><path stroke="#ff0051" d="M951.1 696.7h0"/><path stroke="#ff0057" d="M811.5 721.6h0"/><path stroke="#9135ba" d="M1066.4 720.2h0"/><path stroke="#4b63e3" d="M1096.3 713.3h0"/><path stroke="#c80098" d="M973.7 732.7h0"/><path stroke="#007cf5" d="M1125.7 696.7h0"/><path stroke="#0087fa" d="M1095.8 728.5h0"/><path stroke="#0080f7" d="M1044.3 710.5h0"/><path stroke="#8b3cc0" d="M991.4 728.5h0"/><path stroke="#585edf" d="M1106.2 720.2h0"/><path stroke="#e00086" d="M948.6 739.6h0"/><path stroke="#fe005c" d="M819.5 723.0h0"/><path stroke="#6c54d6" d="M1130.4 734.1h0"/><path stroke="#0084f9" d="M1120.7 688.4h0"/><path stroke="#9b23ad" d="M1057.2 720.2h0"/><path stroke="#0080f7" d="M1187.7 724.4h0"/><path stroke="#8443c6" d="M1068.2 711.9h0"/><path stroke="#e50081" d="M977.1 738.2h0"/><path stroke="#7d49cb" d="M1071.6 713.3h0"/><path stroke="#d5008f" d="M936.5 736.8h0"/><path stroke="#0084f9" d="M1175.8 727.2h0"/><path stroke="#0078f3" d="M1149.6 714.7h0"/><path stroke="#585edf" d="M1131.6 707.8h0"/><path stroke="#962db3" d="M995.7 711.9h0"/><path stroke="#0078f3" d="M1111.5 741.0h0"/><path stroke="#e9007c" d="M919.4 729.9h0"/><path stroke="#585edf" d="M1085.6 728.5h0"/><path stroke="#ff0057" d="M992.1 741.0h0"/><path stroke="#9135ba" d="M1053.5 724.4h0M1055.4 731.3h0"/><path stroke="#0080f7" d="M1124.2 718.8h0"/><path stroke="#236cea" d="M1104.6 725.8h0"/><path stroke="#0078f3" d="M1004.3 718.8h0"/><path stroke="#007cf5" d="M1156.0 716.1h0"/><path stroke="#a31daa" d="M999.2 710.5h0"/><path stroke="#236cea" d="M1085.3 720.2h0"/><path stroke="#962db3" d="M971.6 728.5h0"/><path stroke="#0087fa" d="M1240.7 723.0h0"/><path stroke="#0074f0" d="M1114.8 684.2h0"/><path stroke="#9135ba" d="M1033.6 741.0h0"/><path stroke="#0084f9" d="M1141.0 756.2h0"/><path stroke="#0087fa" d="M1273.8 721.6h0"/><path stroke="#0074f0" d="M1122.7 738.2h0"/><path stroke="#0078f3" d="M1060.1 729.9h0"/><path stroke="#fc0062" d="M942.4 709.2h0"/><path stroke="#0084f9" d="M1264.9 723.0h0"/><path stroke="#0080f7" d="M1139.9 700.9h0"/><path stroke="#fe005c" d="M996.0 709.2h0"/><path stroke="#0084f9" d="M1288.0 723.0h0"/><path stroke="#a31daa" d="M953.3 743.8h0"/><path stroke="#8443c6" d="M951.8 747.9h0M1037.4 706.4h0"/><path stroke="#007cf5" d="M1042.7 711.9h0"/><path stroke="#e50081" d="M968.3 705.0h0"/><path stroke="#d5008f" d="M992.0 734.1h0"/><path stroke="#008bfb" d="M1172.4 714.7h0"/><path stroke="#6c54d6" d="M1147.3 745.1h0"/><path stroke="#0074f0" d="M1016.2 735.5h0"/><path stroke="#0078f3" d="M1044.1 734.1h0M1139.1 743.8h0"/><path stroke="#0074f0" d="M1018.0 714.7h0"/><path stroke="#0078f3" d="M1013.4 720.2h0"/><path stroke="#8b3cc0" d="M995.2 738.2h0"/><path stroke="#ff0057" d="M943.1 746.5h0"/><path stroke="#0080f7" d="M1284.7 721.6h0"/><path stroke="#fe005c" d="M990.6 736.8h0M876.2 721.6h0"/><path stroke="#0084f9" d="M1143.0 747.9h0"/><path stroke="#007cf5" d="M1116.8 752.1h0M1122.3 696.7h0"/><path stroke="#fe005c" d="M804.4 721.6h0"/><path stroke="#9135ba" d="M1003.3 736.8h0"/><path stroke="#0087fa" d="M1145.6 717.5h0"/><path stroke="#f20072" d="M920.1 711.9h0"/><path stroke="#9b23ad" d="M986.4 723.0h0"/><path stroke="#e50081" d="M944.9 711.9h0"/><path stroke="#0078f3" d="M1125.9 691.2h0"/><path stroke="#fe005c" d="M936.5 739.6h0"/><path stroke="#6c54d6" d="M1136.2 738.2h0"/><path stroke="#9b23ad" d="M1069.6 706.4h0"/><path stroke="#4b63e3" d="M1143.2 731.3h0"/><path stroke="#ff0051" d="M945.9 702.2h0"/><path stroke="#f5006c" d="M914.0 725.8h0"/><path stroke="#007cf5" d="M1115.0 728.5h0"/><path stroke="#0084f9" d="M1110.0 692.6h0"/><path stroke="#6359da" d="M1147.0 723.0h0"/><path stroke="#007cf5" d="M1139.1 757.6h0"/><path stroke="#fe005c" d="M976.3 746.5h0"/><path stroke="#4b63e3" d="M1127.9 728.5h0"/><path stroke="#9135ba" d="M1028.7 718.8h0"/><path stroke="#c80098" d="M984.0 729.9h0"/><path stroke="#9135ba" d="M956.1 716.1h0"/><path stroke="#c2009c" d="M966.1 698.1h0"/><path stroke="#0078f3" d="M1140.0 720.2h0"/><path stroke="#e9007c" d="M979.1 718.8h0"/><path stroke="#3b68e7" d="M1107.8 720.2h0"/><path stroke="#0080f7" d="M1069.8 735.5h0"/><path stroke="#e50081" d="M971.6 752.1h0"/><path stroke="#0080f7" d="M1092.2 739.6h0"/><path stroke="#754fd1" d="M1127.2 729.9h0"/><path stroke="#007cf5" d="M1096.7 718.8h0"/><path stroke="#fe005c" d="M1019.2 734.1h0"/><path stroke="#c80098" d="M971.0 700.9h0"/><path stroke="#0087fa" d="M1197.8 721.6h0"/><path stroke="#e50081" d="M946.9 714.7h0"/><path stroke="#e00086" d="M945.5 716.1h0"/><path stroke="#e50081" d="M933.1 720.2h0"/><path stroke="#0084f9" d="M1225.4 724.4h0"/><path stroke="#fc0062" d="M903.0 723.0h0"/><path stroke="#0078f3" d="M1129.9 756.2h0"/><path stroke="#c80098" d="M954.1 693.9h0"/><path stroke="#6c54d6" d="M1093.3 717.5h0"/><path stroke="#fc0062" d="M989.0 720.2h0"/><path stroke="#0080f7" d="M1284.4 724.4h0"/><path stroke="#6359da" d="M1148.3 724.4h0"/><path stroke="#0078f3" d="M1041.1 714.7h0"/><path stroke="#8443c6" d="M1053.5 710.5h0"/><path stroke="#0084f9" d="M1250.2 717.5h0"/><path stroke="#ee0077" d="M943.5 728.5h0"/><path stroke="#0084f9" d="M1117.0 706.4h0"/><path stroke="#e9007c" d="M933.9 710.5h0"/><path stroke="#0087fa" d="M1111.6 711.9h0"/><path stroke="#ee0077" d="M923.0 716.1h0"/><path stroke="#585edf" d="M1116.3 717.5h0"/><path stroke="#0084f9" d="M1076.1 727.2h0"/><path stroke="#e50081" d="M942.5 721.6h0"/><path stroke="#008bfb" d="M1241.9 720.2h0"/><path stroke="#0084f9" d="M1087.0 746.5h0"/><path stroke="#0074f0" d="M1119.5 756.2h0"/><path stroke="#fc0062" d="M943.8 749.3h0"/><path stroke="#ff0057" d="M884.3 724.4h0"/><path stroke="#0074f0" d="M1010.8 721.6h0"/><path stroke="#f20072" d="M930.4 735.5h0"/><path stroke="#0080f7" d="M1113.2 749.3h0"/><path stroke="#fe005c" d="M926.8 729.9h0"/><path stroke="#0078f3" d="M1042.2 718.8h0"/><path stroke="#ff0057" d="M1012.2 725.8h0M966.7 747.9h0"/><path stroke="#8b3cc0" d="M1014.0 728.5h0"/><path stroke="#754fd1" d="M1133.4 709.2h0"/><path stroke="#fe005c" d="M962.3 699.5h0"/><path stroke="#e00086" d="M926.5 720.2h0"/><path stroke="#da008a" d="M948.6 727.2h0"/><path stroke="#8443c6" d="M1028.2 725.8h0"/><path stroke="#9b23ad" d="M1015.1 723.0h0"/><path stroke="#0078f3" d="M1111.5 710.5h0M1129.4 742.4h0"/><path stroke="#ff0051" d="M875.0 723.0h0"/><path stroke="#4b63e3" d="M1084.6 724.4h0"/><path stroke="#6c54d6" d="M1105.1 729.9h0"/><path stroke="#3b68e7" d="M1078.1 741.0h0"/><path stroke="#d5008f" d="M930.6 724.4h0"/><path stroke="#ff0051" d="M929.7 725.8h0"/><path stroke="#0080f7" d="M1118.0 698.1h0"/><path stroke="#3b68e7" d="M1089.9 738.2h0"/><path stroke="#6359da" d="M1148.7 738.2h0"/><path stroke="#ee0077" d="M932.4 727.2h0"/><path stroke="#e50081" d="M975.8 710.5h0"/><path stroke="#0084f9" d="M1056.1 736.8h0"/><path stroke="#0078f3" d="M1111.3 706.4h0"/><path stroke="#962db3" d="M962.8 727.2h0"/><path stroke="#9135ba" d="M1035.4 738.2h0"/><path stroke="#0087fa" d="M1247.0 724.4h0"/><path stroke="#008bfb" d="M767.7 611.5h0"/><path stroke="#ff0051" d="M1167.0 587.9h0"/><path stroke="#0087fa" d="M785.6 611.0h0"/><path stroke="#ff0057" d="M1131.0 581.2h0"/><path stroke="#ff0051" d="M1157.6 651.4h0"/><path stroke="#008bfb" d="M622.9 609.1h0"/><path stroke="#0087fa" d="M1334.3 608.9h0"/><path stroke="#008bfb" d="M1405.8 609.1h0"/><path stroke="#0087fa" d="M1355.1 608.9h0"/><path stroke="#fe005c" d="M1385.2 610.6h0"/><path stroke="#008bfb" d="M804.1 610.6h0"/><path stroke="#6359da" d="M1478.7 608.9h0"/><path stroke="#ff0051" d="M1151.3 652.2h0"/><path stroke="#0087fa" d="M606.1 608.9h0"/><path stroke="#008bfb" d="M674.8 613.4h0"/><path stroke="#0087fa" d="M689.2 606.5h0"/><path stroke="#008bfb" d="M680.7 613.0h0"/><path stroke="#0084f9" d="M1348.9 610.6h0"/><path stroke="#008bfb" d="M609.6 610.8h0"/><path stroke="#0087fa" d="M648.1 608.7h0"/><path stroke="#ff0057" d="M1112.0 608.9h0"/><path stroke="#0084f9" d="M1330.7 610.6h0"/><path stroke="#008bfb" d="M1401.9 608.9h0"/><path stroke="#ff0057" d="M1111.4 609.4h0"/><path stroke="#c80098" d="M1503.3 610.8h0"/><path stroke="#ff0051" d="M1146.1 650.0h0"/><path stroke="#008bfb" d="M693.7 605.8h0M737.0 605.1h0M714.5 604.1h0"/><path stroke="#0087fa" d="M1357.2 610.6h0"/><path stroke="#008bfb" d="M1292.0 609.9h0M676.0 613.2h0"/><path stroke="#cf0093" d="M1501.2 609.1h0"/><path stroke="#ff0051" d="M1112.4 609.1h0"/><path stroke="#008bfb" d="M787.6 609.1h0M640.3 611.5h0"/><path stroke="#0087fa" d="M1367.0 610.6h0"/><path stroke="#f20072" d="M1458.8 610.8h0"/><path stroke="#ff0057" d="M1150.0 651.0h0"/><path stroke="#008bfb" d="M666.2 612.2h0M778.9 611.3h0"/><path stroke="#0087fa" d="M598.6 608.9h0"/><path stroke="#ff0051" d="M1167.2 630.4h0M1177.6 609.1h0"/><path stroke="#ff0057" d="M1167.3 625.9h0"/><path stroke="#0084f9" d="M1361.8 610.8h0"/><path stroke="#0087fa" d="M1429.3 609.1h0"/><path stroke="#008bfb" d="M702.7 605.1h0M703.3 605.3h0M631.7 609.1h0M596.6 610.1h0"/><path stroke="#0087fa" d="M755.0 606.7h0"/><path stroke="#ff0051" d="M1167.1 583.6h0"/><path stroke="#ff0057" d="M1167.0 631.8h0"/><path stroke="#ff0051" d="M1164.9 642.6h0"/><path stroke="#0084f9" d="M1327.4 609.1h0"/><path stroke="#0087fa" d="M599.0 609.1h0"/><path stroke="#008bfb" d="M669.6 612.7h0"/><path stroke="#ff0057" d="M1130.9 590.5h0"/><path stroke="#008bfb" d="M655.3 611.5h0"/><path stroke="#ff0057" d="M1174.7 600.8h0"/><path stroke="#0087fa" d="M669.2 612.5h0M684.2 606.3h0"/><path stroke="#f5006c" d="M1466.9 609.1h0"/><path stroke="#0087fa" d="M1325.8 610.8h0M1399.5 609.4h0M1403.6 609.6h0M603.8 610.6h0"/><path stroke="#0084f9" d="M1324.6 610.3h0"/><path stroke="#0087fa" d="M1344.5 610.8h0"/><path stroke="#ff0051" d="M1178.0 611.3h0"/><path stroke="#0087fa" d="M1400.6 610.6h0"/><path stroke="#008bfb" d="M775.6 610.8h0"/><path stroke="#e9007c" d="M1448.5 610.8h0"/><path stroke="#0087fa" d="M1341.0 610.6h0M764.7 607.2h0M645.7 608.9h0M1356.2 609.9h0"/><path stroke="#ff0051" d="M1140.5 649.8h0"/><path stroke="#0084f9" d="M1342.5 609.1h0"/><path stroke="#0087fa" d="M627.4 610.8h0"/><path stroke="#ff0057" d="M1155.0 651.9h0"/><path stroke="#6359da" d="M1489.8 610.8h0"/><path stroke="#008bfb" d="M1442.4 609.4h0"/><path stroke="#0087fa" d="M815.0 609.4h0"/><path stroke="#008bfb" d="M642.5 611.3h0"/><path stroke="#0087fa" d="M649.8 609.1h0"/><path stroke="#008bfb" d="M735.9 614.4h0M713.2 615.8h0"/><path stroke="#0087fa" d="M636.3 608.9h0M1328.2 610.1h0"/><path stroke="#ff0051" d="M1140.2 569.9h0"/><path stroke="#0087fa" d="M1402.8 610.8h0M1358.9 609.1h0"/><path stroke="#008bfb" d="M676.4 612.5h0"/><path stroke="#ff0051" d="M1174.1 619.2h0"/><path stroke="#0087fa" d="M1413.0 608.9h0"/><path stroke="#008bfb" d="M779.7 608.4h0"/><path stroke="#ff0051" d="M1166.7 628.5h0"/><path stroke="#0084f9" d="M1367.8 608.9h0"/><path stroke="#008bfb" d="M605.1 609.1h0"/><path stroke="#ff0051" d="M1140.8 571.8h0"/><path stroke="#008bfb" d="M1359.9 610.1h0"/><path stroke="#6359da" d="M1487.1 610.8h0"/><path stroke="#008bfb" d="M639.1 608.4h0M719.0 604.4h0"/><path stroke="#0084f9" d="M1338.5 610.8h0"/><path stroke="#0087fa" d="M810.8 610.6h0"/><path stroke="#008bfb" d="M667.0 607.0h0M721.9 605.5h0"/><path stroke="#0087fa" d="M1339.7 609.1h0"/><path stroke="#008bfb" d="M688.9 613.2h0"/><path stroke="#0087fa" d="M732.3 604.8h0M646.2 610.6h0"/><path stroke="#f90067" d="M1468.5 610.3h0"/><path stroke="#008bfb" d="M691.8 606.7h0M617.9 609.4h0"/><path stroke="#0087fa" d="M744.3 613.0h0"/><path stroke="#008bfb" d="M731.8 614.6h0"/><path stroke="#e9007c" d="M1461.3 610.8h0"/><path stroke="#008bfb" d="M631.1 611.0h0"/><path stroke="#f90067" d="M1465.0 610.6h0"/><path stroke="#0084f9" d="M1407.8 610.6h0"/><path stroke="#ff0051" d="M1131.0 578.1h0"/><path stroke="#008bfb" d="M648.8 610.3h0"/><path stroke="#ff0051" d="M1155.9 567.3h0"/><path stroke="#0087fa" d="M1430.8 610.8h0"/><path stroke="#fe005c" d="M1393.5 608.9h0"/><path stroke="#ff0057" d="M1132.6 591.2h0"/><path stroke="#008bfb" d="M640.8 608.2h0"/><path stroke="#0087fa" d="M1326.3 609.9h0"/><path stroke="#008bfb" d="M680.2 607.0h0"/><path stroke="#ee0077" d="M1445.4 608.9h0"/><path stroke="#008bfb" d="M806.2 610.8h0"/><path stroke="#0087fa" d="M1329.7 608.9h0"/><path stroke="#008bfb" d="M675.1 606.7h0"/><path stroke="#0087fa" d="M674.5 612.7h0M1352.0 610.3h0"/><path stroke="#008bfb" d="M683.4 612.0h0"/><path stroke="#ff0057" d="M1383.5 610.3h0"/><path stroke="#008bfb" d="M686.8 607.0h0"/><path stroke="#0087fa" d="M772.7 611.0h0"/><path stroke="#ff0051" d="M1140.9 650.2h0"/><path stroke="#ff0057" d="M1124.8 601.5h0"/><path stroke="#754fd1" d="M1495.4 610.3h0"/><path stroke="#fc0062" d="M1449.3 609.9h0"/><path stroke="#0087fa" d="M1436.0 610.8h0M706.8 615.1h0M1336.9 610.3h0"/><path stroke="#008bfb" d="M1337.8 609.4h0"/><path stroke="#ff0051" d="M1166.4 625.6h0"/><path stroke="#0084f9" d="M1349.8 608.9h0"/><path stroke="#ff0057" d="M1391.5 610.8h0"/><path stroke="#0087fa" d="M657.1 611.8h0"/><path stroke="#008bfb" d="M1341.8 609.9h0"/><path stroke="#0087fa" d="M598.1 610.8h0"/><path stroke="#008bfb" d="M1423.1 610.8h0M701.9 614.4h0"/><path stroke="#ff0057" d="M1122.2 618.2h0M1156.5 568.5h0"/><path stroke="#ff0051" d="M1176.1 601.5h0"/><path stroke="#0084f9" d="M1439.4 610.6h0"/><path stroke="#6c54d6" d="M1491.9 608.9h0"/><path stroke="#cf0093" d="M1509.6 609.1h0"/><path stroke="#ff0057" d="M1165.9 641.9h0"/><path stroke="#0087fa" d="M776.5 609.1h0"/><path stroke="#ff0051" d="M1131.8 580.0h0"/><path stroke="#ff0057" d="M1377.1 609.1h0"/><path stroke="#ff0051" d="M1131.7 584.5h0"/><path stroke="#ff0057" d="M1379.0 610.8h0"/><path stroke="#ff0051" d="M1132.7 641.2h0M1167.2 580.0h0M1370.2 610.3h0"/><path stroke="#0087fa" d="M794.7 610.6h0"/><path stroke="#ff0051" d="M1132.3 596.5h0"/><path stroke="#0087fa" d="M705.9 613.9h0"/><path stroke="#fc0062" d="M1467.8 609.6h0"/><path stroke="#008bfb" d="M754.7 613.0h0"/><path stroke="#b30aa3" d="M1505.1 608.9h0"/><path stroke="#0087fa" d="M678.0 612.2h0M690.1 607.2h0"/><path stroke="#008bfb" d="M595.9 609.4h0M1410.5 610.8h0M1434.3 610.1h0"/><path stroke="#ff0051" d="M1144.7 569.7h0"/><path stroke="#c80098" d="M1502.2 609.4h0"/><path stroke="#ff0051" d="M1382.3 609.9h0M1111.2 610.1h0"/><path stroke="#008bfb" d="M662.3 608.4h0"/><path stroke="#0087fa" d="M1394.5 610.3h0"/><path stroke="#008bfb" d="M667.8 612.0h0M1363.3 609.1h0M696.9 613.9h0"/><path stroke="#ff0057" d="M1111.7 609.9h0M1131.1 639.5h0"/><path stroke="#008bfb" d="M707.1 604.8h0"/><path stroke="#ff0057" d="M1158.1 650.7h0"/><path stroke="#0087fa" d="M760.0 612.2h0"/><path stroke="#008bfb" d="M606.7 610.8h0"/><path stroke="#ff0051" d="M1143.5 649.3h0"/><path stroke="#ff0057" d="M1166.4 583.3h0"/><path stroke="#0084f9" d="M1343.7 609.4h0"/><path stroke="#008bfb" d="M771.8 608.4h0"/><path stroke="#0087fa" d="M774.6 610.3h0M625.9 608.9h0M616.3 610.6h0"/><path stroke="#008bfb" d="M770.7 608.2h0M1361.1 609.4h0"/><path stroke="#ff0057" d="M1381.2 609.1h0M1116.4 608.9h0M1485.5 609.4h0"/><path stroke="#0087fa" d="M602.0 609.6h0M621.9 609.6h0"/><path stroke="#008bfb" d="M736.1 614.2h0"/><path stroke="#0087fa" d="M1443.5 609.6h0M755.6 612.7h0"/><path stroke="#008bfb" d="M714.2 605.1h0"/><path stroke="#ff0057" d="M1165.9 627.3h0M1111.1 610.8h0"/><path stroke="#008bfb" d="M788.4 609.4h0"/><path stroke="#ff0051" d="M1166.4 622.3h0"/><path stroke="#fc0062" d="M1471.9 610.6h0"/><path stroke="#008bfb" d="M1404.4 609.9h0M806.8 610.3h0"/><path stroke="#ff0051" d="M1131.3 627.5h0"/><path stroke="#008bfb" d="M610.9 608.9h0"/><path stroke="#ff0051" d="M1132.1 640.7h0M1150.4 567.8h0"/><path stroke="#ff0057" d="M1175.1 602.4h0"/><path stroke="#fc0062" d="M1463.5 608.9h0"/><path stroke="#c80098" d="M1504.5 610.6h0"/><path stroke="#0084f9" d="M1435.0 608.9h0"/><path stroke="#008bfb" d="M1417.2 608.9h0"/><path stroke="#ee0077" d="M1444.4 610.3h0"/><path stroke="#008bfb" d="M729.9 605.3h0M673.5 607.9h0"/><path stroke="#ff0057" d="M1153.0 652.4h0"/><path stroke="#008bfb" d="M637.0 610.3h0"/><path stroke="#0087fa" d="M668.3 607.2h0"/><path stroke="#ff0057" d="M1133.3 578.3h0"/><path stroke="#ff0051" d="M1145.2 570.7h0"/><path stroke="#0084f9" d="M1414.8 609.6h0"/><path stroke="#ff0051" d="M1134.4 641.6h0"/><path stroke="#008bfb" d="M740.2 606.5h0M691.0 607.5h0"/><path stroke="#ee0077" d="M1447.3 610.6h0"/><path stroke="#ff0051" d="M1373.0 610.8h0"/><path stroke="#0087fa" d="M1419.7 609.4h0"/><path stroke="#ff0057" d="M1149.4 569.0h0"/><path stroke="#ee0077" d="M1450.5 610.1h0"/><path stroke="#ff0057" d="M1177.9 611.0h0"/><path stroke="#008bfb" d="M802.2 609.4h0"/><path stroke="#0087fa" d="M1415.8 610.3h0"/><path stroke="#008bfb" d="M628.4 609.9h0"/><path stroke="#ff0051" d="M1137.0 638.8h0"/><path stroke="#ff0057" d="M1372.4 608.9h0"/><path stroke="#008bfb" d="M654.1 609.6h0M757.1 612.0h0"/><path stroke="#ff0057" d="M1167.3 591.7h0M1165.0 579.5h0"/><path stroke="#0087fa" d="M1409.6 610.1h0"/><path stroke="#0084f9" d="M1346.7 609.6h0"/><path stroke="#ff0057" d="M1131.4 636.9h0"/><path stroke="#008bfb" d="M789.3 610.6h0"/><path stroke="#0087fa" d="M771.4 608.7h0"/><path stroke="#008bfb" d="M761.9 607.5h0M781.1 610.1h0"/><path stroke="#0087fa" d="M678.5 611.8h0"/><path stroke="#008bfb" d="M708.9 614.9h0"/><path stroke="#0087fa" d="M1426.2 608.9h0"/><path stroke="#008bfb" d="M659.3 611.3h0"/><path stroke="#0087fa" d="M783.9 608.9h0M765.9 610.6h0M1407.0 609.4h0"/><path stroke="#f90067" d="M1457.6 610.1h0"/><path stroke="#008bfb" d="M710.3 603.9h0M814.5 610.8h0"/><path stroke="#ff0051" d="M1176.5 604.8h0"/><path stroke="#0084f9" d="M1364.3 610.3h0"/><path stroke="#008bfb" d="M751.6 607.0h0M761.2 608.7h0"/><path stroke="#ff0057" d="M1374.1 609.4h0"/><path stroke="#008bfb" d="M651.2 610.8h0M685.3 607.7h0"/><path stroke="#0087fa" d="M669.0 607.5h0"/><path stroke="#d5008f" d="M1506.6 610.8h0"/><path stroke="#fe005c" d="M1384.1 609.4h0"/><path stroke="#008bfb" d="M768.7 608.9h0"/><path stroke="#ff0057" d="M1165.5 583.8h0"/><path stroke="#0087fa" d="M1429.9 610.3h0"/><path stroke="#008bfb" d="M746.2 613.2h0M728.5 605.5h0"/><path stroke="#0087fa" d="M672.1 609.9h0"/><path stroke="#ff0051" d="M1166.7 640.9h0"/><path stroke="#0087fa" d="M657.7 610.8h0"/><path stroke="#ff0051" d="M1479.9 610.1h0"/><path stroke="#6359da" d="M1487.9 610.1h0"/><path stroke="#0087fa" d="M1418.9 610.6h0"/><path stroke="#008bfb" d="M641.3 608.7h0"/><path stroke="#0084f9" d="M1438.0 609.4h0"/><path stroke="#008bfb" d="M660.6 609.1h0"/><path stroke="#ff0051" d="M1142.1 573.3h0"/><path stroke="#008bfb" d="M602.9 609.9h0M767.2 609.1h0"/><path stroke="#ff0051" d="M1157.6 649.0h0M1166.3 631.6h0M1131.2 586.2h0"/><path stroke="#008bfb" d="M596.9 609.9h0"/><path stroke="#0087fa" d="M650.7 609.9h0"/><path stroke="#e50081" d="M1452.4 609.1h0"/><path stroke="#008bfb" d="M672.6 610.8h0"/><path stroke="#0087fa" d="M751.4 612.0h0"/><path stroke="#ff0051" d="M1131.0 624.9h0"/><path stroke="#0084f9" d="M1396.5 609.1h0"/><path stroke="#008bfb" d="M724.5 606.3h0"/><path stroke="#ff0057" d="M1139.6 640.2h0"/><path stroke="#fe005c" d="M1472.7 610.3h0"/><path stroke="#6c54d6" d="M1494.2 609.1h0"/><path stroke="#008bfb" d="M713.7 615.6h0"/><path stroke="#ff0057" d="M1140.9 643.6h0"/><path stroke="#008bfb" d="M700.2 613.0h0"/><path stroke="#0087fa" d="M679.6 607.7h0M1397.7 610.1h0"/><path stroke="#ff0051" d="M1148.6 570.2h0"/><path stroke="#008bfb" d="M660.0 608.7h0"/><path stroke="#0087fa" d="M672.9 611.5h0"/><path stroke="#008bfb" d="M716.0 614.9h0"/><path stroke="#0087fa" d="M705.6 607.5h0"/><path stroke="#f5006c" d="M1462.6 610.1h0"/><path stroke="#008bfb" d="M718.0 615.3h0"/><path stroke="#0087fa" d="M739.8 612.5h0"/><path stroke="#0084f9" d="M1421.1 610.1h0"/><path stroke="#fe005c" d="M1387.3 609.1h0"/><path stroke="#0087fa" d="M1395.4 610.1h0"/><path stroke="#6359da" d="M1496.2 609.4h0"/><path stroke="#0087fa" d="M1437.0 609.1h0"/><path stroke="#ff0051" d="M1165.8 632.8h0"/><path stroke="#008bfb" d="M612.7 609.6h0M744.6 612.2h0"/><path stroke="#6359da" d="M1484.2 611.0h0"/><path stroke="#ff0051" d="M1164.9 621.3h0"/><path stroke="#008bfb" d="M814.0 608.9h0"/><path stroke="#0084f9" d="M1346.0 610.3h0"/><path stroke="#ff0057" d="M1483.2 610.6h0"/><path stroke="#008bfb" d="M599.4 610.6h0"/><path stroke="#0087fa" d="M679.4 608.2h0"/><path stroke="#008bfb" d="M810.2 608.9h0M758.7 611.5h0"/><path stroke="#0087fa" d="M666.7 609.6h0"/><path stroke="#008bfb" d="M792.9 608.9h0"/><path stroke="#ff0051" d="M1175.6 618.0h0"/><path stroke="#ff0057" d="M1141.7 644.3h0M1153.4 568.0h0"/><path stroke="#ff0051" d="M1157.0 646.4h0"/><path stroke="#754fd1" d="M1475.9 608.9h0"/><path stroke="#008bfb" d="M803.2 609.9h0M770.2 611.3h0"/><path stroke="#ff0051" d="M1121.7 602.0h0"/><path stroke="#ff0057" d="M1157.4 569.9h0"/><path stroke="#fe005c" d="M1455.7 609.9h0"/><path stroke="#e9007c" d="M1469.6 609.4h0"/><path stroke="#ff0057" d="M1136.3 634.9h0M1175.4 603.6h0"/><path stroke="#0087fa" d="M629.0 609.4h0"/><path stroke="#008bfb" d="M725.6 608.4h0M711.5 606.7h0M798.7 610.8h0"/><path stroke="#ff0051" d="M1154.4 649.8h0M1386.1 608.9h0M1166.2 641.4h0M1134.2 583.3h0M1142.6 648.6h0M1147.7 649.5h0"/><path stroke="#008bfb" d="M717.7 606.5h0"/><path stroke="#585edf" d="M1497.9 610.1h0"/><path stroke="#0087fa" d="M796.9 609.1h0"/><path stroke="#ff0051" d="M1167.0 590.5h0M1177.0 608.9h0M1173.8 602.7h0M1176.7 609.4h0"/><path stroke="#008bfb" d="M752.0 607.5h0"/><path stroke="#0087fa" d="M731.6 607.0h0"/><path stroke="#008bfb" d="M641.9 611.0h0"/><path stroke="#0087fa" d="M745.9 606.7h0"/><path stroke="#e50081" d="M1451.2 610.3h0"/><path stroke="#008bfb" d="M696.0 606.0h0"/><path stroke="#0087fa" d="M1426.9 610.1h0"/><path stroke="#ff0051" d="M1123.8 617.7h0"/><path stroke="#0087fa" d="M705.8 613.4h0M724.3 614.2h0"/><path stroke="#ff0051" d="M1112.2 610.6h0"/><path stroke="#a31daa" d="M1510.0 610.6h0"/><path stroke="#0087fa" d="M781.7 610.6h0M686.2 611.5h0"/><path stroke="#ff0051" d="M1127.6 616.5h0"/><path stroke="#ff0057" d="M1175.0 618.2h0M1132.8 586.9h0M1161.0 577.3h0"/><path stroke="#008bfb" d="M718.7 613.2h0M663.5 608.9h0"/><path stroke="#ff0051" d="M1133.4 594.1h0"/><path stroke="#008bfb" d="M724.6 613.9h0M709.0 608.7h0"/><path stroke="#ff0051" d="M1134.9 578.8h0"/><path stroke="#0084f9" d="M1365.3 609.9h0"/><path stroke="#008bfb" d="M621.0 610.1h0M753.9 610.3h0M619.1 610.6h0"/><path stroke="#ff0051" d="M1166.0 585.9h0"/><path stroke="#008bfb" d="M637.7 609.4h0"/><path stroke="#0087fa" d="M766.3 609.4h0"/><path stroke="#e9007c" d="M1454.7 608.9h0"/><path stroke="#ff0051" d="M1134.8 605.5h0M1167.1 639.5h0M1144.2 572.6h0"/><path stroke="#754fd1" d="M1481.7 609.1h0"/><path stroke="#ff0057" d="M1131.5 631.4h0M1132.4 625.1h0M1160.7 585.5h0"/><path stroke="#008bfb" d="M735.7 605.8h0M715.2 613.9h0"/><path stroke="#ff0051" d="M1158.2 610.8h0"/><path stroke="#ff0057" d="M1155.9 647.9h0"/><path stroke="#ff0051" d="M1150.4 585.5h0"/><path stroke="#008bfb" d="M608.2 609.4h0"/><path stroke="#ff0051" d="M1163.9 622.5h0"/><path stroke="#ff0057" d="M1134.5 620.1h0"/><path stroke="#ff0051" d="M1128.3 605.8h0"/><path stroke="#ff0057" d="M1171.5 606.5h0M1135.7 588.1h0"/><path stroke="#cf0093" d="M1508.2 609.9h0"/><path stroke="#ff0051" d="M1152.8 569.2h0"/><path stroke="#ff0057" d="M1159.6 580.9h0"/><path stroke="#0087fa" d="M743.2 607.7h0"/><path stroke="#008bfb" d="M738.0 611.5h0"/><path stroke="#c2009c" d="M1509.2 609.6h0"/><path stroke="#ff0051" d="M1147.2 574.0h0"/><path stroke="#ff0057" d="M1137.2 614.2h0"/><path stroke="#ff0051" d="M1146.7 623.0h0"/><path stroke="#ff0057" d="M1163.4 624.0h0"/><path stroke="#ff0051" d="M1171.6 613.0h0M1163.8 619.2h0M1166.9 599.1h0M1123.5 602.2h0"/><path stroke="#008bfb" d="M685.1 611.3h0"/><path stroke="#ff0051" d="M1151.7 608.4h0"/><path stroke="#008bfb" d="M807.9 609.1h0M676.9 611.5h0M780.3 611.0h0"/><path stroke="#ff0051" d="M1118.2 610.8h0M1166.5 594.6h0"/><path stroke="#008bfb" d="M692.4 614.6h0"/><path stroke="#ff0051" d="M1139.7 638.3h0M1159.6 639.7h0"/><path stroke="#6c54d6" d="M1497.4 610.3h0"/><path stroke="#ff0051" d="M1138.2 593.1h0"/><path stroke="#ff0057" d="M1162.2 588.6h0M1152.9 613.4h0"/><path stroke="#ff0051" d="M1140.8 629.0h0"/><path stroke="#008bfb" d="M1428.1 609.9h0"/><path stroke="#0087fa" d="M731.1 607.7h0"/><path stroke="#ff0051" d="M1139.8 582.4h0M1163.2 635.4h0M1148.3 611.0h0"/><path stroke="#ff0057" d="M1159.3 578.1h0M1123.3 614.9h0"/><path stroke="#008bfb" d="M725.1 613.4h0"/><path stroke="#ff0051" d="M1156.9 625.9h0"/><path stroke="#008bfb" d="M782.4 611.5h0"/><path stroke="#ff0051" d="M1152.6 647.6h0M1144.5 626.1h0"/><path stroke="#008bfb" d="M804.9 610.1h0"/><path stroke="#ff0051" d="M1151.7 596.9h0"/><path stroke="#008bfb" d="M738.9 609.6h0"/><path stroke="#0087fa" d="M758.4 607.7h0"/><path stroke="#ff0051" d="M1142.7 579.5h0"/><path stroke="#ff0057" d="M1157.2 634.5h0"/><path stroke="#008bfb" d="M748.8 613.2h0M711.9 613.7h0"/><path stroke="#ff0051" d="M1142.9 574.7h0M1132.2 610.6h0"/><path stroke="#ff0057" d="M1135.5 591.0h0"/><path stroke="#008bfb" d="M704.6 611.3h0M734.4 608.9h0"/><path stroke="#ff0051" d="M1151.1 650.0h0"/><path stroke="#ff0057" d="M1142.2 646.7h0"/><path stroke="#ff0051" d="M1142.3 597.2h0M1140.4 609.4h0M1159.7 577.6h0"/><path stroke="#008bfb" d="M687.5 608.4h0"/><path stroke="#ff0057" d="M1156.4 637.3h0M1389.6 610.6h0M1157.9 594.1h0"/><path stroke="#e50081" d="M1460.8 609.9h0"/><path stroke="#ff0057" d="M1146.4 647.1h0M1125.2 615.3h0"/><path stroke="#0087fa" d="M786.5 609.6h0"/><path stroke="#ff0051" d="M1174.0 614.6h0"/><path stroke="#0087fa" d="M1333.4 610.1h0"/><path stroke="#ff0051" d="M1143.4 624.2h0M1148.3 593.1h0M1167.2 636.1h0"/><path stroke="#ff0057" d="M1160.0 628.0h0M1142.2 592.2h0"/><path stroke="#008bfb" d="M733.4 614.9h0"/><path stroke="#0087fa" d="M1332.6 609.9h0"/><path stroke="#008bfb" d="M697.6 605.3h0"/><path stroke="#0087fa" d="M733.8 613.7h0"/><path stroke="#ff0051" d="M1163.5 616.8h0"/><path stroke="#008bfb" d="M719.1 605.5h0M635.3 609.6h0"/><path stroke="#ff0051" d="M1140.7 606.0h0M1173.7 615.6h0M1157.0 592.6h0M1165.1 613.4h0"/><path stroke="#ff0057" d="M1143.7 572.8h0"/><path stroke="#ff0051" d="M1157.8 624.0h0M1162.5 595.0h0"/><path stroke="#ff0057" d="M1160.7 597.7h0"/><path stroke="#ff0051" d="M1146.9 634.7h0M1138.6 578.5h0M1155.3 613.7h0"/><path stroke="#0084f9" d="M1335.8 609.6h0"/><path stroke="#008bfb" d="M692.0 609.6h0"/><path stroke="#ff0051" d="M1141.7 640.0h0"/><path stroke="#ff0057" d="M1152.2 587.4h0"/><path stroke="#ff0051" d="M1150.2 644.7h0"/><path stroke="#008bfb" d="M747.8 609.6h0M558.3 494.6h0M533.9 488.8h0M397.1 497.8h0"/><path stroke="#ff0057" d="M1302.9 524.6h0"/><path stroke="#0087fa" d="M465.1 501.7h0"/><path stroke="#585edf" d="M1634.2 498.5h0"/><path stroke="#ff0051" d="M1283.3 459.5h0M1251.9 520.7h0"/><path stroke="#ff0057" d="M1622.6 498.8h0"/><path stroke="#6c54d6" d="M1626.9 494.1h0M1630.9 499.3h0"/><path stroke="#ff0051" d="M1310.4 506.7h0"/><path stroke="#008bfb" d="M463.9 491.4h0"/><path stroke="#ff0051" d="M1322.0 495.6h0"/><path stroke="#ff0057" d="M1269.9 536.2h0"/><path stroke="#008bfb" d="M552.9 499.3h0"/><path stroke="#0087fa" d="M438.3 497.5h0M398.9 496.2h0"/><path stroke="#008bfb" d="M565.3 498.3h0"/><path stroke="#ff0051" d="M1277.2 535.7h0"/><path stroke="#008bfb" d="M623.8 496.7h0"/><path stroke="#585edf" d="M1596.8 498.0h0"/><path stroke="#ff0057" d="M1302.6 474.6h0"/><path stroke="#585edf" d="M1654.9 497.8h0"/><path stroke="#754fd1" d="M1591.0 495.1h0"/><path stroke="#0087fa" d="M507.7 507.0h0"/><path stroke="#ff0051" d="M1244.9 512.5h0"/><path stroke="#008bfb" d="M445.3 494.9h0M459.0 502.2h0"/><path stroke="#0087fa" d="M560.0 499.1h0"/><path stroke="#ff0057" d="M1252.2 473.5h0"/><path stroke="#008bfb" d="M410.5 497.5h0"/><path stroke="#ee0077" d="M1607.4 494.3h0"/><path stroke="#ff0051" d="M1265.6 456.9h0"/><path stroke="#0087fa" d="M549.5 499.6h0"/><path stroke="#ee0077" d="M1576.0 497.8h0"/><path stroke="#008bfb" d="M473.3 487.7h0M551.4 494.1h0M449.6 493.5h0M473.5 488.3h0M400.3 496.7h0"/><path stroke="#e9007c" d="M1615.4 495.1h0"/><path stroke="#008bfb" d="M446.4 494.6h0"/><path stroke="#e50081" d="M1608.7 494.9h0"/><path stroke="#ff0057" d="M1226.5 495.1h0"/><path stroke="#7d49cb" d="M1602.5 494.1h0"/><path stroke="#008bfb" d="M411.4 497.2h0M447.3 498.3h0"/><path stroke="#ff0051" d="M1212.9 497.8h0M1319.8 497.8h0"/><path stroke="#ff0057" d="M1253.5 466.6h0"/><path stroke="#008bfb" d="M527.8 504.9h0"/><path stroke="#ff0051" d="M1300.2 525.2h0"/><path stroke="#008bfb" d="M572.5 497.5h0"/><path stroke="#8b3cc0" d="M1647.8 498.0h0"/><path stroke="#0087fa" d="M471.9 505.4h0"/><path stroke="#6359da" d="M1631.4 499.1h0"/><path stroke="#0070ed" d="M1641.4 497.8h0"/><path stroke="#0087fa" d="M415.6 496.4h0"/><path stroke="#ff0057" d="M1231.7 498.5h0M1209.3 497.5h0"/><path stroke="#008bfb" d="M544.4 500.4h0"/><path stroke="#ff0057" d="M1252.6 471.9h0"/><path stroke="#008bfb" d="M564.1 497.8h0"/><path stroke="#ff0057" d="M1290.0 534.1h0"/><path stroke="#008bfb" d="M1549.6 496.7h0"/><path stroke="#ff0057" d="M1239.8 488.5h0"/><path stroke="#ff0051" d="M1314.8 490.1h0"/><path stroke="#ff0057" d="M1255.5 527.8h0"/><path stroke="#008bfb" d="M444.2 497.0h0M502.5 507.5h0M405.6 496.4h0M499.5 486.2h0"/><path stroke="#0087fa" d="M546.4 500.7h0"/><path stroke="#008bfb" d="M600.1 496.7h0"/><path stroke="#ff0057" d="M1267.5 458.7h0"/><path stroke="#008bfb" d="M472.4 504.3h0M439.4 495.6h0"/><path stroke="#0087fa" d="M558.9 497.5h0"/><path stroke="#008bfb" d="M581.0 497.8h0"/><path stroke="#ff0051" d="M1264.9 463.0h0"/><path stroke="#4b63e3" d="M1626.1 494.3h0"/><path stroke="#008bfb" d="M396.4 495.9h0"/><path stroke="#6c54d6" d="M1627.5 499.6h0"/><path stroke="#008bfb" d="M448.9 495.9h0"/><path stroke="#ff0051" d="M1265.3 536.5h0"/><path stroke="#fe005c" d="M1611.4 494.9h0"/><path stroke="#008bfb" d="M461.5 492.0h0"/><path stroke="#e00086" d="M1613.9 496.2h0"/><path stroke="#008bfb" d="M498.4 506.7h0M514.7 487.2h0M512.3 486.7h0M1571.1 498.0h0"/><path stroke="#ff0051" d="M1234.5 494.1h0"/><path stroke="#008bfb" d="M545.3 500.1h0"/><path stroke="#fc0062" d="M1587.8 495.4h0"/><path stroke="#0087fa" d="M526.4 488.5h0M507.8 486.7h0"/><path stroke="#008bfb" d="M518.2 506.7h0"/><path stroke="#ff0051" d="M1253.0 522.3h0"/><path stroke="#ff0057" d="M1268.0 459.0h0"/><path stroke="#008bfb" d="M542.9 493.8h0"/><path stroke="#f20072" d="M1616.1 499.1h0"/><path stroke="#ff0057" d="M1251.8 527.3h0"/><path stroke="#0087fa" d="M530.2 505.1h0"/><path stroke="#008bfb" d="M471.8 502.8h0"/><path stroke="#6359da" d="M1630.4 495.6h0"/><path stroke="#0087fa" d="M534.0 489.6h0"/><path stroke="#3b68e7" d="M1645.7 497.0h0"/><path stroke="#7d49cb" d="M1647.1 495.4h0"/><path stroke="#ff0051" d="M1210.3 495.6h0"/><path stroke="#0087fa" d="M450.3 495.6h0"/><path stroke="#008bfb" d="M492.9 486.4h0"/><path stroke="#0087fa" d="M530.4 504.1h0"/><path stroke="#ff0051" d="M1301.9 475.3h0"/><path stroke="#008bfb" d="M425.9 497.8h0"/><path stroke="#4b63e3" d="M1594.8 497.5h0"/><path stroke="#ff0051" d="M1313.0 487.5h0M1246.9 512.8h0M1269.8 457.2h0"/><path stroke="#0087fa" d="M501.2 488.3h0"/><path stroke="#ff0051" d="M1310.1 488.0h0"/><path stroke="#6c54d6" d="M1598.2 494.6h0"/><path stroke="#f90067" d="M1600.7 496.4h0"/><path stroke="#ff0051" d="M1289.2 533.9h0"/><path stroke="#0087fa" d="M510.2 486.9h0"/><path stroke="#008bfb" d="M582.1 497.5h0"/><path stroke="#ff0057" d="M1288.8 530.7h0"/><path stroke="#ff0051" d="M1218.4 495.6h0M1240.2 481.4h0"/><path stroke="#008bfb" d="M448.0 497.0h0M1570.7 495.6h0"/><path stroke="#ff0051" d="M1276.6 457.7h0"/><path stroke="#0087fa" d="M510.1 487.5h0"/><path stroke="#3b68e7" d="M1654.1 496.4h0"/><path stroke="#0087fa" d="M521.0 506.5h0"/><path stroke="#6c54d6" d="M1591.9 496.2h0"/><path stroke="#008bfb" d="M506.7 506.5h0"/><path stroke="#fe005c" d="M1610.0 499.3h0"/><path stroke="#ff0051" d="M1253.1 524.4h0"/><path stroke="#e50081" d="M1601.6 499.6h0"/><path stroke="#008bfb" d="M514.4 488.0h0"/><path stroke="#0087fa" d="M394.5 495.6h0"/><path stroke="#008bfb" d="M525.8 489.3h0"/><path stroke="#0070ed" d="M1650.7 495.6h0"/><path stroke="#008bfb" d="M497.9 486.4h0"/><path stroke="#ff0051" d="M1288.4 534.4h0"/><path stroke="#008bfb" d="M509.5 488.3h0"/><path stroke="#ff0051" d="M1255.3 526.0h0M1302.8 524.1h0M1239.5 512.3h0"/><path stroke="#8443c6" d="M1649.5 496.2h0"/><path stroke="#008bfb" d="M517.0 504.9h0"/><path stroke="#ff0057" d="M1228.3 494.6h0"/><path stroke="#f90067" d="M1580.5 498.0h0"/><path stroke="#ff0051" d="M1301.0 522.8h0"/><path stroke="#ff0057" d="M1274.5 460.3h0"/><path stroke="#0087fa" d="M422.8 497.5h0M569.6 495.6h0"/><path stroke="#ff0051" d="M1302.1 519.9h0"/><path stroke="#0084f9" d="M1569.8 496.7h0"/><path stroke="#ff0051" d="M1230.5 497.2h0"/><path stroke="#008bfb" d="M470.8 488.8h0"/><path stroke="#ff0051" d="M1314.3 490.4h0"/><path stroke="#0087fa" d="M392.4 495.9h0"/><path stroke="#ff0051" d="M1310.5 488.5h0"/><path stroke="#ff0057" d="M1284.2 533.6h0"/><path stroke="#ff0051" d="M1315.5 491.7h0M1317.5 498.0h0"/><path stroke="#ff0057" d="M1309.3 506.5h0M1211.5 497.2h0"/><path stroke="#ff0051" d="M1221.2 497.8h0M1269.1 459.8h0"/><path stroke="#0087fa" d="M512.9 505.9h0"/><path stroke="#ff0057" d="M1241.0 488.0h0"/><path stroke="#ff0051" d="M1265.0 533.6h0"/><path stroke="#ff0057" d="M1248.1 481.1h0"/><path stroke="#ff0051" d="M1207.2 496.4h0M1207.8 495.9h0"/><path stroke="#ff0057" d="M1215.6 496.7h0"/><path stroke="#008bfb" d="M462.6 492.7h0M401.7 497.5h0M441.8 496.2h0M440.6 495.9h0"/><path stroke="#ff0051" d="M1289.8 460.6h0"/><path stroke="#9135ba" d="M1642.9 495.6h0"/><path stroke="#0087fa" d="M578.5 497.2h0M494.4 506.7h0M554.7 498.8h0M403.0 497.2h0M412.8 495.9h0"/><path stroke="#ff0051" d="M1255.7 526.8h0M1300.5 523.1h0"/><path stroke="#ff0057" d="M1302.2 469.5h0"/><path stroke="#585edf" d="M1638.3 498.3h0"/><path stroke="#008bfb" d="M556.4 494.3h0M484.0 507.0h0"/><path stroke="#ff0051" d="M1253.3 517.3h0"/><path stroke="#ff0057" d="M1281.8 459.3h0"/><path stroke="#754fd1" d="M1605.7 498.8h0"/><path stroke="#ff0057" d="M1285.2 529.7h0"/><path stroke="#008bfb" d="M479.6 488.0h0M467.5 491.7h0"/><path stroke="#0087fa" d="M512.7 489.6h0"/><path stroke="#ff0057" d="M1252.7 468.2h0"/><path stroke="#008bfb" d="M489.8 507.2h0M472.8 493.0h0"/><path stroke="#ff0057" d="M1302.8 514.9h0"/><path stroke="#008bfb" d="M547.4 493.5h0"/><path stroke="#ff0057" d="M1321.2 496.2h0"/><path stroke="#008bfb" d="M476.4 490.6h0"/><path stroke="#ff0051" d="M1314.1 505.4h0M1600.0 496.7h0M1239.7 502.8h0"/><path stroke="#0087fa" d="M483.0 504.9h0"/><path stroke="#ff0051" d="M1251.9 477.7h0"/><path stroke="#0087fa" d="M577.4 495.9h0"/><path stroke="#ff0057" d="M1265.3 533.9h0M1586.8 497.0h0"/><path stroke="#0087fa" d="M503.6 507.2h0M561.6 496.2h0"/><path stroke="#008bfb" d="M503.4 490.6h0"/><path stroke="#4b63e3" d="M1625.2 494.6h0"/><path stroke="#ff0057" d="M1297.2 523.9h0"/><path stroke="#008bfb" d="M571.6 495.9h0"/><path stroke="#0087fa" d="M453.0 497.5h0"/><path stroke="#008bfb" d="M492.8 506.2h0"/><path stroke="#fe005c" d="M1605.4 495.4h0"/><path stroke="#f5006c" d="M1623.2 498.0h0"/><path stroke="#0087fa" d="M568.4 498.0h0M478.4 489.3h0"/><path stroke="#008bfb" d="M471.0 498.3h0"/><path stroke="#ff0051" d="M1298.0 469.0h0"/><path stroke="#585edf" d="M1629.8 496.2h0"/><path stroke="#4b63e3" d="M1653.3 498.0h0"/><path stroke="#ff0051" d="M1277.7 461.1h0"/><path stroke="#ff0057" d="M1235.0 496.4h0M1208.6 497.0h0"/><path stroke="#fe005c" d="M1602.8 497.8h0"/><path stroke="#ff0057" d="M1314.4 492.7h0"/><path stroke="#ff0051" d="M1240.5 482.5h0"/><path stroke="#0084f9" d="M1573.8 497.2h0"/><path stroke="#ff0051" d="M1246.1 486.4h0M1225.7 497.5h0"/><path stroke="#008bfb" d="M483.6 486.2h0M521.7 487.7h0"/><path stroke="#ff0051" d="M1222.5 497.0h0"/><path stroke="#008bfb" d="M520.2 491.7h0"/><path stroke="#ff0051" d="M1296.2 473.2h0M1279.7 460.1h0M1319.3 495.4h0"/><path stroke="#0087fa" d="M495.1 487.7h0"/><path stroke="#008bfb" d="M427.7 496.7h0"/><path stroke="#f90067" d="M1624.4 495.1h0"/><path stroke="#008bfb" d="M391.8 497.8h0"/><path stroke="#ff0057" d="M1278.6 466.6h0"/><path stroke="#008bfb" d="M1570.2 496.2h0"/><path stroke="#ff0051" d="M1289.8 461.4h0"/><path stroke="#008bfb" d="M458.0 493.5h0"/><path stroke="#ff0057" d="M1240.1 502.0h0"/><path stroke="#0087fa" d="M432.7 497.2h0"/><path stroke="#008bfb" d="M503.7 506.2h0M531.8 502.5h0M491.0 487.5h0"/><path stroke="#6c54d6" d="M1595.7 495.6h0"/><path stroke="#ff0051" d="M1302.0 484.0h0"/><path stroke="#ff0057" d="M1301.3 477.2h0M1305.6 505.7h0"/><path stroke="#0070ed" d="M1643.9 496.2h0"/><path stroke="#008bfb" d="M460.1 502.0h0"/><path stroke="#ff0051" d="M1271.2 535.5h0"/><path stroke="#008bfb" d="M479.1 495.4h0"/><path stroke="#0087fa" d="M482.8 504.6h0"/><path stroke="#ff0057" d="M1254.2 470.3h0"/><path stroke="#0087fa" d="M567.3 495.4h0"/><path stroke="#3b68e7" d="M1640.6 497.5h0"/><path stroke="#585edf" d="M1628.4 496.4h0"/><path stroke="#ff0057" d="M1300.7 521.2h0"/><path stroke="#008bfb" d="M374.7 496.7h0"/><path stroke="#f90067" d="M1619.8 498.5h0"/><path stroke="#008bfb" d="M469.1 501.2h0"/><path stroke="#ff0057" d="M1235.4 497.0h0"/><path stroke="#ff0051" d="M1302.4 479.6h0"/><path stroke="#ee0077" d="M1578.3 497.0h0"/><path stroke="#ff0051" d="M1239.1 509.6h0"/><path stroke="#ff0057" d="M1247.9 510.1h0"/><path stroke="#e9007c" d="M1579.4 495.6h0"/><path stroke="#008bfb" d="M525.4 504.3h0M492.0 506.5h0"/><path stroke="#9135ba" d="M1652.0 497.5h0"/><path stroke="#008bfb" d="M424.5 495.9h0M476.2 505.1h0"/><path stroke="#ee0077" d="M1588.8 498.3h0"/><path stroke="#008bfb" d="M547.9 495.6h0"/><path stroke="#0087fa" d="M532.7 500.7h0"/><path stroke="#6359da" d="M1635.5 494.9h0"/><path stroke="#0087fa" d="M463.0 500.7h0"/><path stroke="#ff0057" d="M1243.0 509.4h0"/><path stroke="#008bfb" d="M451.5 499.9h0"/><path stroke="#f90067" d="M1577.2 495.4h0"/><path stroke="#ff0057" d="M1249.5 487.5h0"/><path stroke="#ff0051" d="M1251.1 507.5h0M1283.7 534.7h0"/><path stroke="#ff0057" d="M1285.4 527.0h0"/><path stroke="#ff0051" d="M1254.0 508.6h0"/><path stroke="#ff0057" d="M1266.5 460.6h0"/><path stroke="#008bfb" d="M430.0 495.6h0M498.3 489.8h0"/><path stroke="#0087fa" d="M481.3 488.5h0"/><path stroke="#008bfb" d="M533.1 498.5h0M496.6 489.3h0M495.0 495.6h0"/><path stroke="#ff0057" d="M1273.3 508.0h0"/><path stroke="#008bfb" d="M526.9 499.1h0"/><path stroke="#ff0051" d="M1260.2 514.4h0M1300.9 510.4h0M1293.5 472.7h0M1252.8 476.4h0M1297.2 500.1h0"/><path stroke="#ff0057" d="M1256.6 527.5h0"/><path stroke="#008bfb" d="M479.5 498.0h0"/><path stroke="#ff0057" d="M1296.4 478.5h0"/><path stroke="#0087fa" d="M491.2 488.3h0"/><path stroke="#ff0057" d="M1268.6 500.1h0"/><path stroke="#ff0051" d="M1270.5 527.3h0M1286.3 485.4h0"/><path stroke="#008bfb" d="M537.4 499.6h0"/><path stroke="#0087fa" d="M518.4 493.8h0"/><path stroke="#ff0051" d="M1297.2 483.8h0"/><path stroke="#0087fa" d="M515.4 505.4h0"/><path stroke="#ff0051" d="M1285.7 515.4h0"/><path stroke="#008bfb" d="M454.1 499.6h0"/><path stroke="#6c54d6" d="M1632.5 498.3h0"/><path stroke="#008bfb" d="M540.1 496.4h0"/><path stroke="#0087fa" d="M508.0 501.4h0"/><path stroke="#ff0057" d="M1275.9 529.9h0"/><path stroke="#008bfb" d="M504.7 504.3h0"/><path stroke="#0087fa" d="M583.0 495.6h0"/><path stroke="#ff0051" d="M1309.7 492.2h0"/><path stroke="#ff0057" d="M1258.2 481.1h0"/><path stroke="#ff0051" d="M1245.0 503.3h0"/><path stroke="#ff0057" d="M1293.8 509.4h0"/><path stroke="#0087fa" d="M417.5 496.7h0"/><path stroke="#ff0057" d="M1241.4 496.7h0"/><path stroke="#0087fa" d="M409.2 495.6h0"/><path stroke="#ff0057" d="M1297.8 481.9h0M1293.1 523.6h0"/><path stroke="#0087fa" d="M455.7 494.1h0M551.9 498.3h0"/><path stroke="#ff0051" d="M1248.7 491.7h0"/><path stroke="#008bfb" d="M544.9 494.1h0"/><path stroke="#ff0051" d="M1296.5 494.6h0"/><path stroke="#0087fa" d="M508.9 488.5h0"/><path stroke="#ff0051" d="M1266.1 495.1h0"/><path stroke="#ff0057" d="M1267.3 485.1h0"/><path stroke="#ff0051" d="M1295.0 500.4h0M1210.9 496.7h0M1256.5 473.0h0M1254.1 519.9h0M1286.7 467.4h0"/><path stroke="#ff0057" d="M1290.7 474.3h0"/><path stroke="#008bfb" d="M501.1 495.6h0"/><path stroke="#ff0051" d="M1271.4 512.8h0M1282.3 509.1h0"/><path stroke="#ff0057" d="M1284.1 503.8h0"/><path stroke="#0087fa" d="M528.1 493.8h0"/><path stroke="#ff0051" d="M1259.7 498.3h0M1306.7 492.0h0"/><path stroke="#ff0057" d="M1276.4 495.6h0"/><path stroke="#ff0051" d="M1273.1 484.6h0M1264.8 468.8h0M1294.8 479.8h0"/><path stroke="#6359da" d="M1652.8 497.2h0"/><path stroke="#ff0057" d="M1255.0 465.6h0"/><path stroke="#008bfb" d="M485.9 494.3h0"/><path stroke="#0087fa" d="M464.8 492.5h0"/><path stroke="#f20072" d="M1604.1 496.2h0"/><path stroke="#ff0051" d="M1253.4 521.5h0M1212.1 496.2h0M1308.1 491.4h0"/><path stroke="#f90067" d="M1620.5 496.7h0"/><path stroke="#ff0057" d="M1256.3 502.2h0"/><path stroke="#008bfb" d="M532.5 494.3h0"/><path stroke="#0087fa" d="M550.3 498.0h0"/><path stroke="#ff0051" d="M1288.2 507.0h0"/><path stroke="#f5006c" d="M1618.5 498.3h0"/><path stroke="#008bfb" d="M1570.0 497.5h0"/><path stroke="#ff0051" d="M1257.5 469.5h0"/><path stroke="#008bfb" d="M434.2 497.8h0"/><path stroke="#ff0057" d="M1255.3 467.2h0M1617.1 495.6h0M1299.6 493.0h0"/><path stroke="#008bfb" d="M574.1 496.2h0M404.4 497.0h0M532.8 490.4h0"/><path stroke="#ff0051" d="M1294.5 501.7h0"/><path stroke="#008bfb" d="M546.9 499.9h0"/><path stroke="#fc0062" d="M1621.9 494.6h0"/><path stroke="#ff0057" d="M1279.1 484.6h0"/><path stroke="#ff0051" d="M1266.3 473.5h0"/><path stroke="#ff0057" d="M1285.8 495.6h0"/><path stroke="#0087fa" d="M418.8 497.8h0"/><path stroke="#ff0057" d="M1317.0 497.5h0"/><path stroke="#ff0051" d="M1275.1 467.7h0"/><path stroke="#ee0077" d="M1608.3 495.9h0"/><path stroke="#008bfb" d="M528.5 494.6h0"/><path stroke="#ff0057" d="M1268.1 507.2h0"/><path stroke="#008bfb" d="M481.1 496.2h0"/><path stroke="#ff0051" d="M1241.3 485.9h0"/><path stroke="#e9007c" d="M1617.5 498.0h0"/><path stroke="#ff0057" d="M1284.1 474.0h0M1227.6 498.8h0"/><path stroke="#ff0051" d="M1223.7 497.2h0"/><path stroke="#008bfb" d="M519.9 499.1h0M480.0 490.1h0"/><path stroke="#ff0051" d="M1261.4 517.0h0M1258.1 485.4h0"/><path stroke="#ff0057" d="M1274.8 473.2h0M1281.2 480.1h0"/><path stroke="#008bfb" d="M535.8 493.0h0"/><path stroke="#ff0051" d="M1278.8 519.9h0M1281.0 522.0h0"/><path stroke="#ff0057" d="M1310.3 503.3h0"/><path stroke="#ff0051" d="M1247.7 503.0h0"/><path stroke="#ff0057" d="M1282.0 488.3h0"/><path stroke="#ff0051" d="M1275.4 531.5h0"/><path stroke="#ff0057" d="M1294.2 519.4h0"/><path stroke="#0087fa" d="M480.9 502.2h0"/><path stroke="#ff0051" d="M1262.3 523.9h0"/><path stroke="#ff0057" d="M1265.5 500.9h0"/><path stroke="#0087fa" d="M414.5 497.0h0"/><path stroke="#ff0057" d="M1269.4 521.5h0"/><path stroke="#008bfb" d="M534.7 491.2h0"/><path stroke="#ff0051" d="M1246.3 506.5h0"/><path stroke="#008bfb" d="M435.3 498.0h0"/></g><line x1="309.4" y1="1628.2" x2="1720.4" y2="1628.2" stroke="#111" stroke-width="3"/><path d="M408.5 1628.2V1641.7M575.5 1628.2V1641.7M742.5 1628.2V1641.7M909.5 1628.2V1641.7M1076.5 1628.2V1641.7M1243.5 1628.2V1641.7M1410.5 1628.2V1641.7M1577.5 1628.2V1641.7" stroke="#333" stroke-width="3" fill="none"/><g font-family="'DejaVu Sans','Liberation Sans',sans-serif" font-size="41" fill="#333" text-anchor="middle"><text x="408.0" y="1686">−4</text><text x="575.0" y="1686">−3</text><text x="742.0" y="1686">−2</text><text x="909.0" y="1686">−1</text><text x="1076.0" y="1686">0</text><text x="1243.0" y="1686">1</text><text x="1410.0" y="1686">2</text><text x="1577.0" y="1686">3</text></g><g font-family="'DejaVu Sans','Liberation Sans',sans-serif" font-size="49" fill="#333"><text x="11.4" y="514.7" textLength="211.8" lengthAdjust="spacing">HisPONV</text><text x="135.0" y="628.9" textLength="89.7" lengthAdjust="spacing">Sex</text><text x="55.6" y="742.0" textLength="171.0" lengthAdjust="spacing">Weight</text><text x="67.0" y="854.9" textLength="157.0" lengthAdjust="spacing">HisSur</text><text x="89.2" y="967.8" textLength="138.1" lengthAdjust="spacing">InfVol</text><text x="81.9" y="1080.8" textLength="145.8" lengthAdjust="spacing">UriVol</text><text x="130.7" y="1193.9" textLength="93.0" lengthAdjust="spacing">Age</text><text x="134.0" y="1306.7" textLength="89.8" lengthAdjust="spacing">BMI</text><text x="63.4" y="1419.7" textLength="160.5" lengthAdjust="spacing">Height</text><text x="26.3" y="1532.6" textLength="197.1" lengthAdjust="spacing">PCA_3.0</text></g><text x="1014.9" y="1745.3" font-family="'DejaVu Sans','Liberation Sans',sans-serif" font-size="48.4" fill="#000" text-anchor="middle">SHAP value (impact on model output)</text><rect x="1806.8" y="383.4" width="16" height="1243.9" fill="url(#gcb)"/><text x="1835.3" y="399.1" font-family="'DejaVu Sans','Liberation Sans',sans-serif" font-size="41" fill="#000">High</text><text x="1835.1" y="1643.6" font-family="'DejaVu Sans','Liberation Sans',sans-serif" font-size="41" fill="#000">Low</text><text transform="translate(1963.8 1004.3) rotate(-90)" font-family="'DejaVu Sans','Liberation Sans',sans-serif" font-size="45.2" fill="#000" text-anchor="middle">*Feature value</text><rect x="0" y="1797" width="2006" height="2" fill="#dcdcdc"/></svg></body></html>
